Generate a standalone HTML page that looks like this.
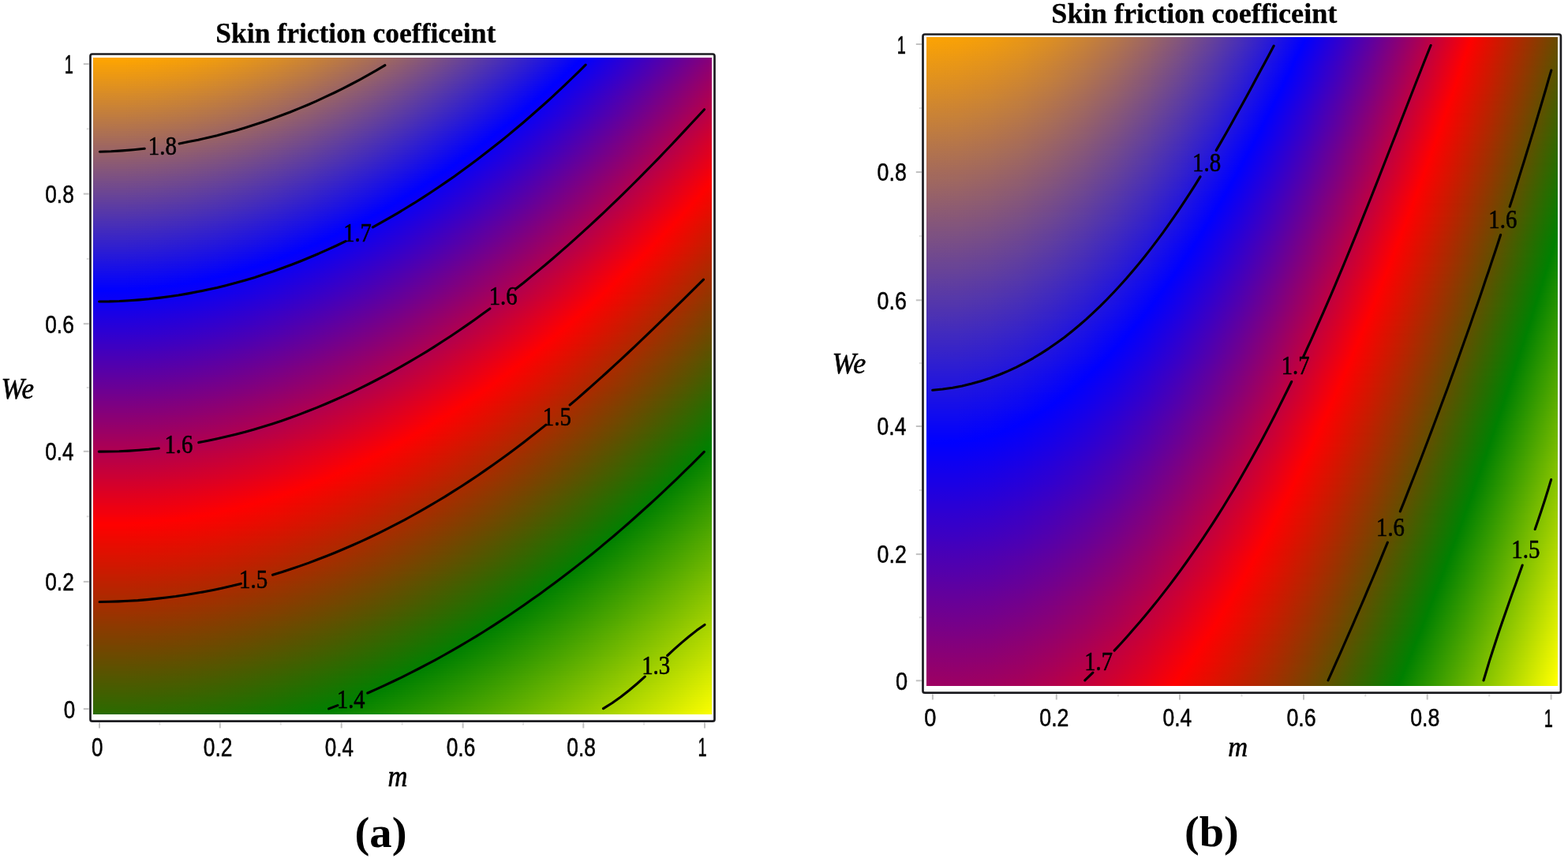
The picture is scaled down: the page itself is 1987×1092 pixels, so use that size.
<!DOCTYPE html><html><head><meta charset="utf-8"><title>Skin friction coefficeint</title><style>
html,body{margin:0;padding:0;background:#fff}
body{width:1987px;height:1092px;position:relative;overflow:hidden}
.g{position:absolute;overflow:hidden}
.g i{position:absolute;left:0;width:100%;display:block}
svg{position:absolute;left:0;top:0;filter:blur(0.6px)}
text{fill:#000;stroke:#000;stroke-width:.5px;stroke-linejoin:round}
.t{font:bold 36px "Liberation Serif",serif;stroke-width:.3px}
.n{font:30px "Liberation Sans",sans-serif}
.c{font:32px "Liberation Serif",serif;stroke-width:.6px}
.l{font:italic 30px "Liberation Serif",serif}
.p{font:bold 56px "Liberation Serif",serif;stroke-width:0}
</style></head><body>
<div class="g" style="left:118px;top:73px;width:784px;height:832px"><i style="top:0px;height:3px;background:linear-gradient(90deg,#fea401 0%,#fea401 5%,#fba204 10%,#f69f09 15%,#ee9a11 20%,#e5941a 25%,#d98c26 30%,#cb8334 35%,#bb7944 40%,#a96d56 45%,#95606a 50%,#7f5280 55%,#684397 60%,#4f33b0 65%,#3422cb 70%,#180fe7 75%,#00f 78.98%,#2500da 85%,#4500ba 90%,#609 95%,#890076 100%)"></i><i style="top:3px;height:3px;background:linear-gradient(90deg,#fca303 0%,#fba304 5%,#f8a107 10%,#f39d0c 15%,#ec9913 20%,#e2921d 25%,#d68b29 30%,#c88137 35%,#b87747 40%,#a66c59 45%,#925f6d 50%,#7d5182 55%,#65419a 60%,#4c31b3 65%,#3120ce 70%,#150eea 75%,#00f 78.58%,#2700d8 85%,#4700b8 90%,#690096 95%,#8b0074 100%)"></i><i style="top:6px;height:3px;background:linear-gradient(90deg,#f9a106 0%,#f9a106 5%,#f69f09 10%,#f19c0e 15%,#e99716 20%,#df9120 25%,#d4892b 30%,#c68039 35%,#b67549 40%,#a46a5b 45%,#905d6f 50%,#7a4f85 55%,#63409c 60%,#4a30b5 65%,#2f1ed0 70%,#130cec 75%,#00f 78.17%,#2a00d5 85%,#4a00b5 90%,#6b0094 95%,#8d0072 100%)"></i><i style="top:9px;height:3px;background:linear-gradient(90deg,#f69f09 0%,#f69f09 5%,#f39d0c 10%,#ee9a11 15%,#e79518 20%,#dd8f22 25%,#d1872e 30%,#c37e3c 35%,#b3744c 40%,#a1685e 45%,#8d5b72 50%,#784d87 55%,#603e9f 60%,#472eb8 65%,#2c1dd3 70%,#100bef 75%,#00f 77.77%,#2c00d3 85%,#4c00b3 90%,#6d0092 95%,#90006f 100%)"></i><i style="top:12px;height:3px;background:linear-gradient(90deg,#f49e0b 0%,#f39e0c 5%,#f19c0e 10%,#eb9814 15%,#e4931b 20%,#da8d25 25%,#ce8631 30%,#c07d3f 35%,#b0724f 40%,#9f6760 45%,#8b5a74 50%,#754c8a 55%,#5e3da1 60%,#452cba 65%,#2a1bd5 70%,#00f 77.36%,#1000ef 80%,#2e00d1 85%,#4e00b1 90%,#70008f 95%,#92006d 100%)"></i><i style="top:15px;height:3px;background:linear-gradient(90deg,#f19c0e 0%,#f19c0e 5%,#ee9a11 10%,#e99716 15%,#e1921e 20%,#d88c27 25%,#cc8433 30%,#be7b41 35%,#ae7151 40%,#9c6563 45%,#885877 50%,#734a8c 55%,#5b3ba4 60%,#422bbd 65%,#281ad7 70%,#00f 76.95%,#1200ed 80%,#3100ce 85%,#5100ae 90%,#72008d 95%,#94006b 100%)"></i><i style="top:18px;height:3px;background:linear-gradient(90deg,#ef9a10 0%,#ee9a11 5%,#eb9814 10%,#e69519 15%,#df9020 20%,#d58a2a 25%,#c98236 30%,#bb7944 35%,#ab6f54 40%,#996366 45%,#865679 50%,#70498f 55%,#5939a6 60%,#4029bf 65%,#2518da 70%,#00f 76.53%,#1400eb 80%,#30c 85%,#5300ac 90%,#74008b 95%,#970068 100%)"></i><i style="top:21px;height:3px;background:linear-gradient(90deg,#ec9913 0%,#ec9813 5%,#e99716 10%,#e4931b 15%,#dc8e23 20%,#d3882c 25%,#c78138 30%,#b97846 35%,#a96d56 40%,#976268 45%,#83557c 50%,#6e4791 55%,#5638a9 60%,#3d28c2 65%,#2316dc 70%,#00f 76.12%,#1700e8 80%,#3500ca 85%,#50a 90%,#760089 95%,#906 100%)"></i><i style="top:24px;height:3px;background:linear-gradient(90deg,#e99716 0%,#e99716 5%,#e69519 10%,#e1921e 15%,#da8d25 20%,#d0872f 25%,#c47f3b 30%,#b67649 35%,#a66c59 40%,#94606b 45%,#81537e 50%,#6b4594 55%,#5436ab 60%,#3b26c4 65%,#2015df 70%,#00f 75.7%,#1900e6 80%,#3800c7 85%,#5800a7 90%,#790086 95%,#9b0064 100%)"></i><i style="top:27px;height:3px;background:linear-gradient(90deg,#e79518 0%,#e69519 5%,#e4931b 10%,#df9020 15%,#d78b28 20%,#cd8532 25%,#c27d3d 30%,#b4744b 35%,#a46a5b 40%,#925e6d 45%,#7e5281 50%,#694496 55%,#5135ae 60%,#3824c7 65%,#1e13e1 70%,#00f 75.28%,#1c00e3 80%,#3a00c5 85%,#5a00a5 90%,#7b0084 95%,#9d0062 100%)"></i><i style="top:30px;height:3px;background:linear-gradient(90deg,#e4941b 0%,#e4931b 5%,#e1921e 10%,#dc8e23 15%,#d4892b 20%,#cb8334 25%,#bf7c40 30%,#b1734e 35%,#a1685e 40%,#8f5d70 45%,#7c5083 50%,#664299 55%,#4f33b0 60%,#3623c9 65%,#1b12e4 70%,#00f 74.86%,#1e00e1 80%,#3c00c3 85%,#5c00a3 90%,#7d0082 95%,#a0005f 100%)"></i><i style="top:33px;height:3px;background:linear-gradient(90deg,#e2921d 0%,#e1921e 5%,#df9020 10%,#d98d26 15%,#d2882d 20%,#c88237 25%,#bc7a43 30%,#af7150 35%,#9f6760 40%,#8d5b72 45%,#794e86 50%,#64409b 55%,#4c31b3 60%,#3321cc 65%,#1910e6 70%,#00f 74.44%,#2000df 80%,#3f00c0 85%,#5f00a0 90%,#80007f 95%,#a2005d 100%)"></i><i style="top:36px;height:3px;background:linear-gradient(90deg,#df9020 0%,#df9020 5%,#dc8e23 10%,#d78b28 15%,#cf8630 20%,#c68039 25%,#ba7845 30%,#ac6f53 35%,#9c6563 40%,#8a5975 45%,#774d88 50%,#613f9e 55%,#4a30b5 60%,#3120ce 65%,#160ee9 70%,#00f 74.01%,#2300dc 80%,#4100be 85%,#61009e 90%,#82007d 95%,#a4005b 100%)"></i><i style="top:39px;height:3px;background:linear-gradient(90deg,#dd8f22 0%,#dc8e23 5%,#d98d26 10%,#d4892b 15%,#cd8432 20%,#c37e3c 25%,#b77748 30%,#a96e56 35%,#9a6365 40%,#885877 45%,#744b8b 50%,#5f3da0 55%,#472eb8 60%,#2e1ed1 65%,#140deb 70%,#00f 73.58%,#2500da 80%,#40b 85%,#63009c 90%,#84007b 95%,#a60059 100%)"></i><i style="top:42px;height:3px;background:linear-gradient(90deg,#da8d25 0%,#da8d25 5%,#d78b28 10%,#d2882d 15%,#ca8335 20%,#c07d3f 25%,#b5754a 30%,#a76c58 35%,#976268 40%,#85567a 45%,#71498e 50%,#5c3ca3 55%,#452dba 60%,#2c1cd3 65%,#110bee 70%,#00f 73.15%,#2700d8 80%,#4600b9 85%,#609 90%,#870078 95%,#a90056 100%)"></i><i style="top:45px;height:3px;background:linear-gradient(90deg,#d78b28 0%,#d78b28 5%,#d4892b 10%,#cf8630 15%,#c88137 20%,#be7b41 25%,#b2734d 30%,#a46a5b 35%,#94606b 40%,#83557c 45%,#6f4890 50%,#593aa6 55%,#422bbd 60%,#291bd6 65%,#0f0af0 70%,#00f 72.71%,#2a00d5 80%,#4800b7 85%,#680097 90%,#890076 95%,#ab0054 100%)"></i><i style="top:48px;height:3px;background:linear-gradient(90deg,#d58a2a 0%,#d4892b 5%,#d2882d 10%,#cc8433 15%,#c57f3a 20%,#bb7944 25%,#b0724f 30%,#a2695d 35%,#925e6d 40%,#80537f 45%,#6c4693 50%,#5738a8 55%,#4029bf 60%,#2719d8 65%,#00f 72.28%,#0f00f0 75%,#2c00d3 80%,#4b00b4 85%,#6a0095 90%,#8b0074 95%,#ad0052 100%)"></i><i style="top:51px;height:3px;background:linear-gradient(90deg,#d2882d 0%,#d2882d 5%,#cf8630 10%,#ca8335 15%,#c27e3d 20%,#b97846 25%,#ad7052 30%,#9f6760 35%,#8f5d70 40%,#7e5181 45%,#6a4595 50%,#5437ab 55%,#3d28c2 60%,#2418db 65%,#00f 71.84%,#1200ed 75%,#2f00d0 80%,#4d00b2 85%,#6d0092 90%,#8e0071 95%,#b0004f 100%)"></i><i style="top:54px;height:3px;background:linear-gradient(90deg,#d0862f 0%,#cf8630 5%,#cc8433 10%,#c78138 15%,#c07c3f 20%,#b67649 25%,#aa6e55 30%,#9d6562 35%,#8d5b72 40%,#7b5084 45%,#674398 50%,#5235ad 55%,#3b26c4 60%,#2216dd 65%,#00f 71.39%,#1400eb 75%,#3100ce 80%,#4f00b0 85%,#6f0090 90%,#90006f 95%,#b2004d 100%)"></i><i style="top:57px;height:3px;background:linear-gradient(90deg,#cd8532 0%,#cd8432 5%,#ca8335 10%,#c57f3a 15%,#bd7a42 20%,#b4744b 25%,#a86d57 30%,#9a6465 35%,#8a5975 40%,#784e87 45%,#65419a 50%,#4f33b0 55%,#3824c7 60%,#2014df 65%,#00f 70.95%,#1600e9 75%,#30c 80%,#5200ad 85%,#71008e 90%,#92006d 95%,#b4004b 100%)"></i><i style="top:60px;height:3px;background:linear-gradient(90deg,#ca8335 0%,#ca8335 5%,#c78138 10%,#c27e3d 15%,#bb7944 20%,#b1734e 25%,#a56b5a 30%,#976268 35%,#885877 40%,#764c89 45%,#62409d 50%,#4d32b2 55%,#3623c9 60%,#1d13e2 65%,#00f 70.5%,#1900e6 75%,#3600c9 80%,#5400ab 85%,#74008b 90%,#94006b 95%,#b60049 100%)"></i><i style="top:63px;height:3px;background:linear-gradient(90deg,#c88137 0%,#c78138 5%,#c57f3a 10%,#bf7c40 15%,#b87747 20%,#ae7151 25%,#a3695c 30%,#95606a 35%,#85567a 40%,#734b8c 45%,#603e9f 50%,#4a30b5 55%,#3321cc 60%,#1b11e4 65%,#00f 70.05%,#1b00e4 75%,#3800c7 80%,#5600a9 85%,#760089 90%,#970068 95%,#b90046 100%)"></i><i style="top:66px;height:3px;background:linear-gradient(90deg,#c5803a 0%,#c57f3a 5%,#c27e3d 10%,#bd7a42 15%,#b5754a 20%,#ac6f53 25%,#a0685f 30%,#925f6d 35%,#83547c 40%,#71498e 45%,#5d3ca2 50%,#482fb7 55%,#3120ce 60%,#1810e7 65%,#00f 69.59%,#1e00e1 75%,#3b00c4 80%,#5900a6 85%,#780087 90%,#906 95%,#b04 100%)"></i><i style="top:69px;height:3px;background:linear-gradient(90deg,#c37e3c 0%,#c27e3d 5%,#bf7c40 10%,#ba7945 15%,#b3744c 20%,#a96e56 25%,#9e6661 30%,#905d6f 35%,#80537f 40%,#6e4791 45%,#5b3ba4 50%,#452dba 55%,#2e1ed1 60%,#160ee9 65%,#00f 69.14%,#2000df 75%,#3d00c2 80%,#5b00a4 85%,#7b0084 90%,#9b0064 95%,#bd0042 100%)"></i><i style="top:72px;height:3px;background:linear-gradient(90deg,#c07c3f 0%,#c07c3f 5%,#bd7a42 10%,#b87747 15%,#b0724f 20%,#a76c58 25%,#9b6464 30%,#8d5b72 35%,#7d5182 40%,#6c4693 45%,#5839a7 50%,#432bbc 55%,#2c1cd3 60%,#130cec 65%,#00f 68.68%,#20d 75%,#3f00c0 80%,#5d00a2 85%,#7d0082 90%,#9e0061 95%,#c0003f 100%)"></i><i style="top:75px;height:3px;background:linear-gradient(90deg,#bd7b42 0%,#bd7a42 5%,#ba7945 10%,#b5754a 15%,#ae7051 20%,#a46a5b 25%,#986367 30%,#8b5a74 35%,#7b5084 40%,#694496 45%,#5637a9 50%,#402abf 55%,#291bd6 60%,#110bee 65%,#00f 68.21%,#2500da 75%,#4200bd 80%,#60009f 85%,#7f0080 90%,#a0005f 95%,#c2003d 100%)"></i><i style="top:78px;height:3px;background:linear-gradient(90deg,#bb7944 0%,#ba7945 5%,#b87747 10%,#b3744c 15%,#ab6f54 20%,#a2695d 25%,#966169 30%,#885877 35%,#784e87 40%,#674298 45%,#5336ac 50%,#3e28c1 55%,#2719d8 60%,#0e09f1 65%,#00f 67.75%,#2700d8 75%,#40b 80%,#62009d 85%,#82007d 90%,#a2005d 95%,#c4003b 100%)"></i><i style="top:81px;height:3px;background:linear-gradient(90deg,#b87747 0%,#b87747 5%,#b5754a 10%,#b0724f 15%,#a96d56 20%,#9f6760 25%,#935f6c 30%,#865679 35%,#764c89 40%,#64419b 45%,#5134ae 50%,#3b26c4 55%,#2418db 60%,#00f 67.28%,#0e00f1 70%,#2a00d5 75%,#4600b9 80%,#65009a 85%,#84007b 90%,#a5005a 95%,#c60039 100%)"></i><i style="top:84px;height:3px;background:linear-gradient(90deg,#b67649 0%,#b5754a 5%,#b2734d 10%,#ad7052 15%,#a66b59 20%,#9c6563 25%,#915e6e 30%,#83557c 35%,#734b8c 40%,#623f9d 45%,#4e33b1 50%,#3925c6 55%,#2216dd 60%,#00f 66.81%,#10e 70%,#2c00d3 75%,#4900b6 80%,#670098 85%,#860079 90%,#a70058 95%,#c90036 100%)"></i><i style="top:87px;height:3px;background:linear-gradient(90deg,#b3744c 0%,#b3744c 5%,#b0724f 10%,#ab6f54 15%,#a36a5c 20%,#9a6465 25%,#8e5c71 30%,#80537f 35%,#71498e 40%,#5f3ea0 45%,#4c31b3 50%,#3623c9 55%,#1f14e0 60%,#00f 66.33%,#1300ec 70%,#2e00d1 75%,#4b00b4 80%,#690096 85%,#890076 90%,#a90056 95%,#cb0034 100%)"></i><i style="top:90px;height:3px;background:linear-gradient(90deg,#b0724f 0%,#b0724f 5%,#ad7052 10%,#a86d57 15%,#a1685e 20%,#976268 25%,#8c5a73 30%,#7e5181 35%,#6e4791 40%,#5d3ca2 45%,#492fb6 50%,#3422cb 55%,#1d13e2 60%,#00f 65.85%,#1600e9 70%,#3100ce 75%,#4e00b1 80%,#6c0093 85%,#8b0074 90%,#ab0054 95%,#cd0032 100%)"></i><i style="top:93px;height:3px;background:linear-gradient(90deg,#ae7151 0%,#ad7052 5%,#ab6e54 10%,#a66b59 15%,#9e6661 20%,#95606a 25%,#895976 30%,#7b5084 35%,#6c4693 40%,#5a3aa5 45%,#472eb8 50%,#3120ce 55%,#1a11e5 60%,#00f 65.37%,#1800e7 70%,#30c 75%,#5000af 80%,#6e0091 85%,#8d0072 90%,#ae0051 95%,#cf0030 100%)"></i><i style="top:96px;height:3px;background:linear-gradient(90deg,#ab6f54 0%,#ab6f54 5%,#a86d57 10%,#a3695c 15%,#9c6563 20%,#925f6d 25%,#865779 30%,#794e86 35%,#694496 40%,#5739a8 45%,#442cbb 50%,#2f1ed0 55%,#180fe7 60%,#00f 64.88%,#1a00e5 70%,#3600c9 75%,#5200ad 80%,#70008f 85%,#90006f 90%,#b0004f 95%,#d2002d 100%)"></i><i style="top:99px;height:3px;background:linear-gradient(90deg,#a96d56 0%,#a86d57 5%,#a66b59 10%,#a0685f 15%,#996366 20%,#905d6f 25%,#84557b 30%,#764c89 35%,#674298 40%,#5537aa 45%,#422abd 50%,#2c1dd3 55%,#150eea 60%,#00f 64.39%,#1d00e2 70%,#3800c7 75%,#50a 80%,#73008c 85%,#92006d 90%,#b2004d 95%,#d4002b 100%)"></i><i style="top:102px;height:3px;background:linear-gradient(90deg,#a66b59 0%,#a66b59 5%,#a3695c 10%,#9e6661 15%,#976168 20%,#8d5b72 25%,#81547e 30%,#744b8b 35%,#64419b 40%,#5235ad 45%,#3f29c0 50%,#2a1bd5 55%,#130cec 60%,#00f 63.9%,#1f00e0 70%,#3a00c5 75%,#5700a8 80%,#75008a 85%,#94006b 90%,#b5004a 95%,#d60029 100%)"></i><i style="top:105px;height:3px;background:linear-gradient(90deg,#a36a5c 0%,#a36a5c 5%,#a0685f 10%,#9b6464 15%,#94606b 20%,#8a5a75 25%,#7f5280 30%,#71498e 35%,#613f9e 40%,#5034af 45%,#3c27c3 50%,#2719d8 55%,#100bef 60%,#00f 63.4%,#20d 70%,#3d00c2 75%,#5900a6 80%,#708 85%,#970068 90%,#b70048 95%,#d90026 100%)"></i><i style="top:108px;height:3px;background:linear-gradient(90deg,#a1685e 0%,#a1685e 5%,#9e6661 10%,#996366 15%,#915e6e 20%,#885877 25%,#7c5083 30%,#6f4890 35%,#5f3da0 40%,#4d32b2 45%,#3a26c5 50%,#2518da 55%,#0e09f1 60%,#00f 62.9%,#2400db 70%,#3f00c0 75%,#5c00a3 80%,#7a0085 85%,#906 90%,#b90046 95%,#db0024 100%)"></i><i style="top:111px;height:3px;background:linear-gradient(90deg,#9e6661 0%,#9e6661 5%,#9b6464 10%,#966169 15%,#8f5c70 20%,#85567a 25%,#7a4f85 30%,#6c4693 35%,#5c3ca3 40%,#4b30b4 45%,#3724c8 50%,#2216dd 55%,#00f 62.39%,#0d00f2 65%,#2600d9 70%,#4200bd 75%,#5e00a1 80%,#7c0083 85%,#9b0064 90%,#bc0043 95%,#d02 100%)"></i><i style="top:114px;height:3px;background:linear-gradient(90deg,#9c6563 0%,#9b6564 5%,#996366 10%,#935f6c 15%,#8c5b73 20%,#83557c 25%,#774d88 30%,#694496 35%,#5a3aa5 40%,#482fb7 45%,#3522ca 50%,#2015df 55%,#00f 61.88%,#0f00f0 65%,#2900d6 70%,#40b 75%,#61009e 80%,#7e0081 85%,#9e0061 90%,#be0041 95%,#df0020 100%)"></i><i style="top:117px;height:3px;background:linear-gradient(90deg,#996366 0%,#996366 5%,#966169 10%,#915e6e 15%,#8a5975 20%,#80537f 25%,#744b8b 30%,#674398 35%,#5738a8 40%,#462db9 45%,#3221cd 50%,#1d13e2 55%,#00f 61.37%,#1200ed 65%,#2b00d4 70%,#4600b9 75%,#63009c 80%,#81007e 85%,#a0005f 90%,#c0003f 95%,#e2001d 100%)"></i><i style="top:120px;height:3px;background:linear-gradient(90deg,#976168 0%,#966169 5%,#935f6c 10%,#8e5c71 15%,#875778 20%,#7e5181 25%,#724a8d 30%,#64419b 35%,#5537aa 40%,#432bbc 45%,#301fcf 50%,#1b11e4 55%,#00f 60.85%,#1400eb 65%,#2e00d1 70%,#4900b6 75%,#65009a 80%,#83007c 85%,#a2005d 90%,#c2003d 95%,#e4001b 100%)"></i><i style="top:123px;height:3px;background:linear-gradient(90deg,#94606b 0%,#945f6b 5%,#915e6e 10%,#8c5a73 15%,#84567b 20%,#7b5084 25%,#6f4890 30%,#623f9d 35%,#5235ad 40%,#412abe 45%,#2d1dd2 50%,#1810e7 55%,#00f 60.32%,#1700e8 65%,#3000cf 70%,#4b00b4 75%,#680097 80%,#85007a 85%,#a5005a 90%,#c5003a 95%,#e60019 100%)"></i><i style="top:126px;height:3px;background:linear-gradient(90deg,#915e6e 0%,#915e6e 5%,#8e5c71 10%,#895976 15%,#82547d 20%,#784e87 25%,#6d4692 30%,#5f3ea0 35%,#5034af 40%,#3e28c1 45%,#2b1cd4 50%,#160ee9 55%,#00f 59.8%,#1900e6 65%,#30c 70%,#4e00b1 75%,#6a0095 80%,#807 85%,#a70058 90%,#c70038 95%,#e80017 100%)"></i><i style="top:129px;height:3px;background:linear-gradient(90deg,#8f5c70 0%,#8e5c71 5%,#8c5a73 10%,#875778 15%,#7f5280 20%,#764c89 25%,#6a4595 30%,#5d3ca2 35%,#4d32b2 40%,#3c27c3 45%,#281ad7 50%,#130cec 55%,#00f 59.27%,#1b00e4 65%,#3500ca 70%,#5000af 75%,#6c0093 80%,#8a0075 85%,#a90056 90%,#c90036 95%,#eb0014 100%)"></i><i style="top:132px;height:3px;background:linear-gradient(90deg,#8c5b73 0%,#8c5a73 5%,#895976 10%,#84557b 15%,#7d5182 20%,#734b8c 25%,#684397 30%,#5a3aa5 35%,#4b30b4 40%,#3925c6 45%,#2618d9 50%,#110bee 55%,#00f 58.73%,#1e00e1 65%,#3700c8 70%,#5200ad 75%,#6f0090 80%,#8d0072 85%,#ab0054 90%,#c03 95%,#ed0012 100%)"></i><i style="top:135px;height:3px;background:linear-gradient(90deg,#8a5975 0%,#895976 5%,#865779 10%,#81547e 15%,#7a4f85 20%,#71498e 25%,#65419a 30%,#5839a7 35%,#482fb7 40%,#3723c8 45%,#2317dc 50%,#0e09f1 55%,#00f 58.19%,#2000df 65%,#3a00c5 70%,#50a 75%,#71008e 80%,#8f0070 85%,#ae0051 90%,#ce0031 95%,#ef0010 100%)"></i><i style="top:138px;height:3px;background:linear-gradient(90deg,#875778 0%,#875778 5%,#84557b 10%,#7f5280 15%,#784d87 20%,#6e4791 25%,#63409c 30%,#5537aa 35%,#452dba 40%,#3422cb 45%,#2115de 50%,#0c08f3 55%,#00f 57.64%,#2300dc 65%,#3c00c3 70%,#5700a8 75%,#74008b 80%,#91006e 85%,#b0004f 90%,#d0002f 95%,#f1000e 100%)"></i><i style="top:141px;height:3px;background:linear-gradient(90deg,#84567b 0%,#84557b 5%,#81547e 10%,#7c5083 15%,#754c8a 20%,#6b4694 25%,#603e9f 30%,#5235ad 35%,#432bbc 40%,#3120ce 45%,#1e14e1 50%,#00f 57.09%,#0d00f2 60%,#2500da 65%,#3f00c0 70%,#5a00a5 75%,#760089 80%,#94006b 85%,#b2004d 90%,#d3002c 95%,#f4000b 100%)"></i><i style="top:144px;height:3px;background:linear-gradient(90deg,#82547d 0%,#81547e 5%,#7f5280 10%,#7a4f85 15%,#724a8d 20%,#694496 25%,#5d3ca2 30%,#5034af 35%,#402abf 40%,#2f1ed0 45%,#1c12e3 50%,#00f 56.53%,#1000ef 60%,#2800d7 65%,#4100be 70%,#5c00a3 75%,#780087 80%,#960069 85%,#b5004a 90%,#d5002a 95%,#f60009 100%)"></i><i style="top:147px;height:3px;background:linear-gradient(90deg,#7f5280 0%,#7f5280 5%,#7c5083 10%,#774d88 15%,#70488f 20%,#664299 25%,#5b3ba4 30%,#4d32b2 35%,#3e28c1 40%,#2c1dd3 45%,#1910e6 50%,#00f 55.97%,#1200ed 60%,#2a00d5 65%,#4300bc 70%,#5e00a1 75%,#7b0084 80%,#980067 85%,#b70048 90%,#d70028 95%,#f80007 100%)"></i><i style="top:150px;height:3px;background:linear-gradient(90deg,#7d5182 0%,#7c5083 5%,#794f86 10%,#744b8b 15%,#6d4792 20%,#64419b 25%,#5839a7 30%,#4b30b4 35%,#3b26c4 40%,#2a1bd5 45%,#170fe8 50%,#00f 55.4%,#1500ea 60%,#2c00d3 65%,#4600b9 70%,#61009e 75%,#7d0082 80%,#9b0064 85%,#b90046 90%,#d90026 95%,#fb0004 100%)"></i><i style="top:153px;height:3px;background:linear-gradient(90deg,#7a4f85 0%,#7a4f85 5%,#774d88 10%,#724a8d 15%,#6b4594 20%,#613f9e 25%,#5637a9 30%,#482fb7 35%,#3925c6 40%,#2719d8 45%,#140deb 50%,#00f 54.82%,#1700e8 60%,#2f00d0 65%,#4800b7 70%,#63009c 75%,#7f0080 80%,#9d0062 85%,#bc0043 90%,#dc0023 95%,#fd0002 100%)"></i><i style="top:156px;height:3px;background:linear-gradient(90deg,#774d88 0%,#774d88 5%,#744b8b 10%,#6f4890 15%,#684397 20%,#5f3da0 25%,#5336ac 30%,#462db9 35%,#3623c9 40%,#2518da 45%,#120bed 50%,#00f 54.24%,#1a00e5 60%,#3100ce 65%,#4b00b4 70%,#609 75%,#82007d 80%,#9f0060 85%,#be0041 90%,#de0021 95%,#f00 99.99%,#f00 100%)"></i><i style="top:159px;height:3px;background:linear-gradient(90deg,#754c8a 0%,#744b8b 5%,#724a8d 10%,#6d4692 15%,#65429a 20%,#5c3ca3 25%,#5134ae 30%,#432bbc 35%,#3421cb 40%,#2216dd 45%,#0f0af0 50%,#00f 53.66%,#1c00e3 60%,#3400cb 65%,#4d00b2 70%,#680097 75%,#84007b 80%,#a2005d 85%,#c0003f 90%,#e0001f 95%,#f00 99.65%,#fd0100 100%)"></i><i style="top:162px;height:3px;background:linear-gradient(90deg,#724a8d 0%,#724a8d 5%,#6f4890 10%,#6a4595 15%,#63409c 20%,#593aa6 25%,#4e32b1 30%,#402abf 35%,#3120ce 40%,#2015df 45%,#0d08f2 50%,#00f 53.06%,#1e00e1 60%,#3600c9 65%,#5000af 70%,#6a0095 75%,#870078 80%,#a4005b 85%,#c3003c 90%,#e3001c 95%,#f00 99.31%,#fa0200 100%)"></i><i style="top:165px;height:3px;background:linear-gradient(90deg,#70488f 0%,#6f4890 5%,#6c4693 10%,#674398 15%,#603e9f 20%,#5738a8 25%,#4b31b4 30%,#3e28c1 35%,#2e1ed1 40%,#1d13e2 45%,#00f 52.46%,#0b00f4 55%,#2100de 60%,#3900c6 65%,#5200ad 70%,#6d0092 75%,#890076 80%,#a60059 85%,#c5003a 90%,#e5001a 95%,#f00 98.97%,#f80400 100%)"></i><i style="top:168px;height:3px;background:linear-gradient(90deg,#6d4792 0%,#6d4692 5%,#6a4595 10%,#65419a 15%,#5e3da1 20%,#5437ab 25%,#492fb6 30%,#3b26c4 35%,#2c1cd3 40%,#1b11e4 45%,#00f 51.86%,#0d00f2 55%,#2300dc 60%,#3b00c4 65%,#5400ab 70%,#6f0090 75%,#8b0074 80%,#a90056 85%,#c70038 90%,#e70018 95%,#f00 98.63%,#f60500 100%)"></i><i style="top:171px;height:3px;background:linear-gradient(90deg,#6a4595 0%,#6a4595 5%,#674398 10%,#62409d 15%,#5b3ba4 20%,#5235ad 25%,#462db9 30%,#3925c6 35%,#291bd6 40%,#1810e7 45%,#00f 51.24%,#1000ef 55%,#2600d9 60%,#3e00c1 65%,#5700a8 70%,#72008d 75%,#8e0071 80%,#ab0054 85%,#ca0035 90%,#e90016 95%,#f00 98.29%,#f30600 100%)"></i><i style="top:174px;height:3px;background:linear-gradient(90deg,#684397 0%,#674398 5%,#65419a 10%,#603e9f 15%,#5839a7 20%,#4f33b0 25%,#442cbb 30%,#3623c9 35%,#2719d8 40%,#160ee9 45%,#00f 50.62%,#1200ed 55%,#2800d7 60%,#4000bf 65%,#5900a6 70%,#74008b 75%,#90006f 80%,#ad0052 85%,#c03 90%,#ec0013 95%,#f00 97.94%,#f10700 100%)"></i><i style="top:177px;height:3px;background:linear-gradient(90deg,#65419a 0%,#65419a 5%,#623f9d 10%,#5d3ca2 15%,#5638a9 20%,#4d32b2 25%,#412abe 30%,#3421cb 35%,#2417db 40%,#130cec 45%,#00f 50%,#1500ea 55%,#2b00d4 60%,#4200bd 65%,#5c00a3 70%,#760089 75%,#92006d 80%,#b0004f 85%,#ce0031 90%,#e01 95%,#f00 97.6%,#ef0800 100%)"></i><i style="top:180px;height:3px;background:linear-gradient(90deg,#63409c 0%,#62409d 5%,#603e9f 10%,#5b3ba4 15%,#5336ac 20%,#4a30b5 25%,#3f28c0 30%,#3120ce 35%,#2216dd 40%,#100bef 45%,#00f 49.36%,#1700e8 55%,#2d00d2 60%,#4500ba 65%,#5e00a1 70%,#790086 75%,#95006a 80%,#b2004d 85%,#d1002e 90%,#f00 97.25%,#ec0900 100%)"></i><i style="top:183px;height:3px;background:linear-gradient(90deg,#603e9f 0%,#603e9f 5%,#5d3ca2 10%,#5839a7 15%,#5134ae 20%,#472eb8 25%,#3c27c3 30%,#2f1ed0 35%,#1f14e0 40%,#0e09f1 45%,#00f 48.71%,#1900e6 55%,#3000cf 60%,#4700b8 65%,#60009f 70%,#7b0084 75%,#970068 80%,#b4004b 85%,#d3002c 90%,#f00 96.9%,#ea0a00 100%)"></i><i style="top:186px;height:3px;background:linear-gradient(90deg,#5d3ca2 0%,#5d3ca2 5%,#5a3aa5 10%,#5537aa 15%,#4e33b1 20%,#452dba 25%,#3925c6 30%,#2c1cd3 35%,#1d13e2 40%,#0b07f4 45%,#00f 48.06%,#1c00e3 55%,#3200cd 60%,#4a00b5 65%,#63009c 70%,#7e0081 75%,#9a0065 80%,#b70048 85%,#d5002a 90%,#f00 96.55%,#e80c00 100%)"></i><i style="top:189px;height:3px;background:linear-gradient(90deg,#5b3ba4 0%,#5a3ba5 5%,#5839a7 10%,#5336ac 15%,#4c31b3 20%,#422bbd 25%,#3723c8 30%,#291bd6 35%,#1a11e5 40%,#00f 47.4%,#0a00f5 50%,#1e00e1 55%,#3500ca 60%,#4c00b3 65%,#65009a 70%,#80007f 75%,#9c0063 80%,#b90046 85%,#d80027 90%,#f00 96.2%,#e60d00 100%)"></i><i style="top:192px;height:3px;background:linear-gradient(90deg,#5839a7 0%,#5839a7 5%,#5537aa 10%,#5034af 15%,#492fb6 20%,#4029bf 25%,#3422cb 30%,#2719d8 35%,#180fe7 40%,#00f 46.73%,#0c00f3 50%,#2100de 55%,#3700c8 60%,#4f00b0 65%,#680097 70%,#82007d 75%,#9e0061 80%,#b04 85%,#da0025 90%,#f00 95.85%,#e30e00 100%)"></i><i style="top:195px;height:3px;background:linear-gradient(90deg,#5637a9 0%,#5537aa 5%,#5335ac 10%,#4e32b1 15%,#462eb9 20%,#3d28c2 25%,#3220cd 30%,#2417db 35%,#150eea 40%,#00f 46.05%,#0f00f0 50%,#2300dc 55%,#3900c6 60%,#5100ae 65%,#6a0095 70%,#85007a 75%,#a1005e 80%,#be0041 85%,#dc0023 90%,#f00 95.49%,#e10f00 100%)"></i><i style="top:198px;height:3px;background:linear-gradient(90deg,#5336ac 0%,#5335ac 5%,#5034af 10%,#4b31b4 15%,#442cbb 20%,#3a26c5 25%,#2f1ed0 30%,#2216dd 35%,#120ced 40%,#00f 45.35%,#10e 50%,#2600d9 55%,#3c00c3 60%,#5300ac 65%,#6d0092 70%,#870078 75%,#a3005c 80%,#c0003f 85%,#df0020 90%,#f00 95.14%,#df1000 100%)"></i><i style="top:201px;height:3px;background:linear-gradient(90deg,#5034af 0%,#5034af 5%,#4d32b2 10%,#482fb7 15%,#412abe 20%,#3824c7 25%,#2d1dd2 30%,#1f14e0 35%,#100aef 40%,#00f 44.65%,#1400eb 50%,#2800d7 55%,#3e00c1 60%,#5600a9 65%,#6f0090 70%,#890076 75%,#a5005a 80%,#c2003d 85%,#e1001e 90%,#f00 94.78%,#dc1100 100%)"></i><i style="top:204px;height:3px;background:linear-gradient(90deg,#4e32b1 0%,#4d32b2 5%,#4b30b4 10%,#462db9 15%,#3f29c0 20%,#3523ca 25%,#2a1bd5 30%,#1d13e2 35%,#0d09f2 40%,#00f 43.94%,#1600e9 50%,#2b00d4 55%,#4100be 60%,#5800a7 65%,#71008e 70%,#8c0073 75%,#a80057 80%,#c5003a 85%,#e3001c 90%,#f00 94.42%,#da1300 100%)"></i><i style="top:207px;height:3px;background:linear-gradient(90deg,#4b31b4 0%,#4b30b4 5%,#482fb7 10%,#432bbc 15%,#3c27c3 20%,#3321cc 25%,#2719d8 30%,#1a11e5 35%,#0b07f4 40%,#00f 43.22%,#1900e6 50%,#2d00d2 55%,#4300bc 60%,#5b00a4 65%,#74008b 70%,#8e0071 75%,#a05 80%,#c70038 85%,#e60019 90%,#f00 94.06%,#d81400 100%)"></i><i style="top:210px;height:3px;background:linear-gradient(90deg,#492fb6 0%,#482fb7 5%,#462db9 10%,#412abe 15%,#3925c6 20%,#301fcf 25%,#2518da 30%,#180fe7 35%,#00f 42.48%,#0900f6 45%,#1b00e4 50%,#3000cf 55%,#4600b9 60%,#5d00a2 65%,#760089 70%,#91006e 75%,#ac0053 80%,#ca0035 85%,#e80017 90%,#f00 93.7%,#d51500 100%)"></i><i style="top:213px;height:3px;background:linear-gradient(90deg,#462db9 0%,#462db9 5%,#432bbc 10%,#3e28c1 15%,#3723c8 20%,#2e1dd1 25%,#2216dd 30%,#150eea 35%,#00f 41.73%,#0b00f4 45%,#1e00e1 50%,#3200cd 55%,#4800b7 60%,#60009f 65%,#790086 70%,#93006c 75%,#af0050 80%,#c03 85%,#ea0015 90%,#f00 93.34%,#d31600 100%)"></i><i style="top:216px;height:3px;background:linear-gradient(90deg,#432cbc 0%,#432bbc 5%,#402abf 10%,#3b26c4 15%,#3422cb 20%,#2b1cd4 25%,#2015df 30%,#120ced 35%,#00f 40.96%,#0e00f1 45%,#2000df 50%,#3500ca 55%,#4b00b4 60%,#62009d 65%,#7b0084 70%,#95006a 75%,#b1004e 80%,#ce0031 85%,#ec0013 90%,#f00 92.98%,#d11700 100%)"></i><i style="top:219px;height:3px;background:linear-gradient(90deg,#412abe 0%,#402abf 5%,#3e28c1 10%,#3925c6 15%,#3220cd 20%,#281ad7 25%,#1d13e2 30%,#100aef 35%,#00f 40.19%,#1000ef 45%,#2300dc 50%,#3700c8 55%,#4d00b2 60%,#65009a 65%,#7d0082 70%,#980067 75%,#b4004b 80%,#d1002e 85%,#ef0010 90%,#f00 92.61%,#cf1800 100%)"></i><i style="top:222px;height:3px;background:linear-gradient(90deg,#3e28c1 0%,#3e28c1 5%,#3b26c4 10%,#3623c9 15%,#2f1ed0 20%,#2618d9 25%,#1b11e4 30%,#0d09f2 35%,#00f 39.39%,#1300ec 45%,#2500da 50%,#3a00c5 55%,#5000af 60%,#670098 65%,#80007f 70%,#9a0065 75%,#b60049 80%,#d3002c 85%,#f00 92.24%,#ed0900 95%,#cc1a00 100%)"></i><i style="top:225px;height:3px;background:linear-gradient(90deg,#3c27c3 0%,#3b26c4 5%,#3925c6 10%,#3421cb 15%,#2d1dd2 20%,#2317dc 25%,#1810e7 30%,#0b07f4 35%,#00f 38.58%,#1500ea 45%,#2800d7 50%,#3c00c3 55%,#5200ad 60%,#690096 65%,#82007d 70%,#9d0062 75%,#b80047 80%,#d5002a 85%,#f00 91.87%,#eb0a00 95%,#ca1b00 100%)"></i><i style="top:228px;height:3px;background:linear-gradient(90deg,#3925c6 0%,#3925c6 5%,#3623c9 10%,#3120ce 15%,#2a1bd5 20%,#2115de 25%,#150eea 30%,#0805f7 35%,#00f 37.76%,#1800e7 45%,#2a00d5 50%,#3f00c0 55%,#5400ab 60%,#6c0093 65%,#85007a 70%,#9f0060 75%,#b04 80%,#d80027 85%,#f00 91.5%,#e90b00 95%,#c81c00 100%)"></i><i style="top:231px;height:3px;background:linear-gradient(90deg,#3623c9 0%,#3623c9 5%,#3321cc 10%,#2e1ed1 15%,#2719d8 20%,#1e13e1 25%,#130cec 30%,#00f 36.91%,#0900f6 40%,#1a00e5 45%,#2d00d2 50%,#4100be 55%,#5700a8 60%,#6e0091 65%,#870078 70%,#a1005e 75%,#bd0042 80%,#da0025 85%,#f00 91.13%,#e60c00 95%,#c51d00 100%)"></i><i style="top:234px;height:3px;background:linear-gradient(90deg,#3421cb 0%,#3321cc 5%,#3120ce 10%,#2c1cd3 15%,#2518da 20%,#1c12e3 25%,#100bef 30%,#00f 36.05%,#0c00f3 40%,#1d00e2 45%,#2f00d0 50%,#4300bc 55%,#5900a6 60%,#71008e 65%,#8a0075 70%,#a4005b 75%,#bf0040 80%,#dc0023 85%,#f00 90.76%,#e40e00 95%,#c31e00 100%)"></i><i style="top:237px;height:3px;background:linear-gradient(90deg,#3120ce 0%,#3120ce 5%,#2e1ed1 10%,#291bd6 15%,#2216dd 20%,#1910e6 25%,#0e09f1 30%,#00f 35.16%,#0e00f1 40%,#1f00e0 45%,#3200cd 50%,#4600b9 55%,#5c00a3 60%,#73008c 65%,#8c0073 70%,#a60059 75%,#c2003d 80%,#df0020 85%,#f00 90.38%,#e20f00 95%,#c11f00 100%)"></i><i style="top:240px;height:3px;background:linear-gradient(90deg,#2f1ed0 0%,#2e1ed1 5%,#2c1cd3 10%,#2719d8 15%,#2014df 20%,#160ee9 25%,#0b07f4 30%,#00f 34.25%,#10e 40%,#20d 45%,#3400cb 50%,#4800b7 55%,#5e00a1 60%,#760089 65%,#8e0071 70%,#a90056 75%,#c4003b 80%,#e1001e 85%,#f00 90%,#df1000 95%,#be2000 100%)"></i><i style="top:243px;height:3px;background:linear-gradient(90deg,#2c1cd3 0%,#2c1cd3 5%,#291bd6 10%,#2417db 15%,#1d13e2 20%,#140deb 25%,#0906f6 30%,#00f 33.32%,#1400eb 40%,#2400db 45%,#3700c8 50%,#4b00b4 55%,#61009e 60%,#780087 65%,#91006e 70%,#ab0054 75%,#c60039 80%,#e3001c 85%,#f00 89.62%,#d10 95%,#bc2200 100%)"></i><i style="top:246px;height:3px;background:linear-gradient(90deg,#291bd6 0%,#291bd6 5%,#2619d9 10%,#2116de 15%,#1a11e5 20%,#110bee 25%,#00f 32.36%,#0700f8 35%,#1600e9 40%,#2700d8 45%,#3900c6 50%,#4d00b2 55%,#63009c 60%,#7a0085 65%,#93006c 70%,#ad0052 75%,#c90036 80%,#e60019 85%,#f00 89.24%,#db1200 95%,#ba2300 100%)"></i><i style="top:249px;height:3px;background:linear-gradient(90deg,#2719d8 0%,#2619d9 5%,#2417db 10%,#1f14e0 15%,#180fe7 20%,#0f09f0 25%,#00f 31.36%,#0a00f5 35%,#1900e6 40%,#2900d6 45%,#3c00c3 50%,#5000af 55%,#609 60%,#7d0082 65%,#960069 70%,#b0004f 75%,#cb0034 80%,#e80017 85%,#f00 88.86%,#d81300 95%,#b72400 100%)"></i><i style="top:252px;height:3px;background:linear-gradient(90deg,#2417db 0%,#2417db 5%,#2115de 10%,#1c12e3 15%,#150eea 20%,#0c08f3 25%,#00f 30.34%,#0c00f3 35%,#1b00e4 40%,#2c00d3 45%,#3e00c1 50%,#5200ad 55%,#680097 60%,#7f0080 65%,#980067 70%,#b2004d 75%,#ce0031 80%,#ea0015 85%,#f00 88.48%,#d61500 95%,#b52500 100%)"></i><i style="top:255px;height:3px;background:linear-gradient(90deg,#2216dd 0%,#2115de 5%,#1f14e0 10%,#1a11e5 15%,#130cec 20%,#0906f6 25%,#00f 29.28%,#0f00f0 35%,#1e00e1 40%,#2e00d1 45%,#4100be 50%,#50a 55%,#6a0095 60%,#82007d 65%,#9a0065 70%,#b5004a 75%,#d0002f 80%,#ed0012 85%,#f00 88.09%,#d41600 95%,#b32600 100%)"></i><i style="top:258px;height:3px;background:linear-gradient(90deg,#1f14e0 0%,#1f14e0 5%,#1c12e3 10%,#170fe8 15%,#100aef 20%,#0704f8 25%,#00f 28.18%,#10e 35%,#2000df 40%,#3100ce 45%,#4300bc 50%,#5700a8 55%,#6d0092 60%,#84007b 65%,#9d0062 70%,#b70048 75%,#d2002d 80%,#ef0010 85%,#f00 87.7%,#d11700 95%,#b12700 100%)"></i><i style="top:261px;height:3px;background:linear-gradient(90deg,#1c12e3 0%,#1c12e3 5%,#1910e6 10%,#150dea 15%,#0d09f2 20%,#00f 27.03%,#0700f8 30%,#1400eb 35%,#2300dc 40%,#30c 45%,#4600b9 50%,#5a00a5 55%,#6f0090 60%,#870078 65%,#9f0060 70%,#b90046 75%,#d5002a 80%,#f00 87.31%,#ef0800 90%,#cf1800 95%,#ae2900 100%)"></i><i style="top:264px;height:3px;background:linear-gradient(90deg,#1a11e5 0%,#1910e6 5%,#170fe8 10%,#120ced 15%,#0b07f4 20%,#00f 25.83%,#0900f6 30%,#1600e9 35%,#2500da 40%,#3600c9 45%,#4800b7 50%,#5c00a3 55%,#72008d 60%,#890076 65%,#a2005d 70%,#bc0043 75%,#d70028 80%,#f00 86.92%,#ec0900 90%,#cd1900 95%,#ac2a00 100%)"></i><i style="top:267px;height:3px;background:linear-gradient(90deg,#170fe8 0%,#170fe8 5%,#140deb 10%,#0f0af0 15%,#0805f7 20%,#00f 24.57%,#0c00f3 30%,#1900e6 35%,#2800d7 40%,#3800c7 45%,#4b00b4 50%,#5f00a0 55%,#74008b 60%,#8b0074 65%,#a4005b 70%,#be0041 75%,#d90026 80%,#f00 86.53%,#ea0b00 90%,#ca1a00 95%,#aa2b00 100%)"></i><i style="top:270px;height:3px;background:linear-gradient(90deg,#150dea 0%,#140deb 5%,#120bed 10%,#0d08f2 15%,#0604f9 20%,#00f 23.25%,#0e00f1 30%,#1b00e4 35%,#2a00d5 40%,#3b00c4 45%,#4d00b2 50%,#61009e 55%,#708 60%,#8e0071 65%,#a60059 70%,#c0003f 75%,#dc0023 80%,#f00 86.13%,#e70c00 90%,#c81c00 95%,#a72c00 100%)"></i><i style="top:273px;height:3px;background:linear-gradient(90deg,#120ced 0%,#120bed 5%,#0f0af0 10%,#0a07f5 15%,#00f 21.83%,#0600f9 25%,#10e 30%,#1e00e1 35%,#2d00d2 40%,#3d00c2 45%,#5000af 50%,#64009b 55%,#790086 60%,#90006f 65%,#a90056 70%,#c3003c 75%,#de0021 80%,#f00 85.74%,#e50d00 90%,#c61d00 95%,#a52d00 100%)"></i><i style="top:276px;height:3px;background:linear-gradient(90deg,#0f0af0 0%,#0f0af0 5%,#0c08f3 10%,#0805f7 15%,#00f 20.31%,#0800f7 25%,#1300ec 30%,#2000df 35%,#2f00d0 40%,#4000bf 45%,#5200ad 50%,#609 55%,#7c0083 60%,#93006c 65%,#ab0054 70%,#c5003a 75%,#e1001e 80%,#f00 85.34%,#e30e00 90%,#c31e00 95%,#a32e00 100%)"></i><i style="top:279px;height:3px;background:linear-gradient(90deg,#0d08f2 0%,#0c08f3 5%,#0a06f5 10%,#0503fa 15%,#00f 18.66%,#0b00f4 25%,#1600e9 30%,#2300dc 35%,#3200cd 40%,#4200bd 45%,#50a 50%,#690096 55%,#7e0081 60%,#95006a 65%,#ae0051 70%,#c80037 75%,#e3001c 80%,#f00 84.94%,#e00f00 90%,#c11f00 95%,#a12f00 100%)"></i><i style="top:282px;height:3px;background:linear-gradient(90deg,#0a07f5 0%,#0a06f5 5%,#0705f8 10%,#00f 16.84%,#0500fa 20%,#0e00f1 25%,#1900e6 30%,#2500da 35%,#3400cb 40%,#4500ba 45%,#5700a8 50%,#6b0094 55%,#81007e 60%,#980067 65%,#b0004f 70%,#ca0035 75%,#e5001a 80%,#f00 84.53%,#de1100 90%,#bf2000 95%,#9e3100 100%)"></i><i style="top:285px;height:3px;background:linear-gradient(90deg,#0705f8 0%,#0705f8 5%,#0503fa 10%,#00f 14.77%,#0700f8 20%,#1000ef 25%,#1b00e4 30%,#2800d7 35%,#3700c8 40%,#4700b8 45%,#5a00a5 50%,#6d0092 55%,#83007c 60%,#9a0065 65%,#b3004c 70%,#c03 75%,#e80017 80%,#f00 84.13%,#dc1200 90%,#bc2100 95%,#9c3200 100%)"></i><i style="top:288px;height:3px;background:linear-gradient(90deg,#0503fa 0%,#0503fa 5%,#00f 12.32%,#0300fc 15%,#0a00f5 20%,#1300ec 25%,#1e00e1 30%,#2b00d4 35%,#3900c6 40%,#4a00b5 45%,#5c00a3 50%,#70008f 55%,#85007a 60%,#9c0063 65%,#b5004a 70%,#cf0030 75%,#ea0015 80%,#f00 83.72%,#d91300 90%,#ba2300 95%,#9a3300 100%)"></i><i style="top:291px;height:3px;background:linear-gradient(90deg,#0201fd 0%,#0201fd 5%,#00f 9.101%,#0500fa 15%,#0c00f3 20%,#1500ea 25%,#2000df 30%,#2d00d2 35%,#3c00c3 40%,#4c00b3 45%,#5f00a0 50%,#72008d 55%,#807 60%,#9f0060 65%,#b70048 70%,#d1002e 75%,#ec0013 80%,#f00 83.31%,#d71400 90%,#b82400 95%,#973400 100%)"></i><i style="top:294px;height:3px;background:linear-gradient(90deg,#00f 0%,#0100fe 5%,#0300fc 10%,#0800f7 15%,#0f00f0 20%,#1800e7 25%,#2300dc 30%,#3000cf 35%,#3e00c1 40%,#4f00b0 45%,#61009e 50%,#75008a 55%,#8a0075 60%,#a1005e 65%,#ba0045 70%,#d4002b 75%,#ef0010 80%,#f00 82.9%,#d51500 90%,#b52500 95%,#953500 100%)"></i><i style="top:297px;height:3px;background:linear-gradient(90deg,#0300fc 0%,#0300fc 5%,#0600f9 10%,#0b00f4 15%,#10e 20%,#1a00e5 25%,#2500da 30%,#3200cd 35%,#4100be 40%,#5100ae 45%,#64009b 50%,#708 55%,#8d0072 60%,#a4005b 65%,#bc0043 70%,#d60029 75%,#f00 82.49%,#f00700 85%,#d21600 90%,#b32600 95%,#933600 100%)"></i><i style="top:300px;height:3px;background:linear-gradient(90deg,#0500fa 0%,#0600f9 5%,#0800f7 10%,#0d00f2 15%,#1400eb 20%,#1d00e2 25%,#2800d7 30%,#3500ca 35%,#4300bc 40%,#5400ab 45%,#609 50%,#7a0085 55%,#8f0070 60%,#a60059 65%,#bf0040 70%,#d80027 75%,#f00 82.07%,#ee0900 85%,#d01800 90%,#b12700 95%,#903700 100%)"></i><i style="top:303px;height:3px;background:linear-gradient(90deg,#0800f7 0%,#0800f7 5%,#0b00f4 10%,#1000ef 15%,#1700e8 20%,#1f00e0 25%,#2a00d5 30%,#3700c8 35%,#4600b9 40%,#5600a9 45%,#680097 50%,#7c0083 55%,#92006d 60%,#a90056 65%,#c1003e 70%,#db0024 75%,#f00 81.65%,#ec0a00 85%,#ce1900 90%,#ae2800 95%,#8e3900 100%)"></i><i style="top:306px;height:3px;background:linear-gradient(90deg,#0b00f4 0%,#0b00f4 5%,#0d00f2 10%,#1200ed 15%,#1900e6 20%,#20d 25%,#2d00d2 30%,#3a00c5 35%,#4800b7 40%,#5900a6 45%,#6b0094 50%,#7f0080 55%,#94006b 60%,#ab0054 65%,#c3003c 70%,#d02 75%,#f00 81.23%,#e90b00 85%,#cb1a00 90%,#ac2a00 95%,#8c3a00 100%)"></i><i style="top:309px;height:3px;background:linear-gradient(90deg,#0d00f2 0%,#0d00f2 5%,#1000ef 10%,#1500ea 15%,#1c00e3 20%,#2500da 25%,#2f00d0 30%,#3c00c3 35%,#4b00b4 40%,#5b00a4 45%,#6d0092 50%,#81007e 55%,#970068 60%,#ad0052 65%,#c60039 70%,#e0001f 75%,#f00 80.81%,#e70c00 85%,#c91b00 90%,#aa2b00 95%,#8a3b00 100%)"></i><i style="top:312px;height:3px;background:linear-gradient(90deg,#1000ef 0%,#1000ef 5%,#1300ec 10%,#1700e8 15%,#1e00e1 20%,#2700d8 25%,#3200cd 30%,#3f00c0 35%,#4d00b2 40%,#5e00a1 45%,#70008f 50%,#84007b 55%,#906 60%,#b0004f 65%,#c80037 70%,#e2001d 75%,#f00 80.39%,#e40d00 85%,#c61c00 90%,#a72c00 95%,#873c00 100%)"></i><i style="top:315px;height:3px;background:linear-gradient(90deg,#1200ed 0%,#1300ec 5%,#1500ea 10%,#1a00e5 15%,#2100de 20%,#2a00d5 25%,#3400cb 30%,#4100be 35%,#5000af 40%,#60009f 45%,#72008d 50%,#860079 55%,#9c0063 60%,#b2004d 65%,#cb0034 70%,#e4001b 75%,#f00 79.96%,#e20f00 85%,#c41e00 90%,#a52d00 95%,#853d00 100%)"></i><i style="top:318px;height:3px;background:linear-gradient(90deg,#1500ea 0%,#1500ea 5%,#1800e7 10%,#1c00e3 15%,#2300dc 20%,#2c00d3 25%,#3700c8 30%,#40b 35%,#5200ad 40%,#63009c 45%,#75008a 50%,#890076 55%,#9e0061 60%,#b5004a 65%,#cd0032 70%,#e70018 75%,#f00 79.53%,#e01000 85%,#c21f00 90%,#a32e00 95%,#833e00 100%)"></i><i style="top:321px;height:3px;background:linear-gradient(90deg,#1800e7 0%,#1800e7 5%,#1a00e5 10%,#1f00e0 15%,#2600d9 20%,#2f00d0 25%,#3a00c5 30%,#4600b9 35%,#50a 40%,#65009a 45%,#708 50%,#8b0074 55%,#a0005f 60%,#b70048 65%,#cf0030 70%,#e90016 75%,#f00 79.1%,#d10 85%,#bf2000 90%,#a02f00 95%,#804000 100%)"></i><i style="top:324px;height:3px;background:linear-gradient(90deg,#1a00e5 0%,#1a00e5 5%,#1d00e2 10%,#20d 15%,#2800d7 20%,#3100ce 25%,#3c00c3 30%,#4900b6 35%,#5700a8 40%,#680097 45%,#7a0085 50%,#8e0071 55%,#a3005c 60%,#ba0045 65%,#d2002d 70%,#eb0014 75%,#f00 78.66%,#db1200 85%,#bd2100 90%,#9e3100 95%,#7e4100 100%)"></i><i style="top:327px;height:3px;background:linear-gradient(90deg,#1d00e2 0%,#1d00e2 5%,#1f00e0 10%,#2400db 15%,#2b00d4 20%,#3400cb 25%,#3f00c0 30%,#4b00b4 35%,#5a00a5 40%,#6a0095 45%,#7c0083 50%,#90006f 55%,#a5005a 60%,#bc0043 65%,#d4002b 70%,#e01 75%,#f00 78.23%,#d91300 85%,#b20 90%,#9c3200 95%,#7c4200 100%)"></i><i style="top:330px;height:3px;background:linear-gradient(90deg,#1f00e0 0%,#2000df 5%,#20d 10%,#2700d8 15%,#2e00d1 20%,#3600c9 25%,#4100be 30%,#4e00b1 35%,#5c00a3 40%,#6d0092 45%,#7f0080 50%,#93006c 55%,#a80057 60%,#bf0040 65%,#d70028 70%,#f0000f 75%,#f00 77.79%,#d61500 85%,#b82300 90%,#930 95%,#7a4300 100%)"></i><i style="top:333px;height:3px;background:linear-gradient(90deg,#20d 0%,#20d 5%,#2500da 10%,#2900d6 15%,#3000cf 20%,#3900c6 25%,#40b 30%,#5000af 35%,#5f00a0 40%,#6f0090 45%,#81007e 50%,#95006a 55%,#a05 60%,#c1003e 65%,#d90026 70%,#f00 77.34%,#f00700 80%,#d41600 85%,#b62500 90%,#973400 95%,#740 100%)"></i><i style="top:336px;height:3px;background:linear-gradient(90deg,#2400db 0%,#2500da 5%,#2700d8 10%,#2c00d3 15%,#30c 20%,#3b00c4 25%,#4600b9 30%,#5300ac 35%,#62009d 40%,#72008d 45%,#84007b 50%,#970068 55%,#ad0052 60%,#c3003c 65%,#db0024 70%,#f00 76.9%,#ee0900 80%,#d11700 85%,#b42600 90%,#953500 95%,#754500 100%)"></i><i style="top:339px;height:3px;background:linear-gradient(90deg,#2700d8 0%,#2700d8 5%,#2a00d5 10%,#2e00d1 15%,#3500ca 20%,#3e00c1 25%,#4900b6 30%,#5600a9 35%,#64009b 40%,#74008b 45%,#860079 50%,#9a0065 55%,#af0050 60%,#c60039 65%,#de0021 70%,#f00 76.45%,#ec0a00 80%,#cf1800 85%,#b12700 90%,#923600 95%,#734600 100%)"></i><i style="top:342px;height:3px;background:linear-gradient(90deg,#2a00d5 0%,#2a00d5 5%,#2c00d3 10%,#3100ce 15%,#3800c7 20%,#4100be 25%,#4b00b4 30%,#5800a7 35%,#670098 40%,#708 45%,#890076 50%,#9c0063 55%,#b2004d 60%,#c80037 65%,#e0001f 70%,#f00 76%,#e90b00 80%,#cd1900 85%,#af2800 90%,#903800 95%,#704800 100%)"></i><i style="top:345px;height:3px;background:linear-gradient(90deg,#2c00d3 0%,#2c00d3 5%,#2f00d0 10%,#3400cb 15%,#3a00c5 20%,#4300bc 25%,#4e00b1 30%,#5b00a4 35%,#690096 40%,#790086 45%,#8b0074 50%,#9f0060 55%,#b4004b 60%,#cb0034 65%,#e3001c 70%,#f00 75.55%,#e70c00 80%,#ca1a00 85%,#ad2900 90%,#8e3900 95%,#6e4900 100%)"></i><i style="top:348px;height:3px;background:linear-gradient(90deg,#2f00d0 0%,#2f00d0 5%,#3100ce 10%,#3600c9 15%,#3d00c2 20%,#4600b9 25%,#5000af 30%,#5d00a2 35%,#6c0093 40%,#7c0083 45%,#8e0071 50%,#a1005e 55%,#b60049 60%,#cd0032 65%,#e5001a 70%,#f00 75.09%,#e40d00 80%,#c81c00 85%,#aa2b00 90%,#8c3a00 95%,#6c4a00 100%)"></i><i style="top:351px;height:3px;background:linear-gradient(90deg,#3100ce 0%,#3200cd 5%,#3400cb 10%,#3900c6 15%,#3f00c0 20%,#4800b7 25%,#5300ac 30%,#60009f 35%,#6e0091 40%,#7e0081 45%,#90006f 50%,#a4005b 55%,#b90046 60%,#d0002f 65%,#e80017 70%,#f00 74.63%,#e20f00 80%,#c51d00 85%,#a82c00 90%,#893b00 95%,#694b00 100%)"></i><i style="top:354px;height:3px;background:linear-gradient(90deg,#3400cb 0%,#3400cb 5%,#3700c8 10%,#3b00c4 15%,#4200bd 20%,#4b00b4 25%,#5600a9 30%,#62009d 35%,#71008e 40%,#81007e 45%,#93006c 50%,#a60059 55%,#b04 60%,#d2002d 65%,#ea0015 70%,#f00 74.17%,#df1000 80%,#c31e00 85%,#a62d00 90%,#873c00 95%,#674c00 100%)"></i><i style="top:357px;height:3px;background:linear-gradient(90deg,#3600c9 0%,#3700c8 5%,#3900c6 10%,#3e00c1 15%,#4500ba 20%,#4d00b2 25%,#5800a7 30%,#65009a 35%,#73008c 40%,#83007c 45%,#95006a 50%,#a90056 55%,#be0041 60%,#d4002b 65%,#ec0013 70%,#f00 73.71%,#d10 80%,#c11f00 85%,#a32e00 90%,#853d00 95%,#654d00 100%)"></i><i style="top:360px;height:3px;background:linear-gradient(90deg,#3900c6 0%,#3900c6 5%,#3c00c3 10%,#4000bf 15%,#4700b8 20%,#5000af 25%,#5b00a4 30%,#670098 35%,#760089 40%,#860079 45%,#980067 50%,#ab0054 55%,#c0003f 60%,#d70028 65%,#ef0010 70%,#f00 73.24%,#db1200 80%,#be2000 85%,#a12f00 90%,#823f00 95%,#634e00 100%)"></i><i style="top:363px;height:3px;background:linear-gradient(90deg,#3c00c3 0%,#3c00c3 5%,#3e00c1 10%,#4300bc 15%,#4a00b5 20%,#5200ad 25%,#5d00a2 30%,#6a0095 35%,#780087 40%,#807 45%,#9a0065 50%,#ae0051 55%,#c3003c 60%,#d90026 65%,#f1000e 70%,#f00 72.77%,#d81300 80%,#bc2200 85%,#9e3000 90%,#804000 95%,#605000 100%)"></i><i style="top:366px;height:3px;background:linear-gradient(90deg,#3e00c1 0%,#3e00c1 5%,#4100be 10%,#4600b9 15%,#4c00b3 20%,#50a 25%,#60009f 30%,#6c0093 35%,#7b0084 40%,#8b0074 45%,#9d0062 50%,#b0004f 55%,#c5003a 60%,#dc0023 65%,#f00 72.3%,#f10700 75%,#d61500 80%,#ba2300 85%,#9c3200 90%,#7e4100 95%,#5e5100 100%)"></i><i style="top:369px;height:3px;background:linear-gradient(90deg,#4100be 0%,#4100be 5%,#4300bc 10%,#4800b7 15%,#4f00b0 20%,#5800a7 25%,#62009d 30%,#6f0090 35%,#7d0082 40%,#8d0072 45%,#9f0060 50%,#b3004c 55%,#c80037 60%,#de0021 65%,#f00 71.82%,#ee0800 75%,#d31600 80%,#b72400 85%,#9a3300 90%,#7b4200 95%,#5c5200 100%)"></i><i style="top:372px;height:3px;background:linear-gradient(90deg,#4300bc 0%,#40b 5%,#4600b9 10%,#4b00b4 15%,#5100ae 20%,#5a00a5 25%,#65009a 30%,#71008e 35%,#80007f 40%,#90006f 45%,#a2005d 50%,#b5004a 55%,#ca0035 60%,#e1001e 65%,#f00 71.34%,#ec0a00 75%,#d11700 80%,#b52500 85%,#973400 90%,#794300 95%,#595300 100%)"></i><i style="top:375px;height:3px;background:linear-gradient(90deg,#4600b9 0%,#4600b9 5%,#4900b6 10%,#4d00b2 15%,#5400ab 20%,#5d00a2 25%,#670098 30%,#74008b 35%,#82007d 40%,#92006d 45%,#a4005b 50%,#b80047 55%,#cd0032 60%,#e3001c 65%,#f00 70.86%,#ea0b00 75%,#cf1800 80%,#b22600 85%,#953500 90%,#740 95%,#575400 100%)"></i><i style="top:378px;height:3px;background:linear-gradient(90deg,#4900b6 0%,#4900b6 5%,#4b00b4 10%,#5000af 15%,#5600a9 20%,#5f00a0 25%,#6a0095 30%,#760089 35%,#85007a 40%,#95006a 45%,#a70058 50%,#ba0045 55%,#cf0030 60%,#e5001a 65%,#f00 70.37%,#e70c00 75%,#cc1900 80%,#b02800 85%,#933600 90%,#744600 95%,#550 100%)"></i><i style="top:381px;height:3px;background:linear-gradient(90deg,#4b00b4 0%,#4b00b4 5%,#4e00b1 10%,#5200ad 15%,#5900a6 20%,#62009d 25%,#6c0093 30%,#790086 35%,#870078 40%,#970068 45%,#a90056 50%,#bc0043 55%,#d1002e 60%,#e80017 65%,#f00 69.88%,#e50d00 75%,#ca1b00 80%,#ae2900 85%,#903800 90%,#724700 95%,#535700 100%)"></i><i style="top:384px;height:3px;background:linear-gradient(90deg,#4e00b1 0%,#4e00b1 5%,#5000af 10%,#50a 15%,#5c00a3 20%,#64009b 25%,#6f0090 30%,#7b0084 35%,#8a0075 40%,#9a0065 45%,#ac0053 50%,#bf0040 55%,#d4002b 60%,#ea0015 65%,#f00 69.38%,#e20e00 75%,#c71c00 80%,#ab2a00 85%,#8e3900 90%,#704800 95%,#505800 100%)"></i><i style="top:387px;height:3px;background:linear-gradient(90deg,#5000af 0%,#5000af 5%,#5300ac 10%,#5700a8 15%,#5e00a1 20%,#670098 25%,#71008e 30%,#7e0081 35%,#8c0073 40%,#9c0063 45%,#ae0051 50%,#c1003e 55%,#d60029 60%,#ed0012 65%,#f00 68.89%,#e01000 75%,#c51d00 80%,#a92b00 85%,#8c3a00 90%,#6d4900 95%,#4e5900 100%)"></i><i style="top:390px;height:3px;background:linear-gradient(90deg,#5300ac 0%,#5300ac 5%,#50a 10%,#5a00a5 15%,#61009e 20%,#690096 25%,#74008b 30%,#81007e 35%,#8f0070 40%,#9f0060 45%,#b1004e 50%,#c4003b 55%,#d90026 60%,#ef0010 65%,#f00 68.38%,#d10 75%,#c31e00 80%,#a72c00 85%,#893b00 90%,#6b4a00 95%,#4c5a00 100%)"></i><i style="top:393px;height:3px;background:linear-gradient(90deg,#50a 0%,#5600a9 5%,#5800a7 10%,#5d00a2 15%,#63009c 20%,#6c0093 25%,#708 30%,#83007c 35%,#91006e 40%,#a1005e 45%,#b3004c 50%,#c60039 55%,#db0024 60%,#f2000d 65%,#f00 67.88%,#db1200 75%,#c02000 80%,#a42e00 85%,#873c00 90%,#694b00 95%,#495b00 100%)"></i><i style="top:396px;height:3px;background:linear-gradient(90deg,#5800a7 0%,#5800a7 5%,#5b00a4 10%,#5f00a0 15%,#609 20%,#6f0090 25%,#790086 30%,#860079 35%,#94006b 40%,#a4005b 45%,#b60049 50%,#c90036 55%,#de0021 60%,#f00 67.37%,#f20600 70%,#d91300 75%,#be2100 80%,#a22f00 85%,#853d00 90%,#664d00 95%,#475c00 100%)"></i><i style="top:399px;height:3px;background:linear-gradient(90deg,#5b00a4 0%,#5b00a4 5%,#5d00a2 10%,#62009d 15%,#680097 20%,#71008e 25%,#7c0083 30%,#807 35%,#960069 40%,#a60059 45%,#b80047 50%,#cb0034 55%,#e0001f 60%,#f00 66.86%,#f00800 70%,#d61400 75%,#b20 80%,#9f3000 85%,#823f00 90%,#644e00 95%,#455d00 100%)"></i><i style="top:402px;height:3px;background:linear-gradient(90deg,#5d00a2 0%,#5d00a2 5%,#60009f 10%,#64009b 15%,#6b0094 20%,#74008b 25%,#7e0081 30%,#8b0074 35%,#906 40%,#a90056 45%,#b04 50%,#ce0031 55%,#e3001c 60%,#f00 66.34%,#ed0900 70%,#d41600 75%,#b92300 80%,#9d3100 85%,#804000 90%,#624f00 95%,#435f00 100%)"></i><i style="top:405px;height:3px;background:linear-gradient(90deg,#60009f 0%,#60009f 5%,#62009d 10%,#670098 15%,#6e0091 20%,#760089 25%,#81007e 30%,#8d0072 35%,#9b0064 40%,#ab0054 45%,#bd0042 50%,#d0002f 55%,#e5001a 60%,#f00 65.82%,#eb0a00 70%,#d11700 75%,#b72400 80%,#9b3200 85%,#7e4100 90%,#5f5000 95%,#406000 100%)"></i><i style="top:408px;height:3px;background:linear-gradient(90deg,#62009d 0%,#63009c 5%,#65009a 10%,#690096 15%,#70008f 20%,#790086 25%,#83007c 30%,#90006f 35%,#9e0061 40%,#ae0051 45%,#bf0040 50%,#d3002c 55%,#e70018 60%,#f00 65.29%,#e80b00 70%,#cf1800 75%,#b42600 80%,#983400 85%,#7b4200 90%,#5d5100 95%,#3e6100 100%)"></i><i style="top:411px;height:3px;background:linear-gradient(90deg,#65009a 0%,#65009a 5%,#680097 10%,#6c0093 15%,#73008c 20%,#7b0084 25%,#860079 30%,#92006d 35%,#a0005f 40%,#b0004f 45%,#c2003d 50%,#d5002a 55%,#ea0015 60%,#f00 64.76%,#e60d00 70%,#cc1900 75%,#b22700 80%,#963500 85%,#794300 90%,#5b5200 95%,#3c6200 100%)"></i><i style="top:414px;height:3px;background:linear-gradient(90deg,#670098 0%,#680097 5%,#6a0095 10%,#6f0090 15%,#75008a 20%,#7e0081 25%,#807 30%,#95006a 35%,#a3005c 40%,#b3004c 45%,#c4003b 50%,#d80027 55%,#ec0013 60%,#f00 64.23%,#e30e00 70%,#ca1b00 75%,#af2800 80%,#943600 85%,#740 90%,#595400 95%,#396300 100%)"></i><i style="top:417px;height:3px;background:linear-gradient(90deg,#6a0095 0%,#6a0095 5%,#6d0092 10%,#71008e 15%,#780087 20%,#80007f 25%,#8b0074 30%,#970068 35%,#a5005a 40%,#b5004a 45%,#c70038 50%,#da0025 55%,#ef0010 60%,#f00 63.69%,#e10f00 70%,#c81c00 75%,#ad2900 80%,#913700 85%,#744600 90%,#565500 95%,#376400 100%)"></i><i style="top:420px;height:3px;background:linear-gradient(90deg,#6d0092 0%,#6d0092 5%,#6f0090 10%,#74008b 15%,#7a0085 20%,#83007c 25%,#8d0072 30%,#9a0065 35%,#a80057 40%,#b80047 45%,#c90036 50%,#d02 55%,#f1000e 60%,#f00 63.15%,#df1000 70%,#c51d00 75%,#ab2a00 80%,#8f3800 85%,#724700 90%,#545600 95%,#356500 100%)"></i><i style="top:423px;height:3px;background:linear-gradient(90deg,#6f0090 0%,#6f0090 5%,#72008d 10%,#760089 15%,#7d0082 20%,#85007a 25%,#90006f 30%,#9c0063 35%,#ab0054 40%,#ba0045 45%,#c03 50%,#df0020 55%,#f4000b 60%,#f00 62.6%,#dc1200 70%,#c31e00 75%,#a82c00 80%,#8c3900 85%,#704800 90%,#525700 95%,#336700 100%)"></i><i style="top:426px;height:3px;background:linear-gradient(90deg,#72008d 0%,#72008d 5%,#74008b 10%,#790086 15%,#7f0080 20%,#807 25%,#93006c 30%,#9f0060 35%,#ad0052 40%,#bd0042 45%,#ce0031 50%,#e2001d 55%,#f00 62.05%,#f20700 65%,#da1300 70%,#c01f00 75%,#a62d00 80%,#8a3b00 85%,#6d4900 90%,#4f5800 95%,#306800 100%)"></i><i style="top:429px;height:3px;background:linear-gradient(90deg,#74008b 0%,#75008a 5%,#708 10%,#7b0084 15%,#82007d 20%,#8b0074 25%,#95006a 30%,#a1005e 35%,#b0004f 40%,#bf0040 45%,#d1002e 50%,#e4001b 55%,#f00 61.49%,#ef0800 65%,#d71400 70%,#be2100 75%,#a32e00 80%,#883c00 85%,#6b4a00 90%,#4d5900 95%,#2e6900 100%)"></i><i style="top:432px;height:3px;background:linear-gradient(90deg,#708 0%,#708 5%,#7a0085 10%,#7e0081 15%,#85007a 20%,#8d0072 25%,#980067 30%,#a4005b 35%,#b2004d 40%,#c2003d 45%,#d3002c 50%,#e60019 55%,#f00 60.92%,#ed0900 65%,#d51500 70%,#b20 75%,#a12f00 80%,#853d00 85%,#694c00 90%,#4b5b00 95%,#2c6a00 100%)"></i><i style="top:435px;height:3px;background:linear-gradient(90deg,#7a0085 0%,#7a0085 5%,#7c0083 10%,#81007e 15%,#870078 20%,#90006f 25%,#9a0065 30%,#a60059 35%,#b5004a 40%,#c4003b 45%,#d60029 50%,#e90016 55%,#f00 60.36%,#ea0a00 65%,#d21600 70%,#b92300 75%,#9f3000 80%,#833e00 85%,#664d00 90%,#485c00 95%,#2a6b00 100%)"></i><i style="top:438px;height:3px;background:linear-gradient(90deg,#7c0083 0%,#7c0083 5%,#7f0080 10%,#83007c 15%,#8a0075 20%,#92006d 25%,#9d0062 30%,#a90056 35%,#b70048 40%,#c70038 45%,#d80027 50%,#eb0014 55%,#f00 59.78%,#e80c00 65%,#d01800 70%,#b72400 75%,#9c3200 80%,#813f00 85%,#644e00 90%,#465d00 95%,#276c00 100%)"></i><i style="top:441px;height:3px;background:linear-gradient(90deg,#7f0080 0%,#7f0080 5%,#81007e 10%,#860079 15%,#8c0073 20%,#95006a 25%,#9f0060 30%,#ac0053 35%,#ba0045 40%,#c90036 45%,#db0024 50%,#e01 55%,#f00 59.2%,#e50d00 65%,#cd1900 70%,#b42600 75%,#9a3300 80%,#7e4100 85%,#624f00 90%,#445e00 95%,#256d00 100%)"></i><i style="top:444px;height:3px;background:linear-gradient(90deg,#81007e 0%,#82007d 5%,#84007b 10%,#807 15%,#8f0070 20%,#970068 25%,#a2005d 30%,#ae0051 35%,#bc0043 40%,#c03 45%,#d02 50%,#f0000f 55%,#f00 58.62%,#e30e00 65%,#cb1a00 70%,#b22700 75%,#973400 80%,#7c4200 85%,#5f5000 90%,#415f00 95%,#236f00 100%)"></i><i style="top:447px;height:3px;background:linear-gradient(90deg,#84007b 0%,#84007b 5%,#860079 10%,#8b0074 15%,#91006e 20%,#9a0065 25%,#a4005b 30%,#b1004e 35%,#bf0040 40%,#ce0031 45%,#e0001f 50%,#f3000c 55%,#f00 58.03%,#e00f00 65%,#c81b00 70%,#af2800 75%,#953500 80%,#794300 85%,#5d5100 90%,#3f6000 95%,#207000 100%)"></i><i style="top:450px;height:3px;background:linear-gradient(90deg,#870078 0%,#870078 5%,#890076 10%,#8d0072 15%,#94006b 20%,#9c0063 25%,#a70058 30%,#b3004c 35%,#c1003e 40%,#d1002e 45%,#e2001d 50%,#f00 57.43%,#f40500 60%,#de1100 65%,#c61d00 70%,#ad2900 75%,#933600 80%,#740 85%,#5a5300 90%,#3d6100 95%,#1e7100 100%)"></i><i style="top:453px;height:3px;background:linear-gradient(90deg,#890076 0%,#890076 5%,#8c0073 10%,#90006f 15%,#970068 20%,#9f0060 25%,#a90056 30%,#b60049 35%,#c4003b 40%,#d3002c 45%,#e5001a 50%,#f00 56.82%,#f20700 60%,#db1200 65%,#c41e00 70%,#ab2a00 75%,#903800 80%,#754500 85%,#585400 90%,#3a6300 95%,#1c7200 100%)"></i><i style="top:456px;height:3px;background:linear-gradient(90deg,#8c0073 0%,#8c0073 5%,#8e0071 10%,#93006c 15%,#906 20%,#a2005d 25%,#ac0053 30%,#b80047 35%,#c60039 40%,#d60029 45%,#e70018 50%,#f00 56.21%,#ef0800 60%,#d91300 65%,#c11f00 70%,#a82c00 75%,#8e3900 80%,#724700 85%,#565500 90%,#386400 95%,#1a7300 100%)"></i><i style="top:459px;height:3px;background:linear-gradient(90deg,#8e0071 0%,#8e0071 5%,#91006e 10%,#95006a 15%,#9c0063 20%,#a4005b 25%,#af0050 30%,#b04 35%,#c90036 40%,#d80027 45%,#ea0015 50%,#f00 55.6%,#ed0900 60%,#d61400 65%,#bf2000 70%,#a62d00 75%,#8b3a00 80%,#704800 85%,#535600 90%,#366500 95%,#177400 100%)"></i><i style="top:462px;height:3px;background:linear-gradient(90deg,#91006e 0%,#91006e 5%,#93006c 10%,#980067 15%,#9e0061 20%,#a70058 25%,#b1004e 30%,#bd0042 35%,#cb0034 40%,#db0024 45%,#ec0013 50%,#f00 54.97%,#ea0a00 60%,#d41600 65%,#bc2200 70%,#a32e00 75%,#893b00 80%,#6e4900 85%,#515700 90%,#346600 95%,#157500 100%)"></i><i style="top:465px;height:3px;background:linear-gradient(90deg,#93006c 0%,#94006b 5%,#960069 10%,#9a0065 15%,#a1005e 20%,#a90056 25%,#b4004b 30%,#c0003f 35%,#ce0031 40%,#d02 45%,#ef0010 50%,#f00 54.34%,#e80c00 60%,#d11700 65%,#ba2300 70%,#a12f00 75%,#873c00 80%,#6b4a00 85%,#4f5800 90%,#316700 95%,#137700 100%)"></i><i style="top:468px;height:3px;background:linear-gradient(90deg,#960069 0%,#960069 5%,#980067 10%,#9d0062 15%,#a3005c 20%,#ac0053 25%,#b60049 30%,#c2003d 35%,#d0002f 40%,#e0001f 45%,#f1000e 50%,#f00 53.7%,#e50d00 60%,#cf1800 65%,#b72400 70%,#9e3000 75%,#843e00 80%,#694b00 85%,#4c5a00 90%,#2f6800 95%,#107800 100%)"></i><i style="top:471px;height:3px;background:linear-gradient(90deg,#906 0%,#906 5%,#9b0064 10%,#9f0060 15%,#a60059 20%,#ae0051 25%,#b90046 30%,#c5003a 35%,#d3002c 40%,#e2001d 45%,#f4000b 50%,#f00 53.05%,#e30e00 60%,#cc1900 65%,#b52500 70%,#9c3200 75%,#823f00 80%,#674d00 85%,#4a5b00 90%,#2d6a00 95%,#0e7900 100%)"></i><i style="top:474px;height:3px;background:linear-gradient(90deg,#9b0064 0%,#9b0064 5%,#9e0061 10%,#a2005d 15%,#a80057 20%,#b1004e 25%,#b04 30%,#c70038 35%,#d5002a 40%,#e5001a 45%,#f00 52.4%,#f50500 55%,#e01000 60%,#ca1b00 65%,#b22600 70%,#9a3300 75%,#7f4000 80%,#644e00 85%,#485c00 90%,#2a6b00 95%,#0c7a00 100%)"></i><i style="top:477px;height:3px;background:linear-gradient(90deg,#9e0061 0%,#9e0061 5%,#a0005f 10%,#a5005a 15%,#ab0054 20%,#b3004c 25%,#be0041 30%,#ca0035 35%,#d80027 40%,#e70018 45%,#f00 51.74%,#f20600 55%,#de1100 60%,#c71c00 65%,#b02800 70%,#973400 75%,#7d4100 80%,#624f00 85%,#455d00 90%,#286c00 95%,#0a7b00 100%)"></i><i style="top:480px;height:3px;background:linear-gradient(90deg,#a0005f 0%,#a1005e 5%,#a3005c 10%,#a70058 15%,#ae0051 20%,#b60049 25%,#c0003f 30%,#c03 35%,#da0025 40%,#ea0015 45%,#f00 51.06%,#f00800 55%,#db1200 60%,#c51d00 65%,#ae2900 70%,#953500 75%,#7b4200 80%,#5f5000 85%,#435e00 90%,#266d00 95%,#077c00 100%)"></i><i style="top:483px;height:3px;background:linear-gradient(90deg,#a3005c 0%,#a3005c 5%,#a5005a 10%,#a05 15%,#b0004f 20%,#b90046 25%,#c3003c 30%,#cf0030 35%,#d02 40%,#ec0013 45%,#f00 50.38%,#ed0900 55%,#d91300 60%,#c31e00 65%,#ab2a00 70%,#923700 75%,#784400 80%,#5d5100 85%,#416000 90%,#236e00 95%,#057d00 100%)"></i><i style="top:486px;height:3px;background:linear-gradient(90deg,#a60059 0%,#a60059 5%,#a80057 10%,#ac0053 15%,#b3004c 20%,#b04 25%,#c5003a 30%,#d2002d 35%,#df0020 40%,#ef0010 45%,#f00 49.69%,#eb0a00 55%,#d61500 60%,#c02000 65%,#a92b00 70%,#903800 75%,#764500 80%,#5b5200 85%,#3e6100 90%,#216f00 95%,#037f00 100%)"></i><i style="top:489px;height:3px;background:linear-gradient(90deg,#a80057 0%,#a80057 5%,#ab0054 10%,#af0050 15%,#b5004a 20%,#be0041 25%,#c80037 30%,#d4002b 35%,#e2001d 40%,#f1000e 45%,#f00 48.99%,#e80b00 55%,#d41600 60%,#be2100 65%,#a62d00 70%,#8d3900 75%,#734600 80%,#585400 85%,#3c6200 90%,#1f7100 95%,#018000 100%)"></i><i style="top:492px;height:3px;background:linear-gradient(90deg,#ab0054 0%,#ab0054 5%,#ad0052 10%,#b1004e 15%,#b80047 20%,#c0003f 25%,#ca0035 30%,#d70028 35%,#e4001b 40%,#f4000b 45%,#f00 48.28%,#e60d00 55%,#d11700 60%,#b20 65%,#a42e00 70%,#8b3a00 75%,#714700 80%,#565500 85%,#3a6300 90%,#1c7200 95%,#008000 99.72%,#028100 100%)"></i><i style="top:495px;height:3px;background:linear-gradient(90deg,#ad0052 0%,#ad0052 5%,#b0004f 10%,#b4004b 15%,#ba0045 20%,#c3003c 25%,#cd0032 30%,#d90026 35%,#e70018 40%,#f60009 45%,#f00 47.56%,#e30e00 55%,#cf1800 60%,#b92300 65%,#a12f00 70%,#893b00 75%,#6f4800 80%,#545600 85%,#376400 90%,#1a7300 95%,#008000 99.34%,#048200 100%)"></i><i style="top:498px;height:3px;background:linear-gradient(90deg,#b0004f 0%,#b0004f 5%,#b2004d 10%,#b70048 15%,#bd0042 20%,#c5003a 25%,#d0002f 30%,#dc0023 35%,#e90016 40%,#f00 46.83%,#f40600 50%,#e10f00 55%,#cc1a00 60%,#b62500 65%,#9f3000 70%,#863d00 75%,#6c4a00 80%,#515700 85%,#356500 90%,#187400 95%,#008000 98.97%,#068300 100%)"></i><i style="top:501px;height:3px;background:linear-gradient(90deg,#b3004c 0%,#b3004c 5%,#b5004a 10%,#b90046 15%,#c0003f 20%,#c80037 25%,#d2002d 30%,#de0021 35%,#ec0013 40%,#f00 46.08%,#f10700 50%,#de1000 55%,#ca1b00 60%,#b42600 65%,#9c3200 70%,#843e00 75%,#6a4b00 80%,#4f5800 85%,#336700 90%,#167500 95%,#008000 98.59%,#088400 100%)"></i><i style="top:504px;height:3px;background:linear-gradient(90deg,#b5004a 0%,#b5004a 5%,#b70048 10%,#bc0043 15%,#c2003d 20%,#ca0035 25%,#d5002a 30%,#e1001e 35%,#e01 40%,#f00 45.33%,#ef0800 50%,#dc1200 55%,#c71c00 60%,#b12700 65%,#9a3300 70%,#813f00 75%,#674c00 80%,#4c5a00 85%,#306800 90%,#137600 95%,#008000 98.22%,#0b8500 100%)"></i><i style="top:507px;height:3px;background:linear-gradient(90deg,#b80047 0%,#b80047 5%,#ba0045 10%,#be0041 15%,#c5003a 20%,#cd0032 25%,#d70028 30%,#e3001c 35%,#f1000e 40%,#f00 44.56%,#ec0900 50%,#d91300 55%,#c51d00 60%,#af2800 65%,#973400 70%,#7f4000 75%,#654d00 80%,#4a5b00 85%,#2e6900 90%,#170 95%,#008000 97.84%,#0d8600 100%)"></i><i style="top:510px;height:3px;background:linear-gradient(90deg,#ba0045 0%,#ba0045 5%,#bd0042 10%,#c1003e 15%,#c70038 20%,#d0002f 25%,#da0025 30%,#e60019 35%,#f4000b 40%,#f00 43.77%,#ea0b00 50%,#d71400 55%,#c21f00 60%,#ac2a00 65%,#953500 70%,#7c4200 75%,#634e00 80%,#485c00 85%,#2c6a00 90%,#008000 97.46%,#0f8800 100%)"></i><i style="top:513px;height:3px;background:linear-gradient(90deg,#bd0042 0%,#bd0042 5%,#bf0040 10%,#c4003b 15%,#ca0035 20%,#d2002d 25%,#dc0023 30%,#e80017 35%,#f60009 40%,#f00 42.97%,#e70c00 50%,#d41600 55%,#c02000 60%,#aa2b00 65%,#933600 70%,#7a4300 75%,#605000 80%,#455d00 85%,#296b00 90%,#008000 97.07%,#118900 100%)"></i><i style="top:516px;height:3px;background:linear-gradient(90deg,#bf0040 0%,#c0003f 5%,#c2003d 10%,#c60039 15%,#c03 20%,#d5002a 25%,#df0020 30%,#eb0014 35%,#f00 42.16%,#f60500 45%,#e50d00 50%,#d21700 55%,#bd2100 60%,#a72c00 65%,#903800 70%,#784400 75%,#5e5100 80%,#435e00 85%,#276c00 90%,#008000 96.69%,#148a00 100%)"></i><i style="top:519px;height:3px;background:linear-gradient(90deg,#c2003d 0%,#c2003d 5%,#c4003b 10%,#c90036 15%,#cf0030 20%,#d70028 25%,#e1001e 30%,#ed0012 35%,#f00 41.33%,#f30600 45%,#e20f00 50%,#cf1800 55%,#b20 60%,#a52d00 65%,#8e3900 70%,#754500 75%,#5b5200 80%,#416000 85%,#256e00 90%,#008000 96.3%,#168b00 100%)"></i><i style="top:522px;height:3px;background:linear-gradient(90deg,#c5003a 0%,#c5003a 5%,#c70038 10%,#cb0034 15%,#d2002d 20%,#da0025 25%,#e4001b 30%,#f0000f 35%,#f00 40.48%,#f10700 45%,#df1000 50%,#cd1900 55%,#b82400 60%,#a22e00 65%,#8b3a00 70%,#734600 75%,#595300 80%,#3e6100 85%,#226f00 90%,#008000 95.92%,#188c00 100%)"></i><i style="top:525px;height:3px;background:linear-gradient(90deg,#c70038 0%,#c70038 5%,#ca0035 10%,#ce0031 15%,#d4002b 20%,#dc0023 25%,#e60019 30%,#f2000d 35%,#f00 39.62%,#ee0800 45%,#d10 50%,#ca1b00 55%,#b62500 60%,#a03000 65%,#893b00 70%,#704800 75%,#575400 80%,#3c6200 85%,#207000 90%,#008000 95.53%,#1a8d00 100%)"></i><i style="top:528px;height:3px;background:linear-gradient(90deg,#ca0035 0%,#ca0035 5%,#c03 10%,#d0002f 15%,#d70028 20%,#df0020 25%,#e90016 30%,#f5000a 35%,#f00 38.73%,#ec0a00 45%,#da1200 50%,#c81c00 55%,#b32600 60%,#9d3100 65%,#863d00 70%,#6e4900 75%,#545600 80%,#3a6300 85%,#1e7100 90%,#008000 95.14%,#1c8e00 100%)"></i><i style="top:531px;height:3px;background:linear-gradient(90deg,#c03 0%,#c03 5%,#cf0030 10%,#d3002c 15%,#d90026 20%,#e1001e 25%,#ec0013 30%,#f70008 35%,#f00 37.83%,#e90b00 45%,#d81400 50%,#c51d00 55%,#b12700 60%,#9b3200 65%,#843e00 70%,#6c4a00 75%,#525700 80%,#376400 85%,#1b7200 90%,#008000 94.74%,#1f8f00 100%)"></i><i style="top:534px;height:3px;background:linear-gradient(90deg,#cf0030 0%,#cf0030 5%,#d1002e 10%,#d60029 15%,#dc0023 20%,#e4001b 25%,#e01 30%,#f00 36.9%,#f60400 40%,#e70c00 45%,#d51500 50%,#c31e00 55%,#ae2900 60%,#930 65%,#813f00 70%,#694b00 75%,#505800 80%,#356500 85%,#197300 90%,#008000 94.35%,#219000 100%)"></i><i style="top:537px;height:3px;background:linear-gradient(90deg,#d2002d 0%,#d2002d 5%,#d4002b 10%,#d80027 15%,#de0021 20%,#e70018 25%,#f1000e 30%,#f00 35.95%,#f40600 40%,#e40e00 45%,#d31600 50%,#c02000 55%,#ac2a00 60%,#963500 65%,#7f4000 70%,#674c00 75%,#4d5900 80%,#326700 85%,#177500 90%,#008000 93.95%,#239200 100%)"></i><i style="top:540px;height:3px;background:linear-gradient(90deg,#d4002b 0%,#d4002b 5%,#d60029 10%,#db0024 15%,#e1001e 20%,#e90016 25%,#f3000c 30%,#f00 34.97%,#f10700 40%,#e10f00 45%,#d01700 50%,#be2100 55%,#a92b00 60%,#943600 65%,#7d4100 70%,#644e00 75%,#4b5a00 80%,#306800 85%,#147600 90%,#008000 93.55%,#259300 100%)"></i><i style="top:543px;height:3px;background:linear-gradient(90deg,#d70028 0%,#d70028 5%,#d90026 10%,#d02 15%,#e4001b 20%,#ec0013 25%,#f60009 30%,#f00 33.96%,#ee0800 40%,#df1000 45%,#ce1900 50%,#b20 55%,#a72c00 60%,#913700 65%,#7a4300 70%,#624f00 75%,#485c00 80%,#2e6900 85%,#127700 90%,#008000 93.15%,#289400 100%)"></i><i style="top:546px;height:3px;background:linear-gradient(90deg,#d90026 0%,#d90026 5%,#dc0023 10%,#e0001f 15%,#e60019 20%,#e01 25%,#f80007 30%,#f00 32.91%,#ec0a00 40%,#dc1100 45%,#cb1a00 50%,#b82300 55%,#a42e00 60%,#8f3800 65%,#784400 70%,#5f5000 75%,#465d00 80%,#2b6a00 85%,#107800 90%,#008000 92.75%,#2a9500 100%)"></i><i style="top:549px;height:3px;background:linear-gradient(90deg,#dc0023 0%,#dc0023 5%,#de0021 10%,#e2001d 15%,#e90016 20%,#f1000e 25%,#f00 31.84%,#f70400 35%,#e90b00 40%,#da1300 45%,#c91b00 50%,#b62500 55%,#a22f00 60%,#8c3a00 65%,#754500 70%,#5d5100 75%,#445e00 80%,#296b00 85%,#008000 92.35%,#0f8700 95%,#2c9600 100%)"></i><i style="top:552px;height:3px;background:linear-gradient(90deg,#df0020 0%,#df0020 5%,#e1001e 10%,#e5001a 15%,#eb0014 20%,#f3000c 25%,#f00 30.72%,#f50500 35%,#e70c00 40%,#d71400 45%,#c61d00 50%,#b32600 55%,#9f3000 60%,#8a3b00 65%,#734600 70%,#5b5300 75%,#415f00 80%,#276d00 85%,#008000 91.94%,#118900 95%,#2e9700 100%)"></i><i style="top:555px;height:3px;background:linear-gradient(90deg,#e1001e 0%,#e1001e 5%,#e3001c 10%,#e80017 15%,#e01 20%,#f60009 25%,#f00 29.56%,#f20700 35%,#e40d00 40%,#d51500 45%,#c41e00 50%,#b12700 55%,#9d3100 60%,#873c00 65%,#704800 70%,#585400 75%,#3f6000 80%,#246e00 85%,#008000 91.53%,#148a00 95%,#309800 100%)"></i><i style="top:558px;height:3px;background:linear-gradient(90deg,#e4001b 0%,#e4001b 5%,#e60019 10%,#ea0015 15%,#f0000f 20%,#f90006 25%,#f00 28.35%,#ef0800 35%,#e20f00 40%,#d21700 45%,#c11f00 50%,#ae2800 55%,#9a3300 60%,#853d00 65%,#6e4900 70%,#565500 75%,#3c6200 80%,#226f00 85%,#008000 91.12%,#168b00 95%,#390 100%)"></i><i style="top:561px;height:3px;background:linear-gradient(90deg,#e60019 0%,#e60019 5%,#e90016 10%,#ed0012 15%,#f3000c 20%,#f00 27.08%,#f90300 30%,#ed0900 35%,#df1000 40%,#d01800 45%,#bf2000 50%,#ac2a00 55%,#983400 60%,#823f00 65%,#6b4a00 70%,#535600 75%,#3a6300 80%,#207000 85%,#008000 90.71%,#188c00 95%,#359a00 100%)"></i><i style="top:564px;height:3px;background:linear-gradient(90deg,#e90016 0%,#e90016 5%,#eb0014 10%,#ef0010 15%,#f60009 20%,#f00 25.75%,#f60400 30%,#ea0a00 35%,#dc1100 40%,#cd1900 45%,#bc2200 50%,#a92b00 55%,#953500 60%,#804000 65%,#694b00 70%,#515700 75%,#386400 80%,#1d7100 85%,#008000 90.3%,#1a8d00 95%,#379b00 100%)"></i><i style="top:567px;height:3px;background:linear-gradient(90deg,#ec0013 0%,#ec0013 5%,#e01 10%,#f2000d 15%,#f80007 20%,#f00 24.34%,#f40600 30%,#e80c00 35%,#da1300 40%,#cb1a00 45%,#b92300 50%,#a72c00 55%,#933600 60%,#7d4100 65%,#674d00 70%,#4e5900 75%,#356500 80%,#1b7300 85%,#008000 89.88%,#1d8e00 95%,#399d00 100%)"></i><i style="top:570px;height:3px;background:linear-gradient(90deg,#e01 0%,#e01 5%,#f0000f 10%,#f4000b 15%,#fb0004 20%,#f00 22.83%,#f10700 30%,#e50d00 35%,#d71400 40%,#c81c00 45%,#b72400 50%,#a42d00 55%,#903800 60%,#7b4200 65%,#644e00 70%,#4c5a00 75%,#360 80%,#187400 85%,#008000 89.46%,#1f8f00 95%,#3c9e00 100%)"></i><i style="top:573px;height:3px;background:linear-gradient(90deg,#f1000e 0%,#f1000e 5%,#f3000c 10%,#f70008 15%,#f00 21.21%,#f90300 25%,#ee0800 30%,#e20e00 35%,#d51500 40%,#c51d00 45%,#b42500 50%,#a22f00 55%,#8e3900 60%,#784400 65%,#624f00 70%,#4a5b00 75%,#306800 80%,#167500 85%,#008000 89.04%,#219000 95%,#3e9f00 100%)"></i><i style="top:576px;height:3px;background:linear-gradient(90deg,#f3000c 0%,#f3000c 5%,#f5000a 10%,#fa0005 15%,#f00 19.44%,#f60500 25%,#ec0a00 30%,#e01000 35%,#d21600 40%,#c31e00 45%,#b22700 50%,#9f3000 55%,#8b3a00 60%,#764500 65%,#5f5000 70%,#475c00 75%,#2e6900 80%,#147600 85%,#008000 88.62%,#239200 95%,#40a000 100%)"></i><i style="top:579px;height:3px;background:linear-gradient(90deg,#f60009 0%,#f60009 5%,#f80007 10%,#f00 17.47%,#fc0200 20%,#f30600 25%,#e90b00 30%,#d10 35%,#d01800 40%,#c01f00 45%,#af2800 50%,#9d3100 55%,#893b00 60%,#734600 65%,#5d5100 70%,#455d00 75%,#2c6a00 80%,#170 85%,#008000 88.19%,#269300 95%,#42a100 100%)"></i><i style="top:582px;height:3px;background:linear-gradient(90deg,#f90006 0%,#f90006 5%,#fb0004 10%,#f00 15.2%,#f90300 20%,#f10700 25%,#e70c00 30%,#db1200 35%,#cd1900 40%,#be2100 45%,#ad2900 50%,#9a3300 55%,#863d00 60%,#714700 65%,#5a5300 70%,#425f00 75%,#296b00 80%,#0f7800 85%,#008000 87.77%,#289400 95%,#45a200 100%)"></i><i style="top:585px;height:3px;background:linear-gradient(90deg,#fb0004 0%,#fb0004 5%,#f00 12.44%,#fd0100 15%,#f60400 20%,#ee0800 25%,#e40e00 30%,#d81300 35%,#cb1a00 40%,#b20 45%,#aa2b00 50%,#983400 55%,#843e00 60%,#6f4900 65%,#585400 70%,#406000 75%,#276c00 80%,#008000 87.34%,#0e8700 90%,#2a9500 95%,#47a300 100%)"></i><i style="top:588px;height:3px;background:linear-gradient(90deg,#fe0001 0%,#fe0001 5%,#f00 8.549%,#fa0300 15%,#f40600 20%,#ec0a00 25%,#e10f00 30%,#d61500 35%,#c81c00 40%,#b92300 45%,#a82c00 50%,#953500 55%,#813f00 60%,#6c4a00 65%,#550 70%,#3e6100 75%,#246e00 80%,#008000 86.9%,#180 90%,#2c9600 95%,#49a400 100%)"></i><i style="top:591px;height:3px;background:linear-gradient(90deg,#fe0100 0%,#fe0100 5%,#fc0200 10%,#f70400 15%,#f10700 20%,#e90b00 25%,#df1000 30%,#d31600 35%,#c51d00 40%,#b62500 45%,#a52d00 50%,#933600 55%,#7f4000 60%,#6a4b00 65%,#535600 70%,#3b6200 75%,#226f00 80%,#008000 86.47%,#138900 90%,#2f9700 95%,#4ba500 100%)"></i><i style="top:594px;height:3px;background:linear-gradient(90deg,#fb0200 0%,#fb0200 5%,#f90300 10%,#f50500 15%,#ee0800 20%,#e60c00 25%,#dc1100 30%,#d01700 35%,#c31e00 40%,#b42600 45%,#a32e00 50%,#903800 55%,#7c4200 60%,#674c00 65%,#515800 70%,#396400 75%,#207000 80%,#008000 86.03%,#158b00 90%,#319800 95%,#4da700 100%)"></i><i style="top:597px;height:3px;background:linear-gradient(90deg,#f80300 0%,#f80300 5%,#f60400 10%,#f20600 15%,#ec0a00 20%,#e40e00 25%,#da1300 30%,#ce1900 35%,#c02000 40%,#b12700 45%,#a03000 50%,#8e3900 55%,#7a4300 60%,#654d00 65%,#4e5900 70%,#366500 75%,#1d7100 80%,#008000 85.59%,#188c00 90%,#390 95%,#50a800 100%)"></i><i style="top:600px;height:3px;background:linear-gradient(90deg,#f60500 0%,#f60500 5%,#f40600 10%,#ef0800 15%,#e90b00 20%,#e10f00 25%,#d71400 30%,#cb1a00 35%,#be2100 40%,#ae2800 45%,#9e3100 50%,#8b3a00 55%,#740 60%,#624f00 65%,#4c5a00 70%,#346600 75%,#1b7200 80%,#008000 85.15%,#1a8d00 90%,#359b00 95%,#52a900 100%)"></i><i style="top:603px;height:3px;background:linear-gradient(90deg,#f30600 0%,#f30600 5%,#f10700 10%,#ed0900 15%,#e70c00 20%,#de1000 25%,#d41500 30%,#c91b00 35%,#b20 40%,#ac2a00 45%,#9b3200 50%,#893b00 55%,#754500 60%,#605000 65%,#495b00 70%,#316700 75%,#197400 80%,#008000 84.71%,#1c8e00 90%,#389c00 95%,#54aa00 100%)"></i><i style="top:606px;height:3px;background:linear-gradient(90deg,#f00700 0%,#f00700 5%,#ee0800 10%,#ea0a00 15%,#e40e00 20%,#dc1200 25%,#d21700 30%,#c61d00 35%,#b92300 40%,#a92b00 45%,#930 50%,#863d00 55%,#724700 60%,#5d5100 65%,#475c00 70%,#2f6800 75%,#167500 80%,#008000 84.26%,#1e8f00 90%,#3a9d00 95%,#56ab00 100%)"></i><i style="top:609px;height:3px;background:linear-gradient(90deg,#ee0900 0%,#ee0900 5%,#ec0a00 10%,#e80c00 15%,#e10f00 20%,#d91300 25%,#cf1800 30%,#c31e00 35%,#b62500 40%,#a72c00 45%,#963500 50%,#843e00 55%,#704800 60%,#5b5200 65%,#445e00 70%,#2d6a00 75%,#147600 80%,#008000 83.81%,#219000 90%,#3c9e00 95%,#59ac00 100%)"></i><i style="top:612px;height:3px;background:linear-gradient(90deg,#eb0a00 0%,#eb0a00 5%,#e90b00 10%,#e50d00 15%,#df1000 20%,#d71400 25%,#cd1900 30%,#c11f00 35%,#b32600 40%,#a42e00 45%,#933600 50%,#813f00 55%,#6d4900 60%,#585400 65%,#425f00 70%,#2a6b00 75%,#170 80%,#008000 83.36%,#239100 90%,#3e9f00 95%,#5bad00 100%)"></i><i style="top:615px;height:3px;background:linear-gradient(90deg,#e80b00 0%,#e80b00 5%,#e60c00 10%,#e20e00 15%,#dc1200 20%,#d41600 25%,#ca1b00 30%,#be2000 35%,#b12700 40%,#a22f00 45%,#913700 50%,#7f4000 55%,#6b4a00 60%,#565500 65%,#3f6000 70%,#286c00 75%,#0f7800 80%,#008000 82.91%,#259300 90%,#41a000 95%,#5dae00 100%)"></i><i style="top:618px;height:3px;background:linear-gradient(90deg,#e60d00 0%,#e60d00 5%,#e40e00 10%,#e01000 15%,#d91300 20%,#d11700 25%,#c71c00 30%,#bc2200 35%,#ae2900 40%,#9f3000 45%,#8e3900 50%,#7c4200 55%,#684c00 60%,#535600 65%,#3d6100 70%,#256d00 75%,#008000 82.45%,#0d8700 85%,#289400 90%,#43a100 95%,#5faf00 100%)"></i><i style="top:621px;height:3px;background:linear-gradient(90deg,#e30e00 0%,#e30e00 5%,#e10f00 10%,#d10 15%,#d71400 20%,#cf1800 25%,#c51d00 30%,#b92300 35%,#ac2a00 40%,#9d3100 45%,#8c3a00 50%,#7a4300 55%,#664d00 60%,#515700 65%,#3b6300 70%,#236e00 75%,#008000 81.99%,#0f8800 85%,#2a9500 90%,#45a200 95%,#61b000 100%)"></i><i style="top:624px;height:3px;background:linear-gradient(90deg,#e00f00 0%,#e10f00 5%,#de1000 10%,#da1200 15%,#d41500 20%,#cc1a00 25%,#c21e00 30%,#b72400 35%,#a92b00 40%,#9a3300 45%,#893b00 50%,#740 55%,#634e00 60%,#4e5900 65%,#386400 70%,#217000 75%,#008000 81.53%,#128900 85%,#2c9600 90%,#47a400 95%,#64b200 100%)"></i><i style="top:627px;height:3px;background:linear-gradient(90deg,#de1100 0%,#de1100 5%,#dc1200 10%,#d81400 15%,#d21700 20%,#ca1b00 25%,#c02000 30%,#b42600 35%,#a72c00 40%,#973400 45%,#873c00 50%,#754500 55%,#614f00 60%,#4c5a00 65%,#366500 70%,#1e7100 75%,#008000 81.06%,#148a00 85%,#2e9700 90%,#4aa500 95%,#66b300 100%)"></i><i style="top:630px;height:3px;background:linear-gradient(90deg,#db1200 0%,#db1200 5%,#d91300 10%,#d51500 15%,#cf1800 20%,#c71c00 25%,#bd2100 30%,#b12700 35%,#a42e00 40%,#953500 45%,#843e00 50%,#724700 55%,#5f5100 60%,#4a5b00 65%,#360 70%,#1c7200 75%,#008000 80.59%,#168b00 85%,#319800 90%,#4ca600 95%,#68b400 100%)"></i><i style="top:633px;height:3px;background:linear-gradient(90deg,#d81300 0%,#d91300 5%,#d71400 10%,#d21600 15%,#cc1900 20%,#c41d00 25%,#ba2200 30%,#af2800 35%,#a12f00 40%,#923700 45%,#823f00 50%,#704800 55%,#5c5200 60%,#475c00 65%,#316800 70%,#197300 75%,#008000 80.12%,#198c00 85%,#390 90%,#4ea700 95%,#6ab500 100%)"></i><i style="top:636px;height:3px;background:linear-gradient(90deg,#d61500 0%,#d61500 5%,#d41600 10%,#d01800 15%,#ca1b00 20%,#c21f00 25%,#b82400 30%,#ac2a00 35%,#9f3000 40%,#903800 45%,#7f4000 50%,#6d4900 55%,#5a5300 60%,#455e00 65%,#2e6900 70%,#177500 75%,#008000 79.65%,#1b8d00 85%,#359b00 90%,#50a800 95%,#6cb600 100%)"></i><i style="top:639px;height:3px;background:linear-gradient(90deg,#d31600 0%,#d31600 5%,#d11700 10%,#cd1900 15%,#c71c00 20%,#bf2000 25%,#b52500 30%,#aa2b00 35%,#9c3200 40%,#8d3900 45%,#7d4100 50%,#6b4b00 55%,#575400 60%,#425f00 65%,#2c6a00 70%,#147600 75%,#008000 79.17%,#1d8f00 85%,#389c00 90%,#53a900 95%,#6fb700 100%)"></i><i style="top:642px;height:3px;background:linear-gradient(90deg,#d11700 0%,#d11700 5%,#cf1800 10%,#cb1a00 15%,#c51d00 20%,#bd2100 25%,#b32600 30%,#a72c00 35%,#9a3300 40%,#8b3a00 45%,#7a4300 50%,#684c00 55%,#555600 60%,#406000 65%,#296b00 70%,#127700 75%,#008000 78.69%,#209000 85%,#3a9d00 90%,#5a0 95%,#71b800 100%)"></i><i style="top:645px;height:3px;background:linear-gradient(90deg,#ce1900 0%,#ce1900 5%,#cc1a00 10%,#c81c00 15%,#c21f00 20%,#ba2300 25%,#b02800 30%,#a42d00 35%,#973400 40%,#883c00 45%,#784400 50%,#664d00 55%,#525700 60%,#3d6100 65%,#276c00 70%,#107800 75%,#008000 78.21%,#229100 85%,#3c9e00 90%,#57ab00 95%,#73b900 100%)"></i><i style="top:648px;height:3px;background:linear-gradient(90deg,#cb1a00 0%,#cb1a00 5%,#c91b00 10%,#c51d00 15%,#bf2000 20%,#b72400 25%,#ad2900 30%,#a22f00 35%,#953500 40%,#863d00 45%,#754500 50%,#634e00 55%,#505800 60%,#3b6300 65%,#256e00 70%,#0d7900 75%,#008000 77.72%,#249200 85%,#3e9f00 90%,#59ad00 95%,#75ba00 100%)"></i><i style="top:651px;height:3px;background:linear-gradient(90deg,#c91b00 0%,#c91b00 5%,#c71c00 10%,#c31e00 15%,#bd2100 20%,#b52500 25%,#ab2a00 30%,#9f3000 35%,#923700 40%,#833e00 45%,#734700 50%,#615000 55%,#4d5900 60%,#386400 65%,#226f00 70%,#008000 77.23%,#0d8700 80%,#279300 85%,#41a000 90%,#5cae00 95%,#78bc00 100%)"></i><i style="top:654px;height:3px;background:linear-gradient(90deg,#c61d00 0%,#c61d00 5%,#c41e00 10%,#c02000 15%,#ba2300 20%,#b22700 25%,#a82c00 30%,#9d3100 35%,#8f3800 40%,#813f00 45%,#704800 50%,#5e5100 55%,#4b5b00 60%,#366500 65%,#207000 70%,#008000 76.74%,#108800 80%,#299400 85%,#43a100 90%,#5eaf00 95%,#7abd00 100%)"></i><i style="top:657px;height:3px;background:linear-gradient(90deg,#c31e00 0%,#c31e00 5%,#c11f00 10%,#bd2100 15%,#b72400 20%,#af2800 25%,#a62d00 30%,#9a3300 35%,#8d3900 40%,#7e4100 45%,#6d4900 50%,#5b5200 55%,#485c00 60%,#360 65%,#1d7100 70%,#008000 76.24%,#128900 80%,#2b9500 85%,#45a200 90%,#60b000 95%,#7cbe00 100%)"></i><i style="top:660px;height:3px;background:linear-gradient(90deg,#c11f00 0%,#c11f00 5%,#bf2000 10%,#b20 15%,#b52500 20%,#ad2900 25%,#a32e00 30%,#983400 35%,#8a3b00 40%,#7b4200 45%,#6b4a00 50%,#595300 55%,#465d00 60%,#316700 65%,#1b7300 70%,#008000 75.74%,#148a00 80%,#2d9700 85%,#47a400 90%,#62b100 95%,#7ebf00 100%)"></i><i style="top:663px;height:3px;background:linear-gradient(90deg,#be2100 0%,#be2100 5%,#bc2200 10%,#b82400 15%,#b22700 20%,#aa2b00 25%,#a02f00 30%,#953500 35%,#883c00 40%,#794300 45%,#684c00 50%,#565500 55%,#435e00 60%,#2e6900 65%,#187400 70%,#008000 75.24%,#178b00 80%,#309800 85%,#4aa500 90%,#65b200 95%,#80c000 100%)"></i><i style="top:666px;height:3px;background:linear-gradient(90deg,#b20 0%,#b20 5%,#b92300 10%,#b52500 15%,#b02800 20%,#a82c00 25%,#9e3100 30%,#923700 35%,#853d00 40%,#764500 45%,#664d00 50%,#545600 55%,#416000 60%,#2c6a00 65%,#167500 70%,#008000 74.73%,#198d00 80%,#329900 85%,#4ca600 90%,#67b300 95%,#83c100 100%)"></i><i style="top:669px;height:3px;background:linear-gradient(90deg,#b92300 0%,#b92300 5%,#b72400 10%,#b32600 15%,#ad2900 20%,#a52d00 25%,#9b3200 30%,#903800 35%,#833e00 40%,#744600 45%,#634e00 50%,#515700 55%,#3e6100 60%,#296b00 65%,#137600 70%,#008000 74.22%,#1b8e00 80%,#349a00 85%,#4ea700 90%,#69b400 95%,#85c200 100%)"></i><i style="top:672px;height:3px;background:linear-gradient(90deg,#b62500 0%,#b62500 5%,#b42600 10%,#b02800 15%,#aa2b00 20%,#a22e00 25%,#930 30%,#8d3900 35%,#804000 40%,#714700 45%,#614f00 50%,#4f5800 55%,#3c6200 60%,#276c00 65%,#170 70%,#008000 73.7%,#1e8f00 80%,#379b00 85%,#51a800 90%,#6bb500 95%,#87c300 100%)"></i><i style="top:675px;height:3px;background:linear-gradient(90deg,#b32600 0%,#b32600 5%,#b22700 10%,#ae2900 15%,#a82c00 20%,#a03000 25%,#963500 30%,#8b3a00 35%,#7d4100 40%,#6f4800 45%,#5e5100 50%,#4c5a00 55%,#396300 60%,#256e00 65%,#0f7900 70%,#008000 73.19%,#209000 80%,#399c00 85%,#53a900 90%,#6eb700 95%,#89c400 100%)"></i><i style="top:678px;height:3px;background:linear-gradient(90deg,#b12700 0%,#b12700 5%,#af2800 10%,#ab2a00 15%,#a52d00 20%,#9d3100 25%,#933600 30%,#883c00 35%,#7b4200 40%,#6c4a00 45%,#5c5200 50%,#4a5b00 55%,#376500 60%,#226f00 65%,#0c7a00 70%,#008000 72.66%,#239100 80%,#3b9e00 85%,#5a0 90%,#70b800 95%,#8bc500 100%)"></i><i style="top:681px;height:3px;background:linear-gradient(90deg,#ae2900 0%,#ae2900 5%,#ac2a00 10%,#a82c00 15%,#a22e00 20%,#9b3200 25%,#913700 30%,#853d00 35%,#784400 40%,#6a4b00 45%,#595300 50%,#475c00 55%,#346600 60%,#207000 65%,#008000 72.14%,#0d8700 75%,#259200 80%,#3e9f00 85%,#57ac00 90%,#72b900 95%,#8ec700 100%)"></i><i style="top:684px;height:3px;background:linear-gradient(90deg,#ab2a00 0%,#ac2a00 5%,#aa2b00 10%,#a62d00 15%,#a03000 20%,#983400 25%,#8e3900 30%,#833e00 35%,#764500 40%,#674c00 45%,#575400 50%,#455d00 55%,#326700 60%,#1d7100 65%,#008000 71.61%,#0f8800 75%,#279400 80%,#40a000 85%,#5aad00 90%,#74ba00 95%,#90c800 100%)"></i><i style="top:687px;height:3px;background:linear-gradient(90deg,#a92b00 0%,#a92b00 5%,#a72c00 10%,#a32e00 15%,#9d3100 20%,#953500 25%,#8c3a00 30%,#804000 35%,#734600 40%,#644e00 45%,#545600 50%,#425f00 55%,#2f6800 60%,#1b7300 65%,#008000 71.07%,#128900 75%,#2a9500 80%,#42a100 85%,#5cae00 90%,#7b0 95%,#92c900 100%)"></i><i style="top:690px;height:3px;background:linear-gradient(90deg,#a62d00 0%,#a62d00 5%,#a42e00 10%,#a02f00 15%,#9b3200 20%,#933600 25%,#893b00 30%,#7e4100 35%,#714700 40%,#624f00 45%,#525700 50%,#406000 55%,#2d6a00 60%,#187400 65%,#008000 70.53%,#148a00 75%,#2c9600 80%,#45a200 85%,#5eaf00 90%,#79bc00 95%,#94ca00 100%)"></i><i style="top:693px;height:3px;background:linear-gradient(90deg,#a32e00 0%,#a42e00 5%,#a22f00 10%,#9e3100 15%,#983400 20%,#903800 25%,#863d00 30%,#7b4200 35%,#6e4900 40%,#5f5000 45%,#4f5800 50%,#3d6100 55%,#2a6b00 60%,#167500 65%,#008000 69.99%,#178b00 75%,#2e9700 80%,#47a300 85%,#61b000 90%,#7bbd00 95%,#97cb00 100%)"></i><i style="top:696px;height:3px;background:linear-gradient(90deg,#a12f00 0%,#a12f00 5%,#9f3000 10%,#9b3200 15%,#953500 20%,#8d3900 25%,#843e00 30%,#784400 35%,#6b4a00 40%,#5d5100 45%,#4d5a00 50%,#3b6200 55%,#286c00 60%,#137600 65%,#008000 69.44%,#198c00 75%,#319800 80%,#49a400 85%,#63b100 90%,#7dbe00 95%,#9c0 100%)"></i><i style="top:699px;height:3px;background:linear-gradient(90deg,#9e3100 0%,#9e3100 5%,#9c3100 10%,#983300 15%,#933600 20%,#8b3a00 25%,#813f00 30%,#764500 35%,#694b00 40%,#5a5300 45%,#4a5b00 50%,#386400 55%,#256d00 60%,#117800 65%,#008000 68.89%,#1b8e00 75%,#390 80%,#4ca600 85%,#65b200 90%,#80c000 95%,#9bcd00 100%)"></i><i style="top:702px;height:3px;background:linear-gradient(90deg,#9b3200 0%,#9c3200 5%,#9a3300 10%,#963500 15%,#903800 20%,#883c00 25%,#7f4000 30%,#734600 35%,#664d00 40%,#585400 45%,#475c00 50%,#366500 55%,#236f00 60%,#0e7900 65%,#008000 68.33%,#1e8f00 75%,#359b00 80%,#4ea700 85%,#67b300 90%,#82c100 95%,#9dce00 100%)"></i><i style="top:705px;height:3px;background:linear-gradient(90deg,#930 0%,#930 5%,#973400 10%,#933600 15%,#8d3900 20%,#863d00 25%,#7c4200 30%,#714700 35%,#644e00 40%,#550 45%,#455d00 50%,#360 55%,#207000 60%,#0c7a00 65%,#008000 67.77%,#209000 75%,#389c00 80%,#50a800 85%,#6ab500 90%,#84c200 95%,#9fcf00 100%)"></i><i style="top:708px;height:3px;background:linear-gradient(90deg,#963500 0%,#963500 5%,#943500 10%,#913700 15%,#8b3a00 20%,#833e00 25%,#794300 30%,#6e4900 35%,#614f00 40%,#535700 45%,#425f00 50%,#316800 55%,#1e7100 60%,#008000 67.2%,#0c8600 70%,#229100 75%,#3a9d00 80%,#52a900 85%,#6cb600 90%,#86c300 95%,#a2d000 100%)"></i><i style="top:711px;height:3px;background:linear-gradient(90deg,#933600 0%,#943600 5%,#923700 10%,#8e3900 15%,#883c00 20%,#804000 25%,#740 30%,#6c4a00 35%,#5f5100 40%,#505800 45%,#406000 50%,#2e6900 55%,#1b7200 60%,#008000 66.63%,#0e8700 70%,#259200 75%,#3c9e00 80%,#5a0 85%,#6eb700 90%,#89c400 95%,#a4d200 100%)"></i><i style="top:714px;height:3px;background:linear-gradient(90deg,#913700 0%,#913700 5%,#8f3800 10%,#8b3a00 15%,#853d00 20%,#7e4100 25%,#744600 30%,#694b00 35%,#5c5200 40%,#4d5900 45%,#3d6100 50%,#2c6a00 55%,#197400 60%,#008000 66.06%,#180 70%,#279300 75%,#3f9f00 80%,#57ab00 85%,#71b800 90%,#8bc500 95%,#a6d300 100%)"></i><i style="top:717px;height:3px;background:linear-gradient(90deg,#8e3900 0%,#8e3900 5%,#8d3900 10%,#893b00 15%,#833e00 20%,#7b4200 25%,#724700 30%,#664d00 35%,#595300 40%,#4b5a00 45%,#3b6200 50%,#296b00 55%,#167500 60%,#008000 65.47%,#138a00 70%,#2a9500 75%,#41a000 80%,#59ad00 85%,#73b900 90%,#8dc600 95%,#a8d400 100%)"></i><i style="top:720px;height:3px;background:linear-gradient(90deg,#8b3a00 0%,#8c3a00 5%,#8a3b00 10%,#863d00 15%,#804000 20%,#794300 25%,#6f4800 30%,#644e00 35%,#575400 40%,#485c00 45%,#386400 50%,#276d00 55%,#147600 60%,#008000 64.89%,#168b00 70%,#2c9600 75%,#43a100 80%,#5cae00 85%,#75ba00 90%,#8fc700 95%,#aad500 100%)"></i><i style="top:723px;height:3px;background:linear-gradient(90deg,#893b00 0%,#893b00 5%,#873c00 10%,#833e00 15%,#7e4100 20%,#764500 25%,#6c4a00 30%,#614f00 35%,#545600 40%,#465d00 45%,#366500 50%,#246e00 55%,#170 60%,#008000 64.29%,#188c00 70%,#2e9700 75%,#46a300 80%,#5eaf00 85%,#7b0 90%,#92c900 95%,#add600 100%)"></i><i style="top:726px;height:3px;background:linear-gradient(90deg,#863d00 0%,#863d00 5%,#853d00 10%,#813f00 15%,#7b4200 20%,#734600 25%,#6a4b00 30%,#5f5100 35%,#525700 40%,#435e00 45%,#360 50%,#226f00 55%,#0f7900 60%,#008000 63.69%,#1a8d00 70%,#319800 75%,#48a400 80%,#60b000 85%,#7abd00 90%,#94ca00 95%,#afd700 100%)"></i><i style="top:729px;height:3px;background:linear-gradient(90deg,#833e00 0%,#843e00 5%,#823f00 10%,#7e4100 15%,#784400 20%,#714700 25%,#674c00 30%,#5c5200 35%,#4f5800 40%,#416000 45%,#316800 50%,#1f7000 55%,#0c7a00 60%,#008000 63.09%,#1d8e00 70%,#390 75%,#4aa500 80%,#63b100 85%,#7cbe00 90%,#96cb00 95%,#b1d800 100%)"></i><i style="top:732px;height:3px;background:linear-gradient(90deg,#813f00 0%,#813f00 5%,#7f4000 10%,#7b4200 15%,#764500 20%,#6e4900 25%,#654d00 30%,#595300 35%,#4d5a00 40%,#3e6100 45%,#2e6900 50%,#1d7200 55%,#008000 62.48%,#0a8500 65%,#1f9000 70%,#359b00 75%,#4da600 80%,#65b200 85%,#7ebf00 90%,#98cc00 95%,#b3d900 100%)"></i><i style="top:735px;height:3px;background:linear-gradient(90deg,#7e4100 0%,#7e4100 5%,#7d4100 10%,#794300 15%,#734600 20%,#6b4a00 25%,#624f00 30%,#575400 35%,#4a5b00 40%,#3c6200 45%,#2c6a00 50%,#1a7300 55%,#008000 61.86%,#0d8600 65%,#229100 70%,#389c00 75%,#4fa700 80%,#67b300 85%,#80c000 90%,#9bcd00 95%,#b6da00 100%)"></i><i style="top:738px;height:3px;background:linear-gradient(90deg,#7b4200 0%,#7c4200 5%,#7a4300 10%,#764500 15%,#704800 20%,#694b00 25%,#5f5000 30%,#545600 35%,#475c00 40%,#396300 45%,#296b00 50%,#187400 55%,#008000 61.24%,#0f8700 65%,#249200 70%,#3a9d00 75%,#51a800 80%,#6ab500 85%,#83c100 90%,#9dce00 95%,#b8dc00 100%)"></i><i style="top:741px;height:3px;background:linear-gradient(90deg,#794300 0%,#794300 5%,#740 10%,#744600 15%,#6e4900 20%,#664d00 25%,#5d5100 30%,#525700 35%,#455d00 40%,#366500 45%,#276d00 50%,#157500 55%,#008000 60.61%,#118900 65%,#269300 70%,#3c9e00 75%,#54aa00 80%,#6cb600 85%,#85c200 90%,#9fcf00 95%,#badd00 100%)"></i><i style="top:744px;height:3px;background:linear-gradient(90deg,#764500 0%,#764500 5%,#754500 10%,#714700 15%,#6b4a00 20%,#644e00 25%,#5a5300 30%,#4f5800 35%,#425f00 40%,#346600 45%,#246e00 50%,#137700 55%,#008000 59.97%,#148a00 65%,#299400 70%,#3f9f00 75%,#56ab00 80%,#6eb700 85%,#87c300 90%,#a1d000 95%,#bcde00 100%)"></i><i style="top:747px;height:3px;background:linear-gradient(90deg,#734600 0%,#744600 5%,#724700 10%,#6e4900 15%,#694c00 20%,#614f00 25%,#585400 30%,#4d5a00 35%,#406000 40%,#316700 45%,#216f00 50%,#107800 55%,#008000 59.32%,#168b00 65%,#2b9500 70%,#41a000 75%,#58ac00 80%,#70b800 85%,#8ac500 90%,#a4d100 95%,#bedf00 100%)"></i><i style="top:750px;height:3px;background:linear-gradient(90deg,#714700 0%,#714700 5%,#6f4800 10%,#6c4a00 15%,#664d00 20%,#5e5100 25%,#550 30%,#4a5b00 35%,#3d6100 40%,#2f6900 45%,#1f7000 50%,#0e7900 55%,#008000 58.67%,#198c00 65%,#2e9700 70%,#44a200 75%,#5bad00 80%,#73b900 85%,#8cc600 90%,#a6d300 95%,#c1e000 100%)"></i><i style="top:753px;height:3px;background:linear-gradient(90deg,#6e4900 0%,#6e4900 5%,#6d4900 10%,#694b00 15%,#634e00 20%,#5c5200 25%,#525700 30%,#475c00 35%,#3b6300 40%,#2c6a00 45%,#1c7200 50%,#0b7a00 55%,#008000 58.01%,#1b8d00 65%,#309800 70%,#46a300 75%,#5dae00 80%,#75ba00 85%,#8ec700 90%,#a8d400 95%,#c3e100 100%)"></i><i style="top:756px;height:3px;background:linear-gradient(90deg,#6b4a00 0%,#6c4a00 5%,#6a4b00 10%,#664d00 15%,#614f00 20%,#595300 25%,#505800 30%,#455d00 35%,#386400 40%,#2a6b00 45%,#1a7300 50%,#008000 57.35%,#0a8500 60%,#1d8f00 65%,#329900 70%,#48a400 75%,#5faf00 80%,#7b0 85%,#90c800 90%,#aad500 95%,#c5e200 100%)"></i><i style="top:759px;height:3px;background:linear-gradient(90deg,#694b00 0%,#694b00 5%,#674c00 10%,#644e00 15%,#5e5100 20%,#575500 25%,#4d5900 30%,#425f00 35%,#356500 40%,#276c00 45%,#177400 50%,#008000 56.67%,#0c8600 60%,#209000 65%,#359a00 70%,#4ba500 75%,#62b100 80%,#7abd00 85%,#93c900 90%,#add600 95%,#c7e300 100%)"></i><i style="top:762px;height:3px;background:linear-gradient(90deg,#664d00 0%,#664d00 5%,#654d00 10%,#614f00 15%,#5b5200 20%,#545600 25%,#4b5b00 30%,#406000 35%,#360 40%,#256e00 45%,#157600 50%,#008000 55.99%,#0f8700 60%,#229100 65%,#379b00 70%,#4da600 75%,#64b200 80%,#7cbe00 85%,#95ca00 90%,#afd700 95%,#c9e400 100%)"></i><i style="top:765px;height:3px;background:linear-gradient(90deg,#634e00 0%,#644e00 5%,#624f00 10%,#5e5100 15%,#595300 20%,#515700 25%,#485c00 30%,#3d6100 35%,#306800 40%,#226f00 45%,#127700 50%,#008000 55.29%,#118900 60%,#259200 65%,#399d00 70%,#4fa800 75%,#66b300 80%,#7ebf00 85%,#97cb00 90%,#b1d800 95%,#cce500 100%)"></i><i style="top:768px;height:3px;background:linear-gradient(90deg,#614f00 0%,#614f00 5%,#5f5000 10%,#5c5200 15%,#565500 20%,#4f5900 25%,#455d00 30%,#3a6300 35%,#2e6900 40%,#1f7000 45%,#107800 50%,#008000 54.59%,#148a00 60%,#279300 65%,#3c9e00 70%,#52a900 75%,#69b400 80%,#81c000 85%,#9c0 90%,#b3d900 95%,#cee600 100%)"></i><i style="top:771px;height:3px;background:linear-gradient(90deg,#5e5100 0%,#5e5100 5%,#5d5100 10%,#595300 15%,#545600 20%,#4c5a00 25%,#435e00 30%,#386400 35%,#2b6a00 40%,#1d7100 45%,#0d7900 50%,#008000 53.88%,#168b00 60%,#2a9500 65%,#3e9f00 70%,#54aa00 75%,#6bb500 80%,#83c100 85%,#9cce00 90%,#b5da00 95%,#d0e800 100%)"></i><i style="top:774px;height:3px;background:linear-gradient(90deg,#5b5200 0%,#5c5200 5%,#5a5300 10%,#565500 15%,#515700 20%,#495b00 25%,#406000 30%,#356500 35%,#296c00 40%,#1a7300 45%,#0b7b00 50%,#008000 53.16%,#198c00 60%,#2c9600 65%,#41a000 70%,#56ab00 75%,#6db600 80%,#85c200 85%,#9ecf00 90%,#b8db00 95%,#d2e900 100%)"></i><i style="top:777px;height:3px;background:linear-gradient(90deg,#595300 0%,#595300 5%,#585400 10%,#545600 15%,#4e5900 20%,#475c00 25%,#3e6100 30%,#336700 35%,#266d00 40%,#187400 45%,#008000 52.43%,#098400 55%,#1b8d00 60%,#2e9700 65%,#43a100 70%,#59ac00 75%,#70b800 80%,#88c300 85%,#a0d000 90%,#badd00 95%,#d4ea00 100%)"></i><i style="top:780px;height:3px;background:linear-gradient(90deg,#565500 0%,#575500 5%,#550 10%,#515700 15%,#4c5a00 20%,#445e00 25%,#3b6200 30%,#306800 35%,#236e00 40%,#157500 45%,#008000 51.68%,#0b8600 55%,#1d8f00 60%,#319800 65%,#45a300 70%,#5bad00 75%,#72b900 80%,#8ac500 85%,#a3d100 90%,#bcde00 95%,#d7eb00 100%)"></i><i style="top:783px;height:3px;background:linear-gradient(90deg,#535600 0%,#545600 5%,#525700 10%,#4f5900 15%,#495b00 20%,#425f00 25%,#386400 30%,#2d6900 35%,#217000 40%,#137700 45%,#008000 50.93%,#0e8700 55%,#209000 60%,#339a00 65%,#48a400 70%,#5eaf00 75%,#74ba00 80%,#8cc600 85%,#a5d200 90%,#bedf00 95%,#d9ec00 100%)"></i><i style="top:786px;height:3px;background:linear-gradient(90deg,#515700 0%,#515700 5%,#505800 10%,#4c5a00 15%,#465d00 20%,#3f6000 25%,#366500 30%,#2b6a00 35%,#1e7100 40%,#107800 45%,#008000 50.16%,#108800 55%,#229100 60%,#369b00 65%,#4aa500 70%,#60b000 75%,#7b0 80%,#8ec700 85%,#a7d300 90%,#c1e000 95%,#dbed00 100%)"></i><i style="top:789px;height:3px;background:linear-gradient(90deg,#4e5900 0%,#4f5900 5%,#4d5900 10%,#495b00 15%,#445e00 20%,#3c6200 25%,#360 30%,#286c00 35%,#1c7200 40%,#0e7900 45%,#008000 49.39%,#138900 55%,#259200 60%,#389c00 65%,#4da600 70%,#62b100 75%,#79bc00 80%,#91c800 85%,#a9d400 90%,#c3e100 95%,#de0 100%)"></i><i style="top:792px;height:3px;background:linear-gradient(90deg,#4b5a00 0%,#4c5a00 5%,#4a5b00 10%,#475d00 15%,#415f00 20%,#3a6300 25%,#316800 30%,#266d00 35%,#197300 40%,#0b7a00 45%,#008000 48.59%,#158b00 55%,#279400 60%,#3a9d00 65%,#4fa700 70%,#65b200 75%,#7bbd00 80%,#93c900 85%,#acd500 90%,#c5e200 95%,#dfef00 100%)"></i><i style="top:795px;height:3px;background:linear-gradient(90deg,#495b00 0%,#495b00 5%,#485c00 10%,#445e00 15%,#3e6100 20%,#376400 25%,#2e6900 30%,#236e00 35%,#177500 40%,#097c00 45%,#008000 47.79%,#188c00 55%,#2a9500 60%,#3d9e00 65%,#51a900 70%,#67b300 75%,#7ebf00 80%,#95ca00 85%,#aed700 90%,#c7e300 95%,#e2f000 100%)"></i><i style="top:798px;height:3px;background:linear-gradient(90deg,#465d00 0%,#475d00 5%,#455d00 10%,#415f00 15%,#3c6200 20%,#346600 25%,#2b6a00 30%,#207000 35%,#147600 40%,#008000 46.97%,#098500 50%,#1a8d00 55%,#2c9600 60%,#3fa000 65%,#54aa00 70%,#69b400 75%,#80c000 80%,#98cc00 85%,#b0d800 90%,#cae400 95%,#e4f100 100%)"></i><i style="top:801px;height:3px;background:linear-gradient(90deg,#435e00 0%,#445e00 5%,#425f00 10%,#3f6100 15%,#396300 20%,#326700 25%,#296c00 30%,#1e7100 35%,#170 40%,#008000 46.14%,#0c8600 50%,#1d8e00 55%,#2e9700 60%,#42a100 65%,#56ab00 70%,#6cb600 75%,#82c100 80%,#9acd00 85%,#b2d900 90%,#cce600 95%,#e6f300 100%)"></i><i style="top:804px;height:3px;background:linear-gradient(90deg,#415f00 0%,#415f00 5%,#406000 10%,#3c6200 15%,#376500 20%,#2f6800 25%,#266d00 30%,#1b7200 35%,#0f7900 40%,#008000 45.28%,#0e8700 50%,#1f8f00 55%,#319800 60%,#44a200 65%,#59ac00 70%,#6eb700 75%,#85c200 80%,#9cce00 85%,#b5da00 90%,#cee700 95%,#e8f400 100%)"></i><i style="top:807px;height:3px;background:linear-gradient(90deg,#3e6100 0%,#3f6100 5%,#3d6100 10%,#396300 15%,#346600 20%,#2d6a00 25%,#246e00 30%,#197400 35%,#0c7a00 40%,#008000 44.42%,#180 50%,#219100 55%,#339a00 60%,#47a300 65%,#5bad00 70%,#70b800 75%,#87c300 80%,#9fcf00 85%,#b7db00 90%,#d0e800 95%,#eaf500 100%)"></i><i style="top:810px;height:3px;background:linear-gradient(90deg,#3b6200 0%,#3c6200 5%,#3a6300 10%,#376500 15%,#316700 20%,#2a6b00 25%,#216f00 30%,#167500 35%,#0a7b00 40%,#008000 43.53%,#138a00 50%,#249200 55%,#369b00 60%,#49a400 65%,#5dae00 70%,#73b900 75%,#89c400 80%,#a1d000 85%,#b9dc00 90%,#d3e900 95%,#edf600 100%)"></i><i style="top:813px;height:3px;background:linear-gradient(90deg,#396400 0%,#396300 5%,#386400 10%,#346600 15%,#2f6900 20%,#276c00 25%,#1e7100 30%,#147600 35%,#077c00 40%,#008000 42.62%,#168b00 50%,#269300 55%,#389c00 60%,#4ba600 65%,#60b000 70%,#75ba00 75%,#8cc600 80%,#a3d100 85%,#bcdd00 90%,#d5ea00 95%,#eff700 100%)"></i><i style="top:816px;height:3px;background:linear-gradient(90deg,#366500 0%,#376500 5%,#356500 10%,#316700 15%,#2c6a00 20%,#256e00 25%,#1c7200 30%,#170 35%,#008000 41.7%,#098500 45%,#188c00 50%,#299400 55%,#3b9d00 60%,#4ea700 65%,#62b100 70%,#78bc00 75%,#8ec700 80%,#a5d200 85%,#bedf00 90%,#d7eb00 95%,#f1f800 100%)"></i><i style="top:819px;height:3px;background:linear-gradient(90deg,#360 0%,#346600 5%,#326700 10%,#2f6900 15%,#296b00 20%,#226f00 25%,#197300 30%,#0e7900 35%,#008000 40.75%,#0c8600 45%,#1b8d00 50%,#2b9600 55%,#3d9e00 60%,#50a800 65%,#64b200 70%,#7abd00 75%,#90c800 80%,#a8d400 85%,#c0e000 90%,#d9ec00 95%,#f3f900 100%)"></i><i style="top:822px;height:3px;background:linear-gradient(90deg,#316800 0%,#316700 5%,#306800 10%,#2c6a00 15%,#276d00 20%,#1f7000 25%,#167500 30%,#0c7a00 35%,#008000 39.78%,#0e8700 45%,#1d8f00 50%,#2e9700 55%,#40a000 60%,#53a900 65%,#67b300 70%,#7cbe00 75%,#93c900 80%,#aad500 85%,#c2e100 90%,#dced00 95%,#f5fa00 100%)"></i><i style="top:825px;height:3px;background:linear-gradient(90deg,#2e6900 0%,#2f6900 5%,#2d6900 10%,#2a6b00 15%,#246e00 20%,#1d7200 25%,#147600 30%,#097b00 35%,#008000 38.78%,#180 45%,#209000 50%,#309800 55%,#42a100 60%,#5a0 65%,#69b400 70%,#7fbf00 75%,#95ca00 80%,#acd600 85%,#c5e200 90%,#deee00 95%,#f8fb00 100%)"></i><i style="top:828px;height:3px;background:linear-gradient(90deg,#2b6a00 0%,#2c6a00 5%,#2a6b00 10%,#276c00 15%,#216f00 20%,#1a7300 25%,#170 30%,#077d00 35%,#008000 37.75%,#138a00 45%,#229100 50%,#390 55%,#44a200 60%,#57ac00 65%,#6cb600 70%,#81c000 75%,#97cb00 80%,#afd700 85%,#c7e300 90%,#e0f000 95%,#fafc00 100%)"></i><i style="top:831px;height:1px;background:linear-gradient(90deg,#2a6b00 0%,#2a6b00 5%,#296c00 10%,#256d00 15%,#207000 20%,#187400 25%,#107800 30%,#008000 37.05%,#078400 40%,#158a00 45%,#249200 50%,#349a00 55%,#46a300 60%,#59ac00 65%,#6db600 70%,#83c100 75%,#9c0 80%,#b0d800 85%,#c8e400 90%,#e1f000 95%,#fbfd00 100%)"></i></div>
<div class="g" style="left:1174px;top:47px;width:800px;height:822px"><i style="top:0px;height:3px;background:linear-gradient(90deg,#fba304 0%,#f9a106 5%,#f29d0d 10%,#e89617 15%,#db8e24 20%,#ca8335 25%,#b67649 30%,#9f6760 35%,#85567a 40%,#674398 45%,#482eb7 50%,#2518da 55%,#00f 60.02%,#2b00d4 65%,#5900a6 70%,#8a0075 75%,#bc0043 80%,#f00 86.31%,#d81400 90%,#a12f00 95%,#684c00 100%)"></i><i style="top:3px;height:3px;background:linear-gradient(90deg,#faa205 0%,#f7a008 5%,#f19c0e 10%,#e79518 15%,#da8d25 20%,#c98236 25%,#b5754a 30%,#9d6662 35%,#83557c 40%,#664299 45%,#462db9 50%,#2417db 55%,#00f 59.84%,#2d00d2 65%,#5b00a4 70%,#8b0074 75%,#be0041 80%,#f00 86.18%,#d61400 90%,#a03000 95%,#674c00 100%)"></i><i style="top:6px;height:3px;background:linear-gradient(90deg,#f8a107 0%,#f69f09 5%,#ef9b10 10%,#e5941a 15%,#d88c27 20%,#c78138 25%,#b3744c 30%,#9c6563 35%,#82547d 40%,#65419a 45%,#452dba 50%,#2216dd 55%,#00f 59.67%,#2e00d1 65%,#5c00a3 70%,#8d0072 75%,#bf0040 80%,#f00 86.06%,#d51500 90%,#9e3100 95%,#664d00 100%)"></i><i style="top:9px;height:3px;background:linear-gradient(90deg,#f7a008 0%,#f49e0b 5%,#ee9a11 10%,#e4941b 15%,#d78b28 20%,#c68039 25%,#b2734d 30%,#9b6464 35%,#80537f 40%,#63409c 45%,#442cbb 50%,#2115de 55%,#00f 59.49%,#3000cf 65%,#5e00a1 70%,#8e0071 75%,#c0003f 80%,#f00 85.93%,#d41600 90%,#9d3100 95%,#654d00 100%)"></i><i style="top:12px;height:3px;background:linear-gradient(90deg,#f59f0a 0%,#f39d0c 5%,#ec9913 10%,#e2931d 15%,#d58a2a 20%,#c47f3b 25%,#b0724f 30%,#996366 35%,#7f5280 40%,#623f9d 45%,#422bbd 50%,#2015df 55%,#00f 59.32%,#3100ce 65%,#5f00a0 70%,#8f0070 75%,#c2003d 80%,#f00 85.8%,#d21600 90%,#9c3200 95%,#634e00 100%)"></i><i style="top:15px;height:3px;background:linear-gradient(90deg,#f39e0c 0%,#f19c0e 5%,#eb9814 10%,#e1921e 15%,#d4892b 20%,#c37e3c 25%,#af7150 30%,#986267 35%,#7e5181 40%,#613f9e 45%,#412abe 50%,#1e14e1 55%,#00f 59.14%,#30c 65%,#60009f 70%,#91006e 75%,#c3003c 80%,#f00 85.68%,#d11700 90%,#9a3200 95%,#624f00 100%)"></i><i style="top:18px;height:3px;background:linear-gradient(90deg,#f29d0d 0%,#f09b0f 5%,#e99716 10%,#e0911f 15%,#d2882d 20%,#c17d3e 25%,#ad7052 30%,#966169 35%,#7c5083 40%,#5f3ea0 45%,#3f29c0 50%,#1d13e2 55%,#00f 58.97%,#3400cb 65%,#62009d 70%,#92006d 75%,#c5003a 80%,#f00 85.55%,#d01800 90%,#930 95%,#614f00 100%)"></i><i style="top:21px;height:3px;background:linear-gradient(90deg,#f09c0f 0%,#ee9a11 5%,#e89617 10%,#de9021 15%,#d1872e 20%,#c07c3f 25%,#ac6f53 30%,#95606a 35%,#7b4f84 40%,#5e3da1 45%,#3e28c1 50%,#1c12e3 55%,#00f 58.79%,#3500ca 65%,#63009c 70%,#94006b 75%,#c60039 80%,#f00 85.42%,#cf1800 90%,#983400 95%,#605000 100%)"></i><i style="top:24px;height:3px;background:linear-gradient(90deg,#ef9b10 0%,#ec9913 5%,#e69519 10%,#dd8f22 15%,#cf8630 20%,#bf7b40 25%,#ab6e54 30%,#945f6b 35%,#794f86 40%,#5c3ca3 45%,#3d27c2 50%,#1a11e5 55%,#00f 58.61%,#3700c8 65%,#65009a 70%,#95006a 75%,#c70038 80%,#f00 85.3%,#cd1900 90%,#973400 95%,#5e5100 100%)"></i><i style="top:27px;height:3px;background:linear-gradient(90deg,#ed9a12 0%,#eb9814 5%,#e5941a 10%,#db8e24 15%,#ce8531 20%,#bd7a42 25%,#a96d56 30%,#925f6d 35%,#784e87 40%,#5b3ba4 45%,#3b26c4 50%,#1910e6 55%,#00f 58.43%,#3800c7 65%,#609 70%,#960069 75%,#c90036 80%,#f00 85.17%,#cc1a00 90%,#953500 95%,#5d5100 100%)"></i><i style="top:30px;height:3px;background:linear-gradient(90deg,#ec9913 0%,#e99716 5%,#e3931c 10%,#da8d25 15%,#cc8433 20%,#bc7943 25%,#a86d57 30%,#915e6e 35%,#774d88 40%,#5a3aa5 45%,#3a26c5 50%,#180fe7 55%,#00f 58.26%,#3a00c5 65%,#680097 70%,#980067 75%,#ca0035 80%,#f00 85.04%,#cb1a00 90%,#943600 95%,#5c5200 100%)"></i><i style="top:33px;height:3px;background:linear-gradient(90deg,#ea9815 0%,#e89617 5%,#e2921d 10%,#d88c27 15%,#cb8334 20%,#ba7845 25%,#a66c59 30%,#8f5d70 35%,#754c8a 40%,#5839a7 45%,#3925c6 50%,#160ee9 55%,#00f 58.08%,#3b00c4 65%,#690096 70%,#906 75%,#cb0034 80%,#f00 84.92%,#c91b00 90%,#933600 95%,#5b5300 100%)"></i><i style="top:36px;height:3px;background:linear-gradient(90deg,#e99716 0%,#e69519 5%,#e0911f 10%,#d78b28 15%,#c98236 20%,#b97846 25%,#a56b5a 30%,#8e5c71 35%,#744b8b 40%,#5738a8 45%,#3724c8 50%,#150eea 55%,#00f 57.9%,#3d00c2 65%,#6a0095 70%,#9b0064 75%,#cd0032 80%,#f00 84.79%,#c81c00 90%,#913700 95%,#595300 100%)"></i><i style="top:39px;height:3px;background:linear-gradient(90deg,#e79618 0%,#e5941a 5%,#df9020 10%,#d58a2a 15%,#c88137 20%,#b77748 25%,#a36a5c 30%,#8c5b73 35%,#724a8d 40%,#5637a9 45%,#3623c9 50%,#140deb 55%,#00f 57.72%,#3e00c1 65%,#6c0093 70%,#9c0063 75%,#ce0031 80%,#f00 84.66%,#c71c00 90%,#903800 95%,#585400 100%)"></i><i style="top:42px;height:3px;background:linear-gradient(90deg,#e69519 0%,#e3931c 5%,#dd8f22 10%,#d4892b 15%,#c68039 20%,#b67649 25%,#a2695d 30%,#8b5a74 35%,#71498e 40%,#5436ab 45%,#3522ca 50%,#120ced 55%,#00f 57.54%,#4000bf 65%,#6d0092 70%,#9d0062 75%,#d0002f 80%,#f00 84.53%,#c51d00 90%,#8f3800 95%,#575400 100%)"></i><i style="top:45px;height:3px;background:linear-gradient(90deg,#e4941b 0%,#e2921d 5%,#dc8e23 10%,#d2882d 15%,#c57f3a 20%,#b4754b 25%,#a1685e 30%,#8a5975 35%,#70488f 40%,#5336ac 45%,#3321cc 50%,#00f 57.36%,#1600e9 60%,#4100be 65%,#6f0090 70%,#9f0060 75%,#d1002e 80%,#f00 84.4%,#c41e00 90%,#8e3900 95%,#550 100%)"></i><i style="top:48px;height:3px;background:linear-gradient(90deg,#e3931c 0%,#e0911f 5%,#da8d25 10%,#d1872e 15%,#c47f3b 20%,#b3744c 25%,#9f6760 30%,#885877 35%,#6e4791 40%,#5135ae 45%,#3220cd 50%,#00f 57.18%,#1700e8 60%,#4200bd 65%,#70008f 70%,#a0005f 75%,#d2002d 80%,#f00 84.28%,#c31e00 90%,#8c3a00 95%,#545600 100%)"></i><i style="top:51px;height:3px;background:linear-gradient(90deg,#e1921e 0%,#df9020 5%,#d98c26 10%,#cf8630 15%,#c27e3d 20%,#b2734d 25%,#9e6661 30%,#875778 35%,#6d4692 40%,#5034af 45%,#311fce 50%,#00f 56.99%,#1900e6 60%,#40b 65%,#72008d 70%,#a2005d 75%,#d4002b 80%,#f00 84.15%,#c11f00 90%,#8b3a00 95%,#535600 100%)"></i><i style="top:54px;height:3px;background:linear-gradient(90deg,#df9120 0%,#dd8f22 5%,#d78b28 10%,#ce8531 15%,#c17d3e 20%,#b0724f 25%,#9c6563 30%,#85567a 35%,#6c4693 40%,#4f33b0 45%,#2f1fd0 50%,#00f 56.81%,#1a00e5 60%,#4500ba 65%,#73008c 70%,#a3005c 75%,#d5002a 80%,#f00 84.02%,#c02000 90%,#8a3b00 95%,#525700 100%)"></i><i style="top:57px;height:3px;background:linear-gradient(90deg,#de9021 0%,#dc8e23 5%,#d68a29 10%,#cc8433 15%,#bf7c40 20%,#af7150 25%,#9b6464 30%,#84557b 35%,#6a4595 40%,#4d32b2 45%,#2e1ed1 50%,#00f 56.63%,#1c00e3 60%,#4700b8 65%,#74008b 70%,#a4005b 75%,#d70028 80%,#f00 83.89%,#bf2000 90%,#883c00 95%,#505800 100%)"></i><i style="top:60px;height:3px;background:linear-gradient(90deg,#dc8f23 0%,#da8d25 5%,#d4892b 10%,#cb8334 15%,#be7b41 20%,#ad7052 25%,#996366 30%,#83557c 35%,#694496 40%,#4c31b3 45%,#2c1dd3 50%,#00f 56.45%,#1d00e2 60%,#4800b7 65%,#760089 70%,#a60059 75%,#d80027 80%,#f00 83.76%,#be2100 90%,#873c00 95%,#4f5800 100%)"></i><i style="top:63px;height:3px;background:linear-gradient(90deg,#db8e24 0%,#d98c26 5%,#d3882c 10%,#c98236 15%,#bc7a43 20%,#ac6f53 25%,#986267 30%,#81547e 35%,#674398 40%,#4b30b4 45%,#2b1cd4 50%,#00f 56.26%,#1f00e0 60%,#4a00b5 65%,#708 70%,#a70058 75%,#d90026 80%,#f00 83.63%,#bc2200 90%,#863d00 95%,#4e5900 100%)"></i><i style="top:66px;height:3px;background:linear-gradient(90deg,#d98d26 0%,#d78b28 5%,#d1872e 10%,#c88137 15%,#bb7944 20%,#aa6e55 25%,#976168 30%,#80537f 35%,#664299 40%,#492fb6 45%,#2a1bd5 50%,#00f 56.08%,#2000df 60%,#4b00b4 65%,#790086 70%,#a90056 75%,#db0024 80%,#f00 83.5%,#b20 90%,#853d00 95%,#4d5a00 100%)"></i><i style="top:69px;height:3px;background:linear-gradient(90deg,#d88c27 0%,#d68a29 5%,#d0862f 10%,#c68039 15%,#b97846 20%,#a96d56 25%,#95616a 30%,#7e5281 35%,#65419a 40%,#482fb7 45%,#281ad7 50%,#00f 55.89%,#2100de 60%,#4c00b3 65%,#7a0085 70%,#a05 75%,#dc0023 80%,#f00 83.37%,#ba2300 90%,#833e00 95%,#4b5a00 100%)"></i><i style="top:72px;height:3px;background:linear-gradient(90deg,#d68b29 0%,#d4892b 5%,#ce8631 10%,#c57f3a 15%,#b87747 20%,#a76c58 25%,#94606b 30%,#7d5182 35%,#63409c 40%,#472eb8 45%,#2719d8 50%,#00f 55.71%,#2300dc 60%,#4e00b1 65%,#7b0084 70%,#ab0054 75%,#d02 80%,#f00 83.24%,#b82300 90%,#823f00 95%,#4a5b00 100%)"></i><i style="top:75px;height:3px;background:linear-gradient(90deg,#d58a2a 0%,#d3882c 5%,#cd8532 10%,#c37e3c 15%,#b67649 20%,#a66b59 25%,#925f6d 30%,#7c5083 35%,#623f9d 40%,#452dba 45%,#2618d9 50%,#00f 55.52%,#2400db 60%,#4f00b0 65%,#7d0082 70%,#ad0052 75%,#df0020 80%,#f00 83.11%,#b72400 90%,#813f00 95%,#495b00 100%)"></i><i style="top:78px;height:3px;background:linear-gradient(90deg,#d3892c 0%,#d1872e 5%,#cb8434 10%,#c27d3d 15%,#b5754a 20%,#a56a5a 25%,#915e6e 30%,#7a4f85 35%,#603e9f 40%,#442cbb 45%,#2418db 50%,#00f 55.33%,#2600d9 60%,#5100ae 65%,#7e0081 70%,#ae0051 75%,#e0001f 80%,#f00 82.98%,#b62500 90%,#7f4000 95%,#485c00 100%)"></i><i style="top:81px;height:3px;background:linear-gradient(90deg,#d2882d 0%,#d0862f 5%,#ca8335 10%,#c07d3f 15%,#b3744c 20%,#a36a5c 25%,#905d6f 30%,#794e86 35%,#5f3ea0 40%,#422bbd 45%,#2317dc 50%,#00f 55.15%,#2700d8 60%,#5200ad 65%,#80007f 70%,#b0004f 75%,#e2001d 80%,#f00 82.85%,#b42500 90%,#7e4100 95%,#465d00 100%)"></i><i style="top:84px;height:3px;background:linear-gradient(90deg,#d0872f 0%,#ce8531 5%,#c88237 10%,#bf7c40 15%,#b2734d 20%,#a2695d 25%,#8e5c71 30%,#774d88 35%,#5e3da1 40%,#412abe 45%,#2216dd 50%,#00f 54.96%,#2900d6 60%,#5400ab 65%,#81007e 70%,#b1004e 75%,#e3001c 80%,#f00 82.72%,#b32600 90%,#7d4100 95%,#455d00 100%)"></i><i style="top:87px;height:3px;background:linear-gradient(90deg,#cf8630 0%,#cd8432 5%,#c78138 10%,#be7b41 15%,#b1724e 20%,#a0685f 25%,#8d5b72 30%,#764c89 35%,#5c3ca3 40%,#4029bf 45%,#2015df 50%,#00f 54.77%,#2a00d5 60%,#50a 65%,#83007c 70%,#b2004d 75%,#e4001b 80%,#f00 82.59%,#b22700 90%,#7c4200 95%,#445e00 100%)"></i><i style="top:90px;height:3px;background:linear-gradient(90deg,#cd8532 0%,#cb8334 5%,#c5803a 10%,#bc7a43 15%,#af7150 20%,#9f6760 25%,#8b5a74 30%,#754b8a 35%,#5b3ba4 40%,#3e28c1 45%,#1f14e0 50%,#00f 54.58%,#2c00d3 60%,#5600a9 65%,#84007b 70%,#b4004b 75%,#f00 82.46%,#e50d00 85%,#b12700 90%,#7a4300 95%,#425f00 100%)"></i><i style="top:93px;height:3px;background:linear-gradient(90deg,#cc8433 0%,#ca8235 5%,#c47f3b 10%,#bb7944 15%,#ae7051 20%,#9d6662 25%,#8a5975 30%,#734b8c 35%,#5a3aa5 40%,#3d27c2 45%,#1e13e1 50%,#00f 54.39%,#2d00d2 60%,#5800a7 65%,#85007a 70%,#b5004a 75%,#f00 82.33%,#e40e00 85%,#af2800 90%,#794300 95%,#415f00 100%)"></i><i style="top:96px;height:3px;background:linear-gradient(90deg,#ca8335 0%,#c88237 5%,#c27e3d 10%,#b97846 15%,#ac6f53 20%,#9c6563 25%,#885877 30%,#724a8d 35%,#5839a7 40%,#3c27c3 45%,#1c12e3 50%,#00f 54.2%,#2e00d1 60%,#5900a6 65%,#870078 70%,#b60049 75%,#f00 82.19%,#e20e00 85%,#ae2900 90%,#784400 95%,#406000 100%)"></i><i style="top:99px;height:3px;background:linear-gradient(90deg,#c98236 0%,#c78138 5%,#c17d3e 10%,#b87747 15%,#ab6f54 20%,#9b6464 25%,#875778 30%,#70498f 35%,#5738a8 40%,#3a26c5 45%,#1b11e4 50%,#00f 54.01%,#3000cf 60%,#5b00a4 65%,#807 70%,#b80047 75%,#f00 82.06%,#e10f00 85%,#ad2900 90%,#764500 95%,#3f6100 100%)"></i><i style="top:102px;height:3px;background:linear-gradient(90deg,#c78138 0%,#c5803a 5%,#bf7c40 10%,#b67649 15%,#a96e56 20%,#996366 25%,#865679 30%,#6f4890 35%,#5537aa 40%,#3925c6 45%,#1a11e5 50%,#00f 53.81%,#3100ce 60%,#5c00a3 65%,#8a0075 70%,#b90046 75%,#f00 81.93%,#e01000 85%,#ab2a00 90%,#754500 95%,#3d6100 100%)"></i><i style="top:105px;height:3px;background:linear-gradient(90deg,#c68039 0%,#c47f3b 5%,#be7b41 10%,#b5754a 15%,#a86d57 20%,#986267 25%,#84567b 30%,#6e4791 35%,#5436ab 40%,#3824c7 45%,#1810e7 50%,#00f 53.62%,#30c 60%,#5e00a1 65%,#8b0074 70%,#b04 75%,#f00 81.8%,#de1000 85%,#aa2b00 90%,#744600 95%,#3c6200 100%)"></i><i style="top:108px;height:3px;background:linear-gradient(90deg,#c47f3b 0%,#c27e3d 5%,#bd7a42 10%,#b3744c 15%,#a66c59 20%,#966169 25%,#83557c 30%,#6c4693 35%,#5335ac 40%,#3623c9 45%,#170fe8 50%,#00f 53.43%,#3400cb 60%,#5f00a0 65%,#8c0073 70%,#bc0043 75%,#f00 81.67%,#d10 85%,#a92b00 90%,#734600 95%,#3b6200 100%)"></i><i style="top:111px;height:3px;background:linear-gradient(90deg,#c37e3c 0%,#c17d3e 5%,#bb7944 10%,#b2734d 15%,#a56b5a 20%,#95606a 25%,#81547e 30%,#6b4594 35%,#5135ae 40%,#3522ca 45%,#160ee9 50%,#00f 53.23%,#3600c9 60%,#60009f 65%,#8e0071 70%,#bd0042 75%,#f00 81.53%,#dc1200 85%,#a72c00 90%,#714700 95%,#3a6300 100%)"></i><i style="top:114px;height:3px;background:linear-gradient(90deg,#c17d3e 0%,#bf7c40 5%,#ba7845 10%,#b0724f 15%,#a46a5b 20%,#935f6c 25%,#80537f 30%,#694496 35%,#5034af 40%,#3321cc 45%,#140deb 50%,#00f 53.04%,#3700c8 60%,#62009d 65%,#8f0070 70%,#bf0040 75%,#f00 81.4%,#da1200 85%,#a62d00 90%,#704800 95%,#386400 100%)"></i><i style="top:117px;height:3px;background:linear-gradient(90deg,#c07c3f 0%,#be7b41 5%,#b87747 10%,#af7150 15%,#a2695d 20%,#925e6d 25%,#7f5280 30%,#684397 35%,#4f33b0 40%,#3220cd 45%,#130cec 50%,#00f 52.84%,#3900c6 60%,#63009c 65%,#91006e 70%,#c0003f 75%,#f00 81.27%,#d91300 85%,#a52d00 90%,#6f4800 95%,#376400 100%)"></i><i style="top:120px;height:3px;background:linear-gradient(90deg,#be7b41 0%,#bc7a43 5%,#b77648 10%,#ad7052 15%,#a1685e 20%,#915e6e 25%,#7d5182 30%,#674298 35%,#4d32b2 40%,#3120ce 45%,#120bed 50%,#00f 52.65%,#3a00c5 60%,#65009a 65%,#92006d 70%,#c2003d 75%,#f00 81.14%,#d81400 85%,#a42e00 90%,#6d4900 95%,#366500 100%)"></i><i style="top:123px;height:3px;background:linear-gradient(90deg,#bc7a43 0%,#bb7944 5%,#b5754a 10%,#ac6f53 15%,#9f6760 20%,#8f5d70 25%,#7c5083 30%,#65429a 35%,#4c31b3 40%,#2f1fd0 45%,#00f 52.45%,#1300ec 55%,#3b00c4 60%,#609 65%,#93006c 70%,#c3003c 75%,#f00 81%,#d71400 85%,#a22f00 90%,#6c4a00 95%,#356600 100%)"></i><i style="top:126px;height:3px;background:linear-gradient(90deg,#bb7944 0%,#b97846 5%,#b4744b 10%,#ab6e54 15%,#9e6661 20%,#8e5c71 25%,#7a4f85 30%,#64419b 35%,#4a30b5 40%,#2e1ed1 45%,#00f 52.25%,#1500ea 55%,#3d00c2 60%,#680097 65%,#95006a 70%,#c4003b 75%,#f00 80.87%,#d51500 85%,#a12f00 90%,#6b4a00 95%,#360 100%)"></i><i style="top:129px;height:3px;background:linear-gradient(90deg,#b97846 0%,#b87747 5%,#b2734d 10%,#a96d56 15%,#9c6563 20%,#8c5b73 25%,#794e86 30%,#63409c 35%,#492fb6 40%,#2d1dd2 45%,#00f 52.06%,#1600e9 55%,#3e00c1 60%,#690096 65%,#960069 70%,#c60039 75%,#f00 80.73%,#d41600 85%,#a03000 90%,#6a4b00 95%,#326700 100%)"></i><i style="top:132px;height:3px;background:linear-gradient(90deg,#b87747 0%,#b67649 5%,#b1724e 10%,#a86c57 15%,#9b6464 20%,#8b5a74 25%,#784d87 30%,#613f9e 35%,#482eb7 40%,#2b1cd4 45%,#00f 51.86%,#1800e7 55%,#4000bf 60%,#6a0095 65%,#980067 70%,#c70038 75%,#f00 80.6%,#d31600 85%,#9e3100 90%,#684c00 95%,#316800 100%)"></i><i style="top:135px;height:3px;background:linear-gradient(90deg,#b67649 0%,#b5754a 5%,#af7150 10%,#a66c59 15%,#996366 20%,#895976 25%,#764c89 30%,#603e9f 35%,#462db9 40%,#2a1bd5 45%,#00f 51.66%,#1900e6 55%,#4100be 60%,#6c0093 65%,#906 70%,#c90036 75%,#f00 80.47%,#d11700 85%,#9d3100 90%,#674c00 95%,#2f6800 100%)"></i><i style="top:138px;height:3px;background:linear-gradient(90deg,#b5754a 0%,#b3744c 5%,#ae7051 10%,#a56b5a 15%,#986267 20%,#885877 25%,#754c8a 30%,#5e3da1 35%,#452dba 40%,#291ad6 45%,#00f 51.46%,#1b00e4 55%,#4300bc 60%,#6d0092 65%,#9a0065 70%,#ca0035 75%,#f00 80.33%,#d01800 85%,#9c3200 90%,#664d00 95%,#2e6900 100%)"></i><i style="top:141px;height:3px;background:linear-gradient(90deg,#b3744c 0%,#b2734d 5%,#ac7053 10%,#a36a5c 15%,#976168 20%,#875778 25%,#734b8c 30%,#5d3ca2 35%,#442cbb 40%,#2719d8 45%,#00f 51.26%,#1c00e3 55%,#40b 60%,#6f0090 65%,#9c0063 70%,#cb0034 75%,#f00 80.2%,#cf1800 85%,#9a3200 90%,#644e00 95%,#2d6900 100%)"></i><i style="top:144px;height:3px;background:linear-gradient(90deg,#b2734d 0%,#b0724f 5%,#ab6f54 10%,#a2695d 15%,#95616a 20%,#85567a 25%,#724a8d 30%,#5c3ba3 35%,#422bbd 40%,#2619d9 45%,#00f 51.05%,#1e00e1 55%,#4600b9 60%,#70008f 65%,#9d0062 70%,#cd0032 75%,#f00 80.06%,#cd1900 85%,#930 90%,#634e00 95%,#2c6a00 100%)"></i><i style="top:147px;height:3px;background:linear-gradient(90deg,#b0724f 0%,#af7150 5%,#a96e56 10%,#a0685f 15%,#94606b 20%,#84557b 25%,#71498e 30%,#5a3aa5 35%,#412abe 40%,#2518da 45%,#00f 50.85%,#1f00e0 55%,#4700b8 60%,#72008d 65%,#9f0060 70%,#ce0031 75%,#f00 79.93%,#cc1a00 85%,#983400 90%,#624f00 95%,#2a6b00 100%)"></i><i style="top:150px;height:3px;background:linear-gradient(90deg,#af7150 0%,#ad7052 5%,#a86d57 10%,#9f6760 15%,#925f6d 20%,#82547d 25%,#6f4890 30%,#5939a6 35%,#3f29c0 40%,#2317dc 45%,#00f 50.65%,#2100de 55%,#4800b7 60%,#73008c 65%,#a0005f 70%,#cf0030 75%,#f00 79.79%,#cb1a00 85%,#973400 90%,#614f00 95%,#296b00 100%)"></i><i style="top:153px;height:3px;background:linear-gradient(90deg,#ad7052 0%,#ac6f53 5%,#a66c59 10%,#9d6662 15%,#915e6e 20%,#81537e 25%,#6e4791 30%,#5739a8 35%,#3e28c1 40%,#2216dd 45%,#00f 50.44%,#20d 55%,#4a00b5 60%,#74008b 65%,#a1005e 70%,#d1002e 75%,#f00 79.66%,#c91b00 85%,#953500 90%,#5f5000 95%,#286c00 100%)"></i><i style="top:156px;height:3px;background:linear-gradient(90deg,#ac6f53 0%,#aa6e55 5%,#a56b5a 10%,#9c6563 15%,#8f5d70 20%,#80537f 25%,#6c4693 30%,#5638a9 35%,#3d27c2 40%,#2115de 45%,#00f 50.24%,#2300dc 55%,#4b00b4 60%,#760089 65%,#a3005c 70%,#d2002d 75%,#f00 79.52%,#c81c00 85%,#943600 90%,#5e5100 95%,#276d00 100%)"></i><i style="top:159px;height:3px;background:linear-gradient(90deg,#aa6e55 0%,#a96d56 5%,#a46a5b 10%,#9b6464 15%,#8e5c71 20%,#7e5281 25%,#6b4594 30%,#5537aa 35%,#3b26c4 40%,#1f14e0 45%,#00f 50.03%,#2500da 55%,#4d00b2 60%,#708 65%,#a4005b 70%,#d4002b 75%,#f00 79.38%,#c71c00 85%,#933600 90%,#5d5100 95%,#256d00 100%)"></i><i style="top:162px;height:3px;background:linear-gradient(90deg,#a96d56 0%,#a76c58 5%,#a2695d 10%,#996366 15%,#8d5b72 20%,#7d5182 25%,#6a4495 30%,#5336ac 35%,#3a26c5 40%,#1e13e1 45%,#00f 49.83%,#2600d9 55%,#4e00b1 60%,#790086 65%,#a60059 70%,#d5002a 75%,#f00 79.25%,#c51d00 85%,#913700 90%,#5b5200 95%,#246e00 100%)"></i><i style="top:165px;height:3px;background:linear-gradient(90deg,#a76c58 0%,#a66b59 5%,#a1685e 10%,#986267 15%,#8b5a74 20%,#7b5084 25%,#684397 30%,#5235ad 35%,#3925c6 40%,#1c12e3 45%,#00f 49.62%,#2800d7 55%,#5000af 60%,#7a0085 65%,#a70058 70%,#d60029 75%,#f00 79.11%,#c41e00 85%,#903800 90%,#5a5300 95%,#236f00 100%)"></i><i style="top:168px;height:3px;background:linear-gradient(90deg,#a66b59 0%,#a46a5b 5%,#9f6760 10%,#966169 15%,#8a5975 20%,#7a4f85 25%,#674398 30%,#5134ae 35%,#3724c8 40%,#1b12e4 45%,#00f 49.41%,#2900d6 55%,#5100ae 60%,#7c0083 65%,#a80057 70%,#d80027 75%,#f00 78.97%,#c31e00 85%,#8f3800 90%,#595300 95%,#226f00 100%)"></i><i style="top:171px;height:3px;background:linear-gradient(90deg,#a46a5b 0%,#a3695c 5%,#9e6661 10%,#95606a 15%,#885877 20%,#784e87 25%,#65429a 30%,#4f33b0 35%,#3623c9 40%,#1a11e5 45%,#00f 49.2%,#2b00d4 55%,#5300ac 60%,#7d0082 65%,#a05 70%,#d90026 75%,#f00 78.84%,#c11f00 85%,#8d3900 90%,#585400 95%,#207000 100%)"></i><i style="top:174px;height:3px;background:linear-gradient(90deg,#a3695c 0%,#a1685e 5%,#9c6563 10%,#935f6c 15%,#875778 20%,#774d88 25%,#64419b 30%,#4e32b1 35%,#3522ca 40%,#1810e7 45%,#00f 48.99%,#2c00d3 55%,#5400ab 60%,#7e0081 65%,#ab0054 70%,#db0024 75%,#f00 78.7%,#c02000 85%,#8c3a00 90%,#565500 95%,#1f7000 100%)"></i><i style="top:177px;height:3px;background:linear-gradient(90deg,#a2695d 0%,#a0685f 5%,#9b6464 10%,#925e6d 15%,#85567a 20%,#764c89 25%,#63409c 30%,#4c31b3 35%,#3321cc 40%,#170fe8 45%,#00f 48.78%,#2e00d1 55%,#50a 60%,#80007f 65%,#ad0052 70%,#dc0023 75%,#f00 78.56%,#bf2000 85%,#8b3a00 90%,#550 95%,#1e7100 100%)"></i><i style="top:180px;height:3px;background:linear-gradient(90deg,#a0685f 0%,#9f6760 5%,#996366 10%,#905d6f 15%,#84557b 20%,#744b8b 25%,#613f9e 30%,#4b31b4 35%,#3220cd 40%,#160ee9 45%,#00f 48.57%,#2f00d0 55%,#5700a8 60%,#81007e 65%,#ae0051 70%,#d02 75%,#f00 78.43%,#be2100 85%,#8a3b00 90%,#545600 95%,#1c7200 100%)"></i><i style="top:183px;height:3px;background:linear-gradient(90deg,#9f6760 0%,#9d6662 5%,#986267 10%,#8f5d70 15%,#83557c 20%,#734a8c 25%,#603e9f 30%,#4a30b5 35%,#301fcf 40%,#140deb 45%,#00f 48.35%,#3100ce 55%,#5800a7 60%,#83007c 65%,#b0004f 70%,#df0020 75%,#f00 78.29%,#bc2200 85%,#883c00 90%,#535700 95%,#1b7200 100%)"></i><i style="top:186px;height:3px;background:linear-gradient(90deg,#9d6662 0%,#9c6563 5%,#966169 10%,#8e5c71 15%,#81547e 20%,#71498e 25%,#5e3da1 30%,#482fb7 35%,#2f1ed0 40%,#130cec 45%,#00f 48.14%,#3200cd 55%,#5a00a5 60%,#84007b 65%,#b1004e 70%,#e0001f 75%,#f00 78.15%,#b20 85%,#873c00 90%,#515700 95%,#1a7300 100%)"></i><i style="top:189px;height:3px;background:linear-gradient(90deg,#9c6563 0%,#9a6465 5%,#95606a 10%,#8c5b73 15%,#80537f 20%,#70488f 25%,#5d3ca2 30%,#472eb8 35%,#2e1ed1 40%,#120bed 45%,#00f 47.93%,#30c 55%,#5b00a4 60%,#85007a 65%,#b2004d 70%,#e2001d 75%,#f00 78.01%,#ba2300 85%,#863d00 90%,#505800 95%,#197400 100%)"></i><i style="top:192px;height:3px;background:linear-gradient(90deg,#9a6465 0%,#996366 5%,#935f6c 10%,#8b5a74 15%,#7e5281 20%,#6f4890 25%,#5c3ba3 30%,#462db9 35%,#2c1dd3 40%,#100bef 45%,#00f 47.71%,#3500ca 55%,#5d00a2 60%,#870078 65%,#b4004b 70%,#e3001c 75%,#f00 77.87%,#b82400 85%,#843e00 90%,#4f5900 95%,#177400 100%)"></i><i style="top:195px;height:3px;background:linear-gradient(90deg,#996366 0%,#976268 5%,#925e6d 10%,#895976 15%,#7d5182 20%,#6d4792 25%,#5a3aa5 30%,#442cbb 35%,#2b1cd4 40%,#00f 47.49%,#10e 50%,#3600c9 55%,#5e00a1 60%,#807 65%,#b5004a 70%,#e4001b 75%,#f00 77.73%,#b72400 85%,#833e00 90%,#4d5900 95%,#167500 100%)"></i><i style="top:198px;height:3px;background:linear-gradient(90deg,#976268 0%,#966169 5%,#915e6e 10%,#885877 15%,#7c5083 20%,#6c4693 25%,#5939a6 30%,#432bbc 35%,#2a1bd5 40%,#00f 47.28%,#1300ec 50%,#3800c7 55%,#5f00a0 60%,#8a0075 65%,#b70048 70%,#e60019 75%,#f00 77.59%,#b62500 85%,#823f00 90%,#4c5a00 95%,#157600 100%)"></i><i style="top:201px;height:3px;background:linear-gradient(90deg,#966169 0%,#94606b 5%,#8f5d70 10%,#865779 15%,#7a4f85 20%,#6a4595 25%,#5739a8 30%,#412abe 35%,#281ad7 40%,#00f 47.06%,#1400eb 50%,#3900c6 55%,#61009e 60%,#8b0074 65%,#b80047 70%,#f00 77.46%,#e60c00 80%,#b42500 85%,#804000 90%,#4b5a00 95%,#147600 100%)"></i><i style="top:204px;height:3px;background:linear-gradient(90deg,#94606b 0%,#935f6c 5%,#8e5c71 10%,#85567a 15%,#794e86 20%,#694496 25%,#5638a9 30%,#4029bf 35%,#2719d8 40%,#00f 46.84%,#1600e9 50%,#3b00c4 55%,#62009d 60%,#8d0072 65%,#b90046 70%,#f00 77.32%,#e50d00 80%,#b32600 85%,#7f4000 90%,#4a5b00 95%,#127700 100%)"></i><i style="top:207px;height:3px;background:linear-gradient(90deg,#935f6c 0%,#915e6e 5%,#8c5b73 10%,#83557c 15%,#774d88 20%,#684397 25%,#5537aa 30%,#3f29c0 35%,#2618d9 40%,#00f 46.62%,#1700e8 50%,#3c00c3 55%,#64009b 60%,#8e0071 65%,#b04 70%,#f00 77.18%,#e40e00 80%,#b22700 85%,#7e4100 90%,#485c00 95%,#170 100%)"></i><i style="top:210px;height:3px;background:linear-gradient(90deg,#915e6e 0%,#905d6f 5%,#8b5a74 10%,#82547d 15%,#764c89 20%,#664299 25%,#5336ac 30%,#3d28c2 35%,#2417db 40%,#00f 46.4%,#1900e6 50%,#3e00c1 55%,#65009a 60%,#8f0070 65%,#bc0043 70%,#f00 77.04%,#e20e00 80%,#b02700 85%,#7d4100 90%,#475c00 95%,#107800 100%)"></i><i style="top:213px;height:3px;background:linear-gradient(90deg,#905d6f 0%,#8e5c71 5%,#895976 10%,#81537e 15%,#744b8b 20%,#65419a 25%,#5235ad 30%,#3c27c3 35%,#2317dc 40%,#00f 46.17%,#1a00e5 50%,#3f00c0 55%,#670098 60%,#91006e 65%,#be0041 70%,#f00 76.9%,#e10f00 80%,#af2800 85%,#7b4200 90%,#465d00 95%,#0f7900 100%)"></i><i style="top:216px;height:3px;background:linear-gradient(90deg,#8e5c71 0%,#8d5b72 5%,#885877 10%,#7f5280 15%,#734a8c 20%,#63409c 25%,#5134ae 30%,#3b26c4 35%,#2216dd 40%,#00f 45.95%,#1c00e3 50%,#4000bf 55%,#680097 60%,#92006d 65%,#bf0040 70%,#f00 76.75%,#e01000 80%,#ae2900 85%,#7a4300 90%,#445e00 95%,#0d7900 100%)"></i><i style="top:219px;height:3px;background:linear-gradient(90deg,#8d5b72 0%,#8b5a74 5%,#865779 10%,#7e5181 15%,#72498d 20%,#623f9d 25%,#4f33b0 30%,#3925c6 35%,#2015df 40%,#00f 45.73%,#1d00e2 50%,#4200bd 55%,#690096 60%,#94006b 65%,#c0003f 70%,#f00 76.61%,#de1000 80%,#ac2900 85%,#794300 90%,#435e00 95%,#0c7a00 100%)"></i><i style="top:222px;height:3px;background:linear-gradient(90deg,#8b5a74 0%,#8a5975 5%,#85567a 10%,#7c5083 15%,#70498f 20%,#613f9e 25%,#4e32b1 30%,#3824c7 35%,#1f14e0 40%,#00f 45.5%,#1f00e0 50%,#4300bc 55%,#6b0094 60%,#95006a 65%,#c2003d 70%,#f00 76.47%,#d10 80%,#ab2a00 85%,#740 90%,#425f00 95%,#0b7b00 100%)"></i><i style="top:225px;height:3px;background:linear-gradient(90deg,#8a5975 0%,#895876 5%,#84557b 10%,#7b5084 15%,#6f4890 20%,#5f3ea0 25%,#4c31b3 30%,#3623c9 35%,#1d13e2 40%,#00f 45.27%,#2000df 50%,#4500ba 55%,#6c0093 60%,#960069 65%,#c3003c 70%,#f00 76.33%,#dc1200 80%,#aa2b00 85%,#764500 90%,#416000 95%,#097b00 100%)"></i><i style="top:228px;height:3px;background:linear-gradient(90deg,#885877 0%,#875778 5%,#82547d 10%,#794f86 15%,#6d4792 20%,#5e3da1 25%,#4b31b4 30%,#3522ca 35%,#1c12e3 40%,#00f 45.04%,#20d 50%,#4600b9 55%,#6e0091 60%,#980067 65%,#c5003a 70%,#f00 76.19%,#da1200 80%,#a82b00 85%,#754500 90%,#3f6000 95%,#087c00 100%)"></i><i style="top:231px;height:3px;background:linear-gradient(90deg,#875778 0%,#865679 5%,#81537e 10%,#784e87 15%,#6c4693 20%,#5c3ca3 25%,#4a30b5 30%,#3421cb 35%,#1b11e4 40%,#00f 44.82%,#2300dc 50%,#4800b7 55%,#6f0090 60%,#906 65%,#c60039 70%,#f00 76.05%,#d91300 80%,#a72c00 85%,#734600 90%,#3e6100 95%,#077d00 100%)"></i><i style="top:234px;height:3px;background:linear-gradient(90deg,#85567a 0%,#84567b 5%,#7f5280 10%,#774d88 15%,#6b4594 20%,#5b3ba4 25%,#482fb7 30%,#3221cd 35%,#1910e6 40%,#00f 44.58%,#2400db 50%,#4900b6 55%,#71008e 60%,#9b0064 65%,#c70038 70%,#f00 75.91%,#d81400 80%,#a62d00 85%,#724700 90%,#3d6200 95%,#067d00 100%)"></i><i style="top:237px;height:3px;background:linear-gradient(90deg,#84557b 0%,#83557c 5%,#7e5181 10%,#754c8a 15%,#694496 20%,#5a3aa5 25%,#472eb8 30%,#3120ce 35%,#1810e7 40%,#00f 44.35%,#2600d9 50%,#4b00b4 55%,#72008d 60%,#9c0063 65%,#c90036 70%,#f00 75.76%,#d61400 80%,#a52d00 85%,#714700 90%,#3b6200 95%,#047e00 100%)"></i><i style="top:240px;height:3px;background:linear-gradient(90deg,#82547d 0%,#81547e 5%,#7c5083 10%,#744b8b 15%,#684397 20%,#5839a7 25%,#452dba 30%,#301fcf 35%,#170fe8 40%,#00f 44.12%,#2700d8 50%,#4c00b3 55%,#73008c 60%,#9e0061 65%,#ca0035 70%,#f00 75.62%,#d51500 80%,#a32e00 85%,#704800 90%,#3a6300 95%,#037e00 100%)"></i><i style="top:243px;height:3px;background:linear-gradient(90deg,#81537e 0%,#80537f 5%,#7b5084 10%,#724a8d 15%,#664299 20%,#5738a8 25%,#442cbb 30%,#2e1ed1 35%,#150eea 40%,#00f 43.89%,#2900d6 50%,#4d00b2 55%,#75008a 60%,#9f0060 65%,#cb0034 70%,#f00 75.48%,#d41600 80%,#a22f00 85%,#6e4900 90%,#396300 95%,#027f00 100%)"></i><i style="top:246px;height:3px;background:linear-gradient(90deg,#7f5280 0%,#7e5281 5%,#794f86 10%,#71498e 15%,#65419a 20%,#5537aa 25%,#432bbc 30%,#2d1dd2 35%,#140deb 40%,#00f 43.65%,#2a00d5 50%,#4f00b0 55%,#760089 60%,#a0005f 65%,#cd0032 70%,#f00 75.33%,#d21600 80%,#a12f00 85%,#6d4900 90%,#386400 95%,#018000 100%)"></i><i style="top:249px;height:3px;background:linear-gradient(90deg,#7e5281 0%,#7d5182 5%,#784e87 10%,#6f4890 15%,#63409c 20%,#5436ab 25%,#412abe 30%,#2b1cd4 35%,#130cec 40%,#00f 43.41%,#2c00d3 50%,#5000af 55%,#780087 60%,#a2005d 65%,#ce0031 70%,#f00 75.19%,#d11700 80%,#9f3000 85%,#6c4a00 90%,#366500 95%,#008000 99.94%,#018000 100%)"></i><i style="top:252px;height:3px;background:linear-gradient(90deg,#7d5182 0%,#7b5084 5%,#774d88 10%,#6e4791 15%,#623f9d 20%,#5335ac 25%,#4029bf 30%,#2a1bd5 35%,#110bee 40%,#00f 43.18%,#2d00d2 50%,#5200ad 55%,#790086 60%,#a3005c 65%,#d0002f 70%,#f00 75.05%,#d01800 80%,#9e3100 85%,#6a4b00 90%,#356500 95%,#008000 99.82%,#028100 100%)"></i><i style="top:255px;height:3px;background:linear-gradient(90deg,#7b5084 0%,#7a4f85 5%,#754c8a 10%,#6d4692 15%,#613f9e 20%,#5135ae 25%,#3f28c0 30%,#291ad6 35%,#100aef 40%,#00f 42.94%,#2f00d0 50%,#5300ac 55%,#7b0084 60%,#a5005a 65%,#d1002e 70%,#f00 74.9%,#ce1800 80%,#9d3100 85%,#694b00 90%,#346600 95%,#008000 99.71%,#038200 100%)"></i><i style="top:258px;height:3px;background:linear-gradient(90deg,#7a4f85 0%,#794e86 5%,#744b8b 10%,#6b4594 15%,#5f3ea0 20%,#5034af 25%,#3d28c2 30%,#2719d8 35%,#0f09f0 40%,#00f 42.7%,#3000cf 50%,#50a 55%,#7c0083 60%,#a60059 65%,#d2002d 70%,#f00 74.76%,#cd1900 80%,#9b3200 85%,#684c00 90%,#326700 95%,#008000 99.59%,#058200 100%)"></i><i style="top:261px;height:3px;background:linear-gradient(90deg,#784e87 0%,#774d88 5%,#724a8d 10%,#6a4495 15%,#5e3da1 20%,#4e33b1 25%,#3c27c3 30%,#2619d9 35%,#00f 42.46%,#1000ef 45%,#3200cd 50%,#5600a9 55%,#7d0082 60%,#a70058 65%,#d4002b 70%,#f00 74.61%,#cc1a00 80%,#9a3300 85%,#664d00 90%,#316700 95%,#008000 99.48%,#068300 100%)"></i><i style="top:264px;height:3px;background:linear-gradient(90deg,#774d88 0%,#764c89 5%,#71498e 10%,#684497 15%,#5c3ca3 20%,#4d32b2 25%,#3a26c5 30%,#2518da 35%,#00f 42.21%,#10e 45%,#30c 50%,#5800a7 55%,#7f0080 60%,#a90056 65%,#d5002a 70%,#f00 74.47%,#ca1a00 80%,#930 85%,#654d00 90%,#306800 95%,#008000 99.36%,#078400 100%)"></i><i style="top:267px;height:3px;background:linear-gradient(90deg,#754c8a 0%,#744b8b 5%,#6f4890 10%,#674398 15%,#5b3ba4 20%,#4c31b3 25%,#3925c6 30%,#2317dc 35%,#00f 41.97%,#1300ec 45%,#3500ca 50%,#5900a6 55%,#80007f 60%,#a05 65%,#d70028 70%,#f00 74.32%,#c91b00 80%,#973400 85%,#644e00 90%,#2f6900 95%,#008000 99.25%,#098400 100%)"></i><i style="top:270px;height:3px;background:linear-gradient(90deg,#744b8b 0%,#734a8c 5%,#6e4791 10%,#664299 15%,#5a3aa5 20%,#4a30b5 25%,#3824c7 30%,#2216dd 35%,#00f 41.72%,#1400eb 45%,#3600c9 50%,#5a00a5 55%,#82007d 60%,#ac0053 65%,#d80027 70%,#f00 74.18%,#c81c00 80%,#963500 85%,#634f00 90%,#2d6900 95%,#008000 99.13%,#0a8500 100%)"></i><i style="top:273px;height:3px;background:linear-gradient(90deg,#724a8d 0%,#71498e 5%,#6d4692 10%,#64419b 15%,#5839a7 20%,#492fb6 25%,#3623c9 30%,#2115de 35%,#00f 41.47%,#1600e9 45%,#3700c8 50%,#5c00a3 55%,#83007c 60%,#ad0052 65%,#d90026 70%,#f00 74.03%,#c61c00 80%,#953500 85%,#614f00 90%,#2c6a00 95%,#008000 99.02%,#0b8600 100%)"></i><i style="top:276px;height:3px;background:linear-gradient(90deg,#71498e 0%,#70488f 5%,#6b4594 10%,#63409c 15%,#5738a8 20%,#482eb7 25%,#3522ca 30%,#1f14e0 35%,#00f 41.23%,#1700e8 45%,#3900c6 50%,#5d00a2 55%,#85007a 60%,#ae0051 65%,#db0024 70%,#f00 73.89%,#c51d00 80%,#933600 85%,#605000 90%,#2b6b00 95%,#008000 98.9%,#0d8600 100%)"></i><i style="top:279px;height:3px;background:linear-gradient(90deg,#6f4890 0%,#6e4791 5%,#6a4495 10%,#613f9e 15%,#5537aa 20%,#462db9 25%,#3421cb 30%,#1e13e1 35%,#00f 40.98%,#1900e6 45%,#3a00c5 50%,#5f00a0 55%,#860079 60%,#b0004f 65%,#dc0023 70%,#f00 73.74%,#c41e00 80%,#923700 85%,#5f5000 90%,#296b00 95%,#008000 98.79%,#0e8700 100%)"></i><i style="top:282px;height:3px;background:linear-gradient(90deg,#6e4791 0%,#6d4692 5%,#684397 10%,#603e9f 15%,#5436ab 20%,#452cba 25%,#3220cd 30%,#1d12e2 35%,#00f 40.72%,#1a00e5 45%,#3c00c3 50%,#60009f 55%,#870078 60%,#b1004e 65%,#de0021 70%,#f00 73.59%,#c21e00 80%,#913700 85%,#5d5100 90%,#286c00 95%,#008000 98.67%,#0f8800 100%)"></i><i style="top:285px;height:3px;background:linear-gradient(90deg,#6c4693 0%,#6b4694 5%,#674398 10%,#5e3da1 15%,#5335ac 20%,#432cbc 25%,#3120ce 30%,#1b12e4 35%,#00f 40.47%,#1c00e3 45%,#3d00c2 50%,#62009d 55%,#890076 60%,#b3004c 65%,#df0020 70%,#f00 73.45%,#c11f00 80%,#903800 85%,#5c5200 90%,#276c00 95%,#008000 98.56%,#180 100%)"></i><i style="top:288px;height:3px;background:linear-gradient(90deg,#6b4594 0%,#6a4595 5%,#65429a 10%,#5d3ca2 15%,#5135ae 20%,#422bbd 25%,#2f1fd0 30%,#1a11e5 35%,#00f 40.21%,#1d00e2 45%,#3f00c0 50%,#63009c 55%,#8a0075 60%,#b4004b 65%,#e0001f 70%,#f00 73.3%,#c02000 80%,#8e3900 85%,#5b5200 90%,#266d00 95%,#008000 98.44%,#128900 100%)"></i><i style="top:291px;height:3px;background:linear-gradient(90deg,#6a4495 0%,#694496 5%,#64419b 10%,#5c3ba3 15%,#5034af 20%,#412abe 25%,#2e1ed1 30%,#1810e7 35%,#00f 39.96%,#1f00e0 45%,#4000bf 50%,#65009a 55%,#8c0073 60%,#b60049 65%,#e2001d 70%,#f00 73.15%,#be2000 80%,#8d3900 85%,#595300 90%,#246e00 95%,#008000 98.33%,#138a00 100%)"></i><i style="top:294px;height:3px;background:linear-gradient(90deg,#684397 0%,#674398 5%,#63409c 10%,#5a3aa5 15%,#4e33b1 20%,#3f29c0 25%,#2d1dd2 30%,#170fe8 35%,#00f 39.7%,#2000df 45%,#4200bd 50%,#609 55%,#8d0072 60%,#b70048 65%,#e3001c 70%,#f00 73.01%,#bd2100 80%,#8c3a00 85%,#585400 90%,#236e00 95%,#008000 98.21%,#148a00 100%)"></i><i style="top:297px;height:3px;background:linear-gradient(90deg,#674298 0%,#664299 5%,#613f9e 10%,#5939a6 15%,#4d32b2 20%,#3e28c1 25%,#2b1cd4 30%,#160ee9 35%,#00f 39.44%,#20d 45%,#4300bc 50%,#670098 55%,#8f0070 60%,#b80047 65%,#e5001a 70%,#f00 72.86%,#bc2200 80%,#8a3b00 85%,#575400 90%,#226f00 95%,#008000 98.09%,#168b00 100%)"></i><i style="top:300px;height:3px;background:linear-gradient(90deg,#65419a 0%,#64419b 5%,#603e9f 10%,#5739a8 15%,#4c31b3 20%,#3c27c3 25%,#2a1bd5 30%,#140deb 35%,#00f 39.18%,#2300dc 45%,#4500ba 50%,#690096 55%,#90006f 60%,#ba0045 65%,#e60019 70%,#f00 72.71%,#ba2200 80%,#893b00 85%,#565500 90%,#207000 95%,#008000 97.98%,#178b00 100%)"></i><i style="top:303px;height:3px;background:linear-gradient(90deg,#64419b 0%,#63409c 5%,#5e3da1 10%,#5638a9 15%,#4a30b5 20%,#3b26c4 25%,#291ad6 30%,#130cec 35%,#00f 38.91%,#2500da 45%,#4600b9 50%,#6a0095 55%,#91006e 60%,#b04 65%,#e70018 70%,#f00 72.56%,#b92300 80%,#883c00 85%,#545600 90%,#1f7000 95%,#008000 97.86%,#188c00 100%)"></i><i style="top:306px;height:3px;background:linear-gradient(90deg,#62409d 0%,#613f9e 5%,#5d3ca2 10%,#5537aa 15%,#492fb6 20%,#3a25c5 25%,#2719d8 30%,#120bed 35%,#00f 38.65%,#2600d9 45%,#4700b8 50%,#6c0093 55%,#93006c 60%,#bd0042 65%,#f00 72.41%,#e70c00 75%,#b82400 80%,#863d00 85%,#535600 90%,#1e7100 95%,#008000 97.74%,#1a8d00 100%)"></i><i style="top:309px;height:3px;background:linear-gradient(90deg,#613f9e 0%,#603e9f 5%,#5b3ba4 10%,#5336ac 15%,#472eb8 20%,#3824c7 25%,#2618d9 30%,#100bef 35%,#00f 38.38%,#2700d8 45%,#4900b6 50%,#6d0092 55%,#94006b 60%,#be0041 65%,#f00 72.26%,#e60d00 75%,#b62400 80%,#853d00 85%,#525700 90%,#1d7200 95%,#008000 97.63%,#1b8d00 100%)"></i><i style="top:312px;height:3px;background:linear-gradient(90deg,#5f3ea0 0%,#5f3da0 5%,#5a3aa5 10%,#5235ad 15%,#462db9 20%,#3724c8 25%,#2418db 30%,#0f0af0 35%,#00f 38.11%,#2900d6 45%,#4a00b5 50%,#6f0090 55%,#960069 60%,#bf0040 65%,#f00 72.11%,#e50d00 75%,#b52500 80%,#843e00 85%,#505800 90%,#1b7200 95%,#008000 97.51%,#1c8e00 100%)"></i><i style="top:315px;height:3px;background:linear-gradient(90deg,#5e3da1 0%,#5d3ca2 5%,#5939a6 10%,#5034af 15%,#452cba 20%,#3523ca 25%,#2317dc 30%,#0e09f1 35%,#00f 37.84%,#2a00d5 45%,#4c00b3 50%,#70008f 55%,#970068 60%,#c1003e 65%,#f00 71.96%,#e30e00 75%,#b42600 80%,#823f00 85%,#4f5800 90%,#008000 97.39%,#1e8f00 100%)"></i><i style="top:318px;height:3px;background:linear-gradient(90deg,#5c3ca3 0%,#5c3ba3 5%,#5738a8 10%,#4f33b0 15%,#432bbc 20%,#3422cb 25%,#2216dd 30%,#0c08f3 35%,#00f 37.57%,#2c00d3 45%,#4d00b2 50%,#72008d 55%,#906 60%,#c2003d 65%,#f00 71.81%,#e20f00 75%,#b22600 80%,#813f00 85%,#4e5900 90%,#008000 97.28%,#1f8f00 100%)"></i><i style="top:321px;height:3px;background:linear-gradient(90deg,#5b3ba4 0%,#5a3aa5 5%,#5637a9 10%,#4e32b1 15%,#422bbd 20%,#3321cc 25%,#2015df 30%,#00f 37.29%,#0f00f0 40%,#2d00d2 45%,#4f00b0 50%,#73008c 55%,#9a0065 60%,#c4003b 65%,#f00 71.66%,#e10f00 75%,#b12700 80%,#804000 85%,#4c5a00 90%,#008000 97.16%,#209000 100%)"></i><i style="top:324px;height:3px;background:linear-gradient(90deg,#5a3aa5 0%,#5939a6 5%,#5437ab 10%,#4c31b3 15%,#402abf 20%,#3120ce 25%,#1f14e0 30%,#00f 37.01%,#10e 40%,#2f00d0 45%,#5000af 50%,#74008b 55%,#9b0064 60%,#c5003a 65%,#f00 71.51%,#df1000 75%,#b02800 80%,#7e4100 85%,#4b5a00 90%,#008000 97.04%,#229100 100%)"></i><i style="top:327px;height:3px;background:linear-gradient(90deg,#5839a7 0%,#5739a8 5%,#5336ac 10%,#4b30b4 15%,#3f29c0 20%,#301fcf 25%,#1e13e1 30%,#00f 36.73%,#1200ed 40%,#3000cf 45%,#5200ad 50%,#760089 55%,#9d0062 60%,#c60039 65%,#f00 71.36%,#de1100 75%,#af2800 80%,#7d4100 85%,#4a5b00 90%,#008000 96.92%,#239100 100%)"></i><i style="top:330px;height:3px;background:linear-gradient(90deg,#5738a8 0%,#5638a9 5%,#5135ae 10%,#492fb6 15%,#3e28c1 20%,#2f1ed0 25%,#1c12e3 30%,#00f 36.45%,#1400eb 40%,#3200cd 45%,#5300ac 50%,#708 55%,#9e0061 60%,#c80037 65%,#f00 71.21%,#d10 75%,#ad2900 80%,#7c4200 85%,#495c00 90%,#008000 96.8%,#249200 100%)"></i><i style="top:333px;height:3px;background:linear-gradient(90deg,#5537aa 0%,#5437ab 5%,#5034af 10%,#482fb7 15%,#3c27c3 20%,#2d1dd2 25%,#1b11e4 30%,#00f 36.17%,#1500ea 40%,#30c 45%,#5400ab 50%,#790086 55%,#a0005f 60%,#c90036 65%,#f00 71.06%,#db1200 75%,#ac2a00 80%,#7a4300 85%,#475c00 90%,#008000 96.69%,#269300 100%)"></i><i style="top:336px;height:3px;background:linear-gradient(90deg,#5436ab 0%,#5336ac 5%,#4f33b0 10%,#462eb9 15%,#3b26c4 20%,#2c1cd3 25%,#1a11e5 30%,#00f 35.88%,#1600e9 40%,#3500ca 45%,#5600a9 50%,#7a0085 55%,#a1005e 60%,#cb0034 65%,#f00 70.9%,#da1300 75%,#ab2a00 80%,#794300 85%,#465d00 90%,#008000 96.57%,#279300 100%)"></i><i style="top:339px;height:3px;background:linear-gradient(90deg,#5235ad 0%,#5235ad 5%,#4d32b2 10%,#452dba 15%,#3925c6 20%,#2a1bd5 25%,#1810e7 30%,#00f 35.59%,#1800e7 40%,#3600c9 45%,#5700a8 50%,#7c0083 55%,#a3005c 60%,#c03 65%,#f00 70.75%,#d91300 75%,#a92b00 80%,#784400 85%,#455e00 90%,#008000 96.45%,#289400 100%)"></i><i style="top:342px;height:3px;background:linear-gradient(90deg,#5134ae 0%,#5034af 5%,#4c31b3 10%,#442cbb 15%,#3824c7 20%,#291bd6 25%,#170fe8 30%,#00f 35.3%,#1900e6 40%,#3800c7 45%,#5900a6 50%,#7d0082 55%,#a4005b 60%,#cd0032 65%,#f00 70.6%,#d71400 75%,#a82c00 80%,#740 85%,#435e00 90%,#008000 96.33%,#2a9500 100%)"></i><i style="top:345px;height:3px;background:linear-gradient(90deg,#4f33b0 0%,#4f33b0 5%,#4a30b5 10%,#422bbd 15%,#3723c8 20%,#281ad7 25%,#150eea 30%,#00f 35.01%,#1b00e4 40%,#3900c6 45%,#5a00a5 50%,#7e0081 55%,#a5005a 60%,#cf0030 65%,#f00 70.45%,#d61500 75%,#a72c00 80%,#754500 85%,#425f00 90%,#008000 96.21%,#2b9500 100%)"></i><i style="top:348px;height:3px;background:linear-gradient(90deg,#4e32b1 0%,#4d32b2 5%,#492fb6 10%,#412abe 15%,#3522ca 20%,#2619d9 25%,#140deb 30%,#00f 34.71%,#1c00e3 40%,#3b00c4 45%,#5c00a3 50%,#80007f 55%,#a70058 60%,#d0002f 65%,#f00 70.29%,#d41500 75%,#a52d00 80%,#744600 85%,#416000 90%,#008000 96.09%,#2c9600 100%)"></i><i style="top:351px;height:3px;background:linear-gradient(90deg,#4d32b2 0%,#4c31b3 5%,#472eb8 10%,#3f29c0 15%,#3422cb 20%,#2518da 25%,#130cec 30%,#00f 34.42%,#1e00e1 40%,#3c00c3 45%,#5d00a2 50%,#81007e 55%,#a80057 60%,#d2002d 65%,#f00 70.14%,#d31600 75%,#a42e00 80%,#734600 85%,#3f6000 90%,#008000 95.97%,#2d9700 100%)"></i><i style="top:354px;height:3px;background:linear-gradient(90deg,#4b31b4 0%,#4a30b5 5%,#462db9 10%,#3e28c1 15%,#3321cc 20%,#2417db 25%,#110bee 30%,#00f 34.12%,#1f00e0 40%,#3d00c2 45%,#5f00a0 50%,#83007c 55%,#a05 60%,#d3002c 65%,#f00 69.99%,#d21700 75%,#a32e00 80%,#714700 85%,#3e6100 90%,#008000 95.86%,#2f9700 100%)"></i><i style="top:357px;height:3px;background:linear-gradient(90deg,#4a30b5 0%,#492fb6 5%,#452cba 10%,#3d27c2 15%,#3120ce 20%,#2216dd 25%,#100aef 30%,#00f 33.81%,#2100de 40%,#3f00c0 45%,#60009f 50%,#84007b 55%,#ab0054 60%,#d5002a 65%,#f00 69.83%,#d01700 75%,#a12f00 80%,#704800 85%,#3d6100 90%,#008000 95.74%,#309800 100%)"></i><i style="top:360px;height:3px;background:linear-gradient(90deg,#482fb7 0%,#482eb7 5%,#432cbc 10%,#3b26c4 15%,#301fcf 20%,#2115de 25%,#0f09f0 30%,#00f 33.5%,#20d 40%,#4000bf 45%,#62009d 50%,#860079 55%,#ac0053 60%,#d60029 65%,#f00 69.68%,#cf1800 75%,#a03000 80%,#6f4800 85%,#3c6200 90%,#008000 95.62%,#319900 100%)"></i><i style="top:363px;height:3px;background:linear-gradient(90deg,#472eb8 0%,#462db9 5%,#422bbd 10%,#3a25c5 15%,#2e1ed1 20%,#1f14e0 25%,#0d09f2 30%,#00f 33.19%,#2400db 40%,#4200bd 45%,#63009c 50%,#870078 55%,#ae0051 60%,#d70028 65%,#f00 69.52%,#ce1900 75%,#9f3000 80%,#6d4900 85%,#3a6300 90%,#008000 95.5%,#390 100%)"></i><i style="top:366px;height:3px;background:linear-gradient(90deg,#452dba 0%,#452cba 5%,#402abf 10%,#3825c7 15%,#2d1dd2 20%,#1e13e1 25%,#0c08f3 30%,#00f 32.88%,#2500da 40%,#4300bc 45%,#64009b 50%,#807 55%,#af0050 60%,#d90026 65%,#f00 69.37%,#cc1900 75%,#9d3100 80%,#6c4a00 85%,#396300 90%,#008000 95.38%,#349a00 100%)"></i><i style="top:369px;height:3px;background:linear-gradient(90deg,#442cbb 0%,#432cbc 5%,#3f29c0 10%,#3724c8 15%,#2c1cd3 20%,#1d13e2 25%,#0b07f4 30%,#00f 32.57%,#2700d8 40%,#4500ba 45%,#609 50%,#8a0075 55%,#b1004e 60%,#da0025 65%,#f00 69.21%,#cb1a00 75%,#9c3200 80%,#6b4a00 85%,#386400 90%,#008000 95.26%,#359b00 100%)"></i><i style="top:372px;height:3px;background:linear-gradient(90deg,#422bbd 0%,#422bbd 5%,#3e28c1 10%,#3623c9 15%,#2a1bd5 20%,#1b12e4 25%,#00f 32.25%,#0d00f2 35%,#2800d7 40%,#4600b9 45%,#670098 50%,#8b0074 55%,#b2004d 60%,#dc0023 65%,#f00 69.05%,#ca1b00 75%,#9b3200 80%,#694b00 85%,#366500 90%,#008000 95.14%,#379b00 100%)"></i><i style="top:375px;height:3px;background:linear-gradient(90deg,#412abe 0%,#402abf 5%,#3c27c3 10%,#3422cb 15%,#291ad6 20%,#1a11e5 25%,#00f 31.93%,#0f00f0 35%,#2a00d5 40%,#4800b7 45%,#690096 50%,#8d0072 55%,#b4004b 60%,#d02 65%,#f00 68.9%,#c81b00 75%,#930 80%,#684c00 85%,#356500 90%,#008000 95.02%,#389c00 100%)"></i><i style="top:378px;height:3px;background:linear-gradient(90deg,#4029bf 0%,#3f29c0 5%,#3b26c4 10%,#3321cc 15%,#271ad8 20%,#1910e6 25%,#00f 31.6%,#1000ef 35%,#2b00d4 40%,#4900b6 45%,#6a0095 50%,#8e0071 55%,#b5004a 60%,#de0021 65%,#f00 68.74%,#c71c00 75%,#983400 80%,#674c00 85%,#346600 90%,#008000 94.89%,#399d00 100%)"></i><i style="top:381px;height:3px;background:linear-gradient(90deg,#3e28c1 0%,#3e28c1 5%,#3925c6 10%,#3120ce 15%,#2619d9 20%,#170fe8 25%,#00f 31.27%,#1200ed 35%,#2d00d2 40%,#4b00b4 45%,#6c0093 50%,#90006f 55%,#b60049 60%,#e0001f 65%,#f00 68.58%,#c61d00 75%,#973400 80%,#654d00 85%,#326700 90%,#008000 94.77%,#3b9d00 100%)"></i><i style="top:384px;height:3px;background:linear-gradient(90deg,#3d27c2 0%,#3c27c3 5%,#3824c7 10%,#301fcf 15%,#2518da 20%,#160ee9 25%,#00f 30.94%,#1300ec 35%,#2e00d1 40%,#4c00b3 45%,#6d0092 50%,#91006e 55%,#b80047 60%,#e1001e 65%,#f00 68.43%,#c41d00 75%,#953500 80%,#644e00 85%,#316700 90%,#008000 94.65%,#3c9e00 100%)"></i><i style="top:387px;height:3px;background:linear-gradient(90deg,#3b26c4 0%,#3b26c4 5%,#3723c8 10%,#2f1ed0 15%,#2317dc 20%,#140deb 25%,#00f 30.6%,#1500ea 35%,#3000cf 40%,#4e00b1 45%,#6f0090 50%,#93006c 55%,#b90046 60%,#e3001c 65%,#f00 68.27%,#c31e00 75%,#943600 80%,#634e00 85%,#306800 90%,#008000 94.53%,#3d9f00 100%)"></i><i style="top:390px;height:3px;background:linear-gradient(90deg,#3a25c5 0%,#3925c6 5%,#3522ca 10%,#2d1dd2 15%,#2216dd 20%,#130cec 25%,#00f 30.26%,#1600e9 35%,#3100ce 40%,#4f00b0 45%,#70008f 50%,#94006b 55%,#b04 60%,#e4001b 65%,#f00 68.11%,#c21f00 75%,#933600 80%,#614f00 85%,#2e6900 90%,#008000 94.41%,#3f9f00 100%)"></i><i style="top:393px;height:3px;background:linear-gradient(90deg,#3824c7 0%,#3824c7 5%,#3421cb 10%,#2c1cd3 15%,#2015df 20%,#120bed 25%,#00f 29.92%,#1800e7 35%,#30c 40%,#5000af 45%,#71008e 50%,#95006a 55%,#bc0043 60%,#e5001a 65%,#f00 67.95%,#c01f00 75%,#913700 80%,#605000 85%,#2d6900 90%,#008000 94.29%,#40a000 100%)"></i><i style="top:396px;height:3px;background:linear-gradient(90deg,#3724c8 0%,#3723c8 5%,#3221cd 10%,#2a1bd5 15%,#1f14e0 20%,#100bef 25%,#00f 29.57%,#1900e6 35%,#3400cb 40%,#5200ad 45%,#73008c 50%,#970068 55%,#be0041 60%,#e70018 65%,#f00 67.79%,#bf2000 75%,#903800 80%,#5f5000 85%,#2c6a00 90%,#008000 94.17%,#41a100 100%)"></i><i style="top:399px;height:3px;background:linear-gradient(90deg,#3623c9 0%,#3522ca 5%,#3120ce 10%,#291bd6 15%,#1e13e1 20%,#0f0af0 25%,#00f 29.21%,#1b00e4 35%,#3500ca 40%,#5300ac 45%,#74008b 50%,#980067 55%,#bf0040 60%,#e80017 65%,#f00 67.63%,#be2100 75%,#8f3800 80%,#5d5100 85%,#2b6b00 90%,#008000 94.05%,#43a100 100%)"></i><i style="top:402px;height:3px;background:linear-gradient(90deg,#3422cb 0%,#3421cb 5%,#301fcf 10%,#281ad7 15%,#1c12e3 20%,#0e09f1 25%,#00f 28.86%,#1c00e3 35%,#3700c8 40%,#50a 45%,#760089 50%,#9a0065 55%,#c0003f 60%,#f00 67.47%,#e90b00 70%,#bc2100 75%,#8d3900 80%,#5c5200 85%,#296b00 90%,#008000 93.92%,#44a200 100%)"></i><i style="top:405px;height:3px;background:linear-gradient(90deg,#3321cc 0%,#3221cd 5%,#2e1ed1 10%,#2619d9 15%,#1b11e4 20%,#0c08f3 25%,#00f 28.49%,#1e00e1 35%,#3800c7 40%,#5600a9 45%,#708 50%,#9b0064 55%,#c2003d 60%,#f00 67.31%,#e80c00 70%,#b20 75%,#8c3a00 80%,#5b5200 85%,#286c00 90%,#008000 93.8%,#45a300 100%)"></i><i style="top:408px;height:3px;background:linear-gradient(90deg,#3120ce 0%,#3120ce 5%,#2d1dd2 10%,#2518da 15%,#1a11e5 20%,#0b07f4 25%,#00f 28.13%,#1f00e0 35%,#3a00c5 40%,#5800a7 45%,#790086 50%,#9d0062 55%,#c3003c 60%,#f00 67.15%,#e60c00 70%,#ba2300 75%,#8b3a00 80%,#5a5300 85%,#276d00 90%,#008000 93.68%,#47a300 100%)"></i><i style="top:411px;height:3px;background:linear-gradient(90deg,#301fcf 0%,#2f1fd0 5%,#2b1cd4 10%,#2417db 15%,#1810e7 20%,#0a06f5 25%,#00f 27.75%,#2100de 35%,#3b00c4 40%,#5900a6 45%,#7a0085 50%,#9e0061 55%,#c5003a 60%,#f00 66.99%,#e50d00 70%,#b82400 75%,#893b00 80%,#585400 85%,#256d00 90%,#008000 93.56%,#48a400 100%)"></i><i style="top:414px;height:3px;background:linear-gradient(90deg,#2e1ed1 0%,#2e1ed1 5%,#2a1bd5 10%,#2216dd 15%,#170fe8 20%,#00f 27.38%,#0b00f4 30%,#20d 35%,#3d00c2 40%,#5b00a4 45%,#7c0083 50%,#9f0060 55%,#c60039 60%,#f00 66.83%,#e40e00 70%,#b72400 75%,#883c00 80%,#575400 85%,#246e00 90%,#008000 93.43%,#49a500 100%)"></i><i style="top:417px;height:3px;background:linear-gradient(90deg,#2d1dd2 0%,#2d1dd2 5%,#281ad7 10%,#2115de 15%,#150eea 20%,#00f 26.99%,#0c00f3 30%,#2400db 35%,#3e00c1 40%,#5c00a3 45%,#7d0082 50%,#a1005e 55%,#c70038 60%,#f00 66.67%,#e20e00 70%,#b62500 75%,#873c00 80%,#565500 85%,#236f00 90%,#008000 93.31%,#4ba500 100%)"></i><i style="top:420px;height:3px;background:linear-gradient(90deg,#2c1cd3 0%,#2b1cd4 5%,#2719d8 10%,#1f14e0 15%,#140deb 20%,#00f 26.6%,#0e00f1 30%,#2500da 35%,#4000bf 40%,#5e00a1 45%,#7e0081 50%,#a2005d 55%,#c90036 60%,#f00 66.5%,#e10f00 70%,#b42600 75%,#853d00 80%,#545600 85%,#216f00 90%,#008000 93.19%,#4ca600 100%)"></i><i style="top:423px;height:3px;background:linear-gradient(90deg,#2a1bd5 0%,#2a1bd5 5%,#2618d9 10%,#1e13e1 15%,#130cec 20%,#00f 26.21%,#0f00f0 30%,#2700d8 35%,#4100be 40%,#5f00a0 45%,#80007f 50%,#a4005b 55%,#ca0035 60%,#f00 66.34%,#e01000 70%,#b32600 75%,#843e00 80%,#535600 85%,#207000 90%,#008000 93.06%,#4da600 100%)"></i><i style="top:426px;height:3px;background:linear-gradient(90deg,#291ad6 0%,#281ad7 5%,#2417db 10%,#1d12e2 15%,#110bee 20%,#00f 25.8%,#10e 30%,#2800d7 35%,#4300bc 40%,#61009e 45%,#81007e 50%,#a5005a 55%,#c03 60%,#f00 66.18%,#de1000 70%,#b22700 75%,#833e00 80%,#525700 85%,#1f7100 90%,#008000 92.94%,#4fa700 100%)"></i><i style="top:429px;height:3px;background:linear-gradient(90deg,#2719d8 0%,#2719d8 5%,#2317dc 10%,#1b12e4 15%,#100aef 20%,#00f 25.4%,#1200ed 30%,#2a00d5 35%,#40b 40%,#62009d 45%,#83007c 50%,#a70058 55%,#cd0032 60%,#f00 66.02%,#d10 70%,#b02800 75%,#813f00 80%,#505800 85%,#1d7100 90%,#008000 92.82%,#50a800 100%)"></i><i style="top:432px;height:3px;background:linear-gradient(90deg,#2618d9 0%,#2618d9 5%,#2116de 10%,#1a11e5 15%,#0f09f0 20%,#00f 24.98%,#1400eb 30%,#2b00d4 35%,#4600b9 40%,#63009c 45%,#84007b 50%,#a80057 55%,#cf0030 60%,#f00 65.85%,#dc1200 70%,#af2800 75%,#804000 80%,#4f5800 85%,#1c7200 90%,#008000 92.69%,#51a800 100%)"></i><i style="top:435px;height:3px;background:linear-gradient(90deg,#2418db 0%,#2417db 5%,#2015df 10%,#1810e7 15%,#0d09f2 20%,#00f 24.56%,#1500ea 30%,#2d00d2 35%,#4700b8 40%,#65009a 45%,#860079 50%,#a90056 55%,#d0002f 60%,#f00 65.69%,#da1200 70%,#ad2900 75%,#7f4000 80%,#4e5900 85%,#1b7300 90%,#008000 92.57%,#53a900 100%)"></i><i style="top:438px;height:3px;background:linear-gradient(90deg,#2317dc 0%,#2316dc 5%,#1f14e0 10%,#170fe8 15%,#0c08f3 20%,#00f 24.12%,#1700e8 30%,#2e00d1 35%,#4900b6 40%,#609 45%,#870078 50%,#ab0054 55%,#d1002e 60%,#f00 65.52%,#d91300 70%,#ac2a00 75%,#7d4100 80%,#4c5a00 85%,#008000 92.45%,#1c8e00 95%,#54aa00 100%)"></i><i style="top:441px;height:3px;background:linear-gradient(90deg,#2216dd 0%,#2116de 5%,#1d13e2 10%,#160ee9 15%,#0a07f5 20%,#00f 23.68%,#1800e7 30%,#3000cf 35%,#4a00b5 40%,#680097 45%,#890076 50%,#ac0053 55%,#d3002c 60%,#f00 65.36%,#d81400 70%,#ab2a00 75%,#7c4200 80%,#4b5a00 85%,#008000 92.32%,#1d8f00 95%,#5a0 100%)"></i><i style="top:444px;height:3px;background:linear-gradient(90deg,#2015df 0%,#2015df 5%,#1c12e3 10%,#140deb 15%,#0906f6 20%,#00f 23.24%,#1a00e5 30%,#3100ce 35%,#4c00b3 40%,#690096 45%,#8a0075 50%,#ae0051 55%,#d4002b 60%,#f00 65.19%,#d61400 70%,#a92b00 75%,#7b4200 80%,#4a5b00 85%,#008000 92.2%,#1f8f00 95%,#57ab00 100%)"></i><i style="top:447px;height:3px;background:linear-gradient(90deg,#1f14e0 0%,#1e14e1 5%,#1a11e5 10%,#130cec 15%,#0805f7 20%,#00f 22.78%,#1b00e4 30%,#3200cd 35%,#4d00b2 40%,#6b0094 45%,#8b0074 50%,#af0050 55%,#d60029 60%,#f00 65.03%,#d51500 70%,#a82c00 75%,#794300 80%,#485c00 85%,#008000 92.07%,#209000 95%,#58ac00 100%)"></i><i style="top:450px;height:3px;background:linear-gradient(90deg,#1d13e2 0%,#1d13e2 5%,#1910e6 10%,#110bee 15%,#00f 22.31%,#0900f6 25%,#1d00e2 30%,#3400cb 35%,#4e00b1 40%,#6c0093 45%,#8d0072 50%,#b1004e 55%,#d70028 60%,#f00 64.86%,#d31600 70%,#a72c00 75%,#784400 80%,#475c00 85%,#008000 91.95%,#219100 95%,#59ac00 100%)"></i><i style="top:453px;height:3px;background:linear-gradient(90deg,#1c12e3 0%,#1c12e3 5%,#180fe7 10%,#100aef 15%,#00f 21.83%,#0b00f4 25%,#1e00e1 30%,#3500ca 35%,#5000af 40%,#6e0091 45%,#8e0071 50%,#b2004d 55%,#d90026 60%,#f00 64.69%,#d21700 70%,#a52d00 75%,#740 80%,#465d00 85%,#008000 91.82%,#239100 95%,#5bad00 100%)"></i><i style="top:456px;height:3px;background:linear-gradient(90deg,#1a11e5 0%,#1a11e5 5%,#160ee9 10%,#0f09f0 15%,#00f 21.33%,#0c00f3 25%,#2000df 30%,#3700c8 35%,#5100ae 40%,#6f0090 45%,#90006f 50%,#b3004c 55%,#da0025 60%,#f00 64.53%,#d11700 70%,#a42e00 75%,#754500 80%,#445e00 85%,#008000 91.7%,#249200 95%,#5cae00 100%)"></i><i style="top:459px;height:3px;background:linear-gradient(90deg,#1910e6 0%,#1910e6 5%,#150eea 10%,#0d09f2 15%,#00f 20.83%,#0e00f1 25%,#2100de 30%,#3800c7 35%,#5300ac 40%,#71008e 45%,#91006e 50%,#b5004a 55%,#db0024 60%,#f00 64.36%,#cf1800 70%,#a32e00 75%,#744600 80%,#435e00 85%,#008000 91.57%,#259300 95%,#5dae00 100%)"></i><i style="top:462px;height:3px;background:linear-gradient(90deg,#180fe7 0%,#170fe8 5%,#130dec 10%,#0c08f3 15%,#00f 20.31%,#0f00f0 25%,#2300dc 30%,#3a00c5 35%,#5400ab 40%,#72008d 45%,#93006c 50%,#b60049 55%,#d02 60%,#f00 64.19%,#ce1900 70%,#a12f00 75%,#734600 80%,#425f00 85%,#008000 91.44%,#279300 95%,#5faf00 100%)"></i><i style="top:465px;height:3px;background:linear-gradient(90deg,#160ee9 0%,#160ee9 5%,#120ced 10%,#0b07f4 15%,#00f 19.78%,#10e 25%,#2400db 30%,#3b00c4 35%,#5600a9 40%,#73008c 45%,#94006b 50%,#b80047 55%,#de0021 60%,#f00 64.02%,#cd1900 70%,#a03000 75%,#714700 80%,#406000 85%,#008000 91.32%,#289400 95%,#60b000 100%)"></i><i style="top:468px;height:3px;background:linear-gradient(90deg,#150dea 0%,#150dea 5%,#110bee 10%,#0906f6 15%,#00f 19.23%,#1200ed 25%,#2600d9 30%,#3d00c2 35%,#5700a8 40%,#75008a 45%,#960069 50%,#b90046 55%,#e0001f 60%,#f00 63.85%,#cb1a00 70%,#9f3000 75%,#704800 80%,#3f6000 85%,#008000 91.19%,#299500 95%,#61b000 100%)"></i><i style="top:471px;height:3px;background:linear-gradient(90deg,#130dec 0%,#130cec 5%,#0f0af0 10%,#0805f7 15%,#00f 18.66%,#1400eb 25%,#2700d8 30%,#3e00c1 35%,#5900a6 40%,#760089 45%,#970068 50%,#b04 55%,#e1001e 60%,#f00 63.68%,#ca1b00 70%,#9d3100 75%,#6f4900 80%,#3e6100 85%,#008000 91.07%,#2b9500 95%,#63b100 100%)"></i><i style="top:474px;height:3px;background:linear-gradient(90deg,#120ced 0%,#120ced 5%,#0e09f1 10%,#0604f9 15%,#00f 18.07%,#1500ea 25%,#2900d6 30%,#4000bf 35%,#5a00a5 40%,#780087 45%,#980067 50%,#bc0043 55%,#e2001d 60%,#f00 63.51%,#c91b00 70%,#9c3200 75%,#6d4900 80%,#3c6200 85%,#008000 90.94%,#2c9600 95%,#64b200 100%)"></i><i style="top:477px;height:3px;background:linear-gradient(90deg,#100bef 0%,#100bef 5%,#0d08f2 10%,#00f 17.45%,#0700f8 20%,#1700e8 25%,#2a00d5 30%,#4100be 35%,#5c00a3 40%,#790086 45%,#9a0065 50%,#be0041 55%,#e4001b 60%,#f00 63.34%,#c71c00 70%,#9b3200 75%,#6c4a00 80%,#3b6200 85%,#008000 90.81%,#2d9700 95%,#65b200 100%)"></i><i style="top:480px;height:3px;background:linear-gradient(90deg,#0f0af0 0%,#0f0af0 5%,#0b07f4 10%,#00f 16.82%,#0800f7 20%,#1800e7 25%,#2c00d3 30%,#4300bc 35%,#5d00a2 40%,#7b0084 45%,#9b0064 50%,#bf0040 55%,#e5001a 60%,#f00 63.17%,#c61d00 70%,#930 75%,#6b4b00 80%,#3a6300 85%,#008000 90.69%,#2f9700 95%,#67b300 100%)"></i><i style="top:483px;height:3px;background:linear-gradient(90deg,#0e09f1 0%,#0e09f1 5%,#0a06f5 10%,#00f 16.15%,#0a00f5 20%,#1a00e5 25%,#2d00d2 30%,#40b 35%,#5f00a0 40%,#7c0083 45%,#9d0062 50%,#c0003f 55%,#e70018 60%,#f00 63%,#c51d00 70%,#983400 75%,#694b00 80%,#386400 85%,#008000 90.56%,#309800 95%,#68b400 100%)"></i><i style="top:486px;height:3px;background:linear-gradient(90deg,#0c08f3 0%,#0c08f3 5%,#0805f7 10%,#00f 15.45%,#0b00f4 20%,#1b00e4 25%,#2f00d0 30%,#4600b9 35%,#60009f 40%,#7e0081 45%,#9e0061 50%,#c2003d 55%,#e80017 60%,#f00 62.83%,#c31e00 70%,#973400 75%,#684c00 80%,#376400 85%,#008000 90.43%,#329900 95%,#69b400 100%)"></i><i style="top:489px;height:3px;background:linear-gradient(90deg,#0b07f4 0%,#0b07f4 5%,#0704f8 10%,#00f 14.71%,#0d00f2 20%,#1d00e2 25%,#3000cf 30%,#4700b8 35%,#62009d 40%,#7f0080 45%,#a0005f 50%,#c3003c 55%,#ea0015 60%,#f00 62.66%,#c21f00 70%,#953500 75%,#674d00 80%,#366500 85%,#008000 90.3%,#390 95%,#6bb500 100%)"></i><i style="top:492px;height:3px;background:linear-gradient(90deg,#0906f6 0%,#0906f6 5%,#0604f9 10%,#00f 13.92%,#0e00f1 20%,#1e00e1 25%,#3200cd 30%,#4900b6 35%,#63009c 40%,#81007e 45%,#a1005e 50%,#c5003a 55%,#f00 62.48%,#eb0a00 65%,#c01f00 70%,#943600 75%,#654d00 80%,#346600 85%,#008000 90.18%,#349a00 95%,#6cb600 100%)"></i><i style="top:495px;height:3px;background:linear-gradient(90deg,#0805f7 0%,#0805f7 5%,#0403fb 10%,#00f 13.08%,#1000ef 20%,#2000df 25%,#30c 30%,#4a00b5 35%,#64009b 40%,#82007d 45%,#a3005c 50%,#c60039 55%,#f00 62.31%,#e90b00 65%,#bf2000 70%,#933600 75%,#644e00 80%,#360 85%,#008000 90.05%,#369b00 95%,#6db600 100%)"></i><i style="top:498px;height:3px;background:linear-gradient(90deg,#0704f8 0%,#0704f8 5%,#00f 12.16%,#0500fa 15%,#10e 20%,#2100de 25%,#3500ca 30%,#4c00b3 35%,#609 40%,#83007c 45%,#a4005b 50%,#c80037 55%,#f00 62.14%,#e80c00 65%,#be2100 70%,#913700 75%,#624f00 80%,#326700 85%,#008000 89.92%,#379b00 95%,#6fb700 100%)"></i><i style="top:501px;height:3px;background:linear-gradient(90deg,#0503fa 0%,#0503fa 5%,#00f 11.14%,#0700f8 15%,#1300ec 20%,#2300dc 25%,#3600c9 30%,#4d00b2 35%,#670098 40%,#85007a 45%,#a5005a 50%,#c90036 55%,#f00 61.96%,#e70c00 65%,#bc2100 70%,#903800 75%,#614f00 80%,#306800 85%,#008000 89.79%,#389c00 95%,#70b800 100%)"></i><i style="top:504px;height:3px;background:linear-gradient(90deg,#0402fb 0%,#0402fb 5%,#00f 9.994%,#0800f7 15%,#1400eb 20%,#2400db 25%,#3800c7 30%,#4f00b0 35%,#690096 40%,#860079 45%,#a70058 50%,#ca0035 55%,#f00 61.79%,#e50d00 65%,#b20 70%,#8e3800 75%,#605000 80%,#2f6800 85%,#008000 89.66%,#3a9d00 95%,#71b800 100%)"></i><i style="top:507px;height:3px;background:linear-gradient(90deg,#0202fd 0%,#0202fd 5%,#00f 8.635%,#0a00f5 15%,#1600e9 20%,#2600d9 25%,#3900c6 30%,#5000af 35%,#6a0095 40%,#807 45%,#a80057 50%,#c03 55%,#f00 61.61%,#e40e00 65%,#ba2300 70%,#8d3900 75%,#5e5100 80%,#2e6900 85%,#008000 89.54%,#3b9d00 95%,#73b900 100%)"></i><i style="top:510px;height:3px;background:linear-gradient(90deg,#0101fe 0%,#00f 6.871%,#0300fc 10%,#0b00f4 15%,#1700e8 20%,#2700d8 25%,#3b00c4 30%,#5200ad 35%,#6c0093 40%,#890076 45%,#a05 50%,#cd0032 55%,#f00 61.44%,#e20e00 65%,#b82400 70%,#8c3a00 75%,#5d5100 80%,#2c6a00 85%,#008000 89.41%,#3c9e00 95%,#74ba00 100%)"></i><i style="top:513px;height:3px;background:linear-gradient(90deg,#0100fe 0%,#00f 1.872%,#00f 3.199%,#0500fa 10%,#0d00f2 15%,#1900e6 20%,#2900d6 25%,#3c00c3 30%,#5300ac 35%,#6d0092 40%,#8b0074 45%,#ab0054 50%,#cf0030 55%,#f00 61.26%,#e10f00 65%,#b72400 70%,#8a3b00 75%,#5c5200 80%,#2b6a00 85%,#008000 89.28%,#3e9f00 95%,#75ba00 100%)"></i><i style="top:516px;height:3px;background:linear-gradient(90deg,#0200fd 0%,#0200fd 5%,#0600f9 10%,#0e00f1 15%,#1a00e5 20%,#2a00d5 25%,#3e00c1 30%,#50a 35%,#6f0090 40%,#8c0073 45%,#ad0052 50%,#d0002f 55%,#f00 61.09%,#e01000 65%,#b62500 70%,#893b00 75%,#5a5300 80%,#2a6b00 85%,#008000 89.15%,#3f9f00 95%,#7b0 100%)"></i><i style="top:519px;height:3px;background:linear-gradient(90deg,#0400fb 0%,#0400fb 5%,#0800f7 10%,#1000ef 15%,#1c00e3 20%,#2c00d3 25%,#3f00c0 30%,#5600a9 35%,#70008f 40%,#8e0071 45%,#ae0051 50%,#d2002d 55%,#f00 60.91%,#de1000 65%,#b42600 70%,#883c00 75%,#595300 80%,#286c00 85%,#008000 89.02%,#40a000 95%,#78bc00 100%)"></i><i style="top:522px;height:3px;background:linear-gradient(90deg,#0500fa 0%,#0500fa 5%,#0900f6 10%,#10e 15%,#1d00e2 20%,#2d00d2 25%,#4100be 30%,#5700a8 35%,#72008d 40%,#8f0070 45%,#b0004f 50%,#d3002c 55%,#f00 60.73%,#d10 65%,#b32600 70%,#863d00 75%,#585400 80%,#276c00 85%,#008000 88.89%,#42a100 95%,#79bc00 100%)"></i><i style="top:525px;height:3px;background:linear-gradient(90deg,#0700f8 0%,#0700f8 5%,#0b00f4 10%,#1300ec 15%,#1f00e0 20%,#2f00d0 25%,#4200bd 30%,#5900a6 35%,#73008c 40%,#91006e 45%,#b1004e 50%,#d4002b 55%,#f00 60.55%,#dc1200 65%,#b12700 70%,#853d00 75%,#565500 80%,#266d00 85%,#008000 88.76%,#43a100 95%,#7bbd00 100%)"></i><i style="top:528px;height:3px;background:linear-gradient(90deg,#0800f7 0%,#0800f7 5%,#0c00f3 10%,#1400eb 15%,#2000df 20%,#3000cf 25%,#40b 30%,#5a00a5 35%,#75008a 40%,#92006d 45%,#b2004d 50%,#d60029 55%,#f00 60.37%,#da1200 65%,#b02800 70%,#843e00 75%,#550 80%,#246e00 85%,#008000 88.63%,#44a200 95%,#7cbe00 100%)"></i><i style="top:531px;height:3px;background:linear-gradient(90deg,#0a00f5 0%,#0a00f5 5%,#0e00f1 10%,#1600e9 15%,#20d 20%,#3200cd 25%,#4500ba 30%,#5c00a3 35%,#760089 40%,#93006c 45%,#b4004b 50%,#d70028 55%,#f00 60.19%,#d91300 65%,#af2800 70%,#823f00 75%,#545600 80%,#236e00 85%,#008000 88.5%,#46a300 95%,#7dbf00 100%)"></i><i style="top:534px;height:3px;background:linear-gradient(90deg,#0b00f4 0%,#0b00f4 5%,#0f00f0 10%,#1700e8 15%,#2300dc 20%,#30c 25%,#4700b8 30%,#5d00a2 35%,#780087 40%,#95006a 45%,#b5004a 50%,#d90026 55%,#f00 60.01%,#d71400 65%,#ad2900 70%,#813f00 75%,#525700 80%,#226f00 85%,#008000 88.37%,#47a300 95%,#7fbf00 100%)"></i><i style="top:537px;height:3px;background:linear-gradient(90deg,#0d00f2 0%,#0d00f2 5%,#10e 10%,#1900e6 15%,#2500da 20%,#3500ca 25%,#4800b7 30%,#5f00a0 35%,#790086 40%,#960069 45%,#b70048 50%,#da0025 55%,#f00 59.83%,#d61500 65%,#ac2a00 70%,#804000 75%,#515700 80%,#207000 85%,#008000 88.24%,#49a400 95%,#80c000 100%)"></i><i style="top:540px;height:3px;background:linear-gradient(90deg,#0f00f0 0%,#0e00f1 5%,#1200ed 10%,#1a00e5 15%,#2600d9 20%,#3600c9 25%,#4a00b5 30%,#60009f 35%,#7a0085 40%,#980067 45%,#b80047 50%,#dc0023 55%,#f00 59.65%,#d51500 65%,#ab2a00 70%,#7e4100 75%,#505800 80%,#1f7000 85%,#008000 88.11%,#4aa500 95%,#82c100 100%)"></i><i style="top:543px;height:3px;background:linear-gradient(90deg,#1000ef 0%,#1000ef 5%,#1400eb 10%,#1c00e3 15%,#2800d7 20%,#3800c7 25%,#4b00b4 30%,#62009d 35%,#7c0083 40%,#906 45%,#ba0045 50%,#d02 55%,#f00 59.47%,#d31600 65%,#a92b00 70%,#7d4100 75%,#4e5900 80%,#1e7100 85%,#008000 87.97%,#4ba500 95%,#83c100 100%)"></i><i style="top:546px;height:3px;background:linear-gradient(90deg,#1200ed 0%,#10e 5%,#1500ea 10%,#1e00e1 15%,#2900d6 20%,#3900c6 25%,#4c00b3 30%,#63009c 35%,#7d0082 40%,#9b0064 45%,#b04 50%,#de0021 55%,#f00 59.29%,#d21700 65%,#a82c00 70%,#7c4200 75%,#4d5900 80%,#1c7200 85%,#008000 87.84%,#4da600 95%,#84c200 100%)"></i><i style="top:549px;height:3px;background:linear-gradient(90deg,#1300ec 0%,#1300ec 5%,#1700e8 10%,#1f00e0 15%,#2b00d4 20%,#3b00c4 25%,#4e00b1 30%,#65009a 35%,#7f0080 40%,#9c0063 45%,#bd0042 50%,#e0001f 55%,#f00 59.11%,#d11700 65%,#a72c00 70%,#7a4300 75%,#4c5a00 80%,#1b7200 85%,#008000 87.71%,#4ea700 95%,#86c300 100%)"></i><i style="top:552px;height:3px;background:linear-gradient(90deg,#1500ea 0%,#1500ea 5%,#1900e6 10%,#2100de 15%,#2c00d3 20%,#3c00c3 25%,#4f00b0 30%,#609 35%,#80007f 40%,#9e0061 45%,#be0041 50%,#e1001e 55%,#f00 58.92%,#cf1800 65%,#a52d00 70%,#794300 75%,#4a5b00 80%,#1a7300 85%,#008000 87.58%,#4fa800 95%,#87c300 100%)"></i><i style="top:555px;height:3px;background:linear-gradient(90deg,#1600e9 0%,#1600e9 5%,#1a00e5 10%,#20d 15%,#2e00d1 20%,#3e00c1 25%,#5100ae 30%,#680097 35%,#82007d 40%,#9f0060 45%,#bf0040 50%,#e3001c 55%,#f00 58.74%,#ce1900 65%,#a42e00 70%,#740 75%,#495b00 80%,#008000 87.45%,#1b8d00 90%,#51a800 95%,#88c400 100%)"></i><i style="top:558px;height:3px;background:linear-gradient(90deg,#1800e7 0%,#1800e7 5%,#1c00e3 10%,#2400db 15%,#2f00d0 20%,#3f00c0 25%,#5200ad 30%,#690096 35%,#83007c 40%,#a1005e 45%,#c1003e 50%,#e4001b 55%,#f00 58.55%,#cc1900 65%,#a22e00 70%,#764500 75%,#485c00 80%,#008000 87.31%,#1c8e00 90%,#52a900 95%,#8ac500 100%)"></i><i style="top:561px;height:3px;background:linear-gradient(90deg,#1900e6 0%,#1900e6 5%,#1d00e2 10%,#2500da 15%,#3100ce 20%,#4100be 25%,#5400ab 30%,#6b0094 35%,#85007a 40%,#a2005d 45%,#c2003d 50%,#e60019 55%,#f00 58.37%,#cb1a00 65%,#a12f00 70%,#754500 75%,#465d00 80%,#008000 87.18%,#1e8f00 90%,#53aa00 95%,#8bc500 100%)"></i><i style="top:564px;height:3px;background:linear-gradient(90deg,#1b00e4 0%,#1b00e4 5%,#1f00e0 10%,#2700d8 15%,#3200cd 20%,#4200bd 25%,#50a 30%,#6c0093 35%,#860079 40%,#a3005c 45%,#c4003b 50%,#e70018 55%,#f00 58.18%,#ca1b00 65%,#a03000 70%,#734600 75%,#455d00 80%,#008000 87.05%,#1f8f00 90%,#5a0 95%,#8cc600 100%)"></i><i style="top:567px;height:3px;background:linear-gradient(90deg,#1c00e3 0%,#1c00e3 5%,#2000df 10%,#2800d7 15%,#3400cb 20%,#40b 25%,#5700a8 30%,#6e0091 35%,#807 40%,#a5005a 45%,#c5003a 50%,#e90016 55%,#f00 58%,#c81b00 65%,#9e3100 70%,#724700 75%,#445e00 80%,#008000 86.92%,#209000 90%,#56ab00 95%,#8ec700 100%)"></i><i style="top:570px;height:3px;background:linear-gradient(90deg,#1e00e1 0%,#1e00e1 5%,#20d 10%,#2a00d5 15%,#3600c9 20%,#4500ba 25%,#5800a7 30%,#6f0090 35%,#890076 40%,#a60059 45%,#c70038 50%,#ea0015 55%,#f00 57.81%,#c71c00 65%,#9d3100 70%,#714700 75%,#425f00 80%,#008000 86.78%,#229100 90%,#58ac00 95%,#8fc700 100%)"></i><i style="top:573px;height:3px;background:linear-gradient(90deg,#2000df 0%,#1f00e0 5%,#2300dc 10%,#2b00d4 15%,#3700c8 20%,#4700b8 25%,#5a00a5 30%,#71008e 35%,#8b0074 40%,#a80057 45%,#c80037 50%,#eb0014 55%,#f00 57.62%,#c61d00 65%,#9c3200 70%,#6f4800 75%,#415f00 80%,#008000 86.65%,#239100 90%,#59ac00 95%,#90c800 100%)"></i><i style="top:576px;height:3px;background:linear-gradient(90deg,#2100de 0%,#2100de 5%,#2500da 10%,#2d00d2 15%,#3900c6 20%,#4800b7 25%,#5b00a4 30%,#72008d 35%,#8c0073 40%,#a90056 45%,#ca0035 50%,#f00 57.44%,#ec0a00 60%,#c41e00 65%,#9a3300 70%,#6e4900 75%,#406000 80%,#008000 86.52%,#249200 90%,#5aad00 95%,#92c900 100%)"></i><i style="top:579px;height:3px;background:linear-gradient(90deg,#2300dc 0%,#20d 5%,#2600d9 10%,#2e00d1 15%,#3a00c5 20%,#4a00b5 25%,#5d00a2 30%,#74008b 35%,#8e0071 40%,#ab0054 45%,#cb0034 50%,#f00 57.25%,#ea0a00 60%,#c31e00 65%,#930 70%,#6d4900 75%,#3e6100 80%,#008000 86.38%,#269300 90%,#5cae00 95%,#93c900 100%)"></i><i style="top:582px;height:3px;background:linear-gradient(90deg,#2400db 0%,#2400db 5%,#2800d7 10%,#3000cf 15%,#3c00c3 20%,#4b00b4 25%,#5e00a1 30%,#75008a 35%,#8f0070 40%,#ac0053 45%,#c03 50%,#f00 57.06%,#e90b00 60%,#c11f00 65%,#973400 70%,#6b4a00 75%,#3d6100 80%,#008000 86.25%,#279400 90%,#5dae00 95%,#95ca00 100%)"></i><i style="top:585px;height:3px;background:linear-gradient(90deg,#2600d9 0%,#2500da 5%,#2900d6 10%,#3100ce 15%,#3d00c2 20%,#4d00b2 25%,#60009f 30%,#760089 35%,#90006f 40%,#ae0051 45%,#ce0031 50%,#f00 56.87%,#e80c00 60%,#c02000 65%,#963500 70%,#6a4b00 75%,#3b6200 80%,#008000 86.11%,#299400 90%,#5eaf00 95%,#96cb00 100%)"></i><i style="top:588px;height:3px;background:linear-gradient(90deg,#2700d8 0%,#2700d8 5%,#2b00d4 10%,#30c 15%,#3f00c0 20%,#4e00b1 25%,#61009e 30%,#780087 35%,#92006d 40%,#af0050 45%,#cf0030 50%,#f00 56.68%,#e60c00 60%,#bf2000 65%,#953500 70%,#694c00 75%,#3a6300 80%,#008000 85.98%,#2a9500 90%,#60b000 95%,#97cb00 100%)"></i><i style="top:591px;height:3px;background:linear-gradient(90deg,#2900d6 0%,#2900d6 5%,#2c00d3 10%,#3400cb 15%,#4000bf 20%,#5000af 25%,#63009c 30%,#790086 35%,#93006c 40%,#b1004e 45%,#d1002e 50%,#f00 56.49%,#e50d00 60%,#bd2100 65%,#933600 70%,#674c00 75%,#396400 80%,#008000 85.84%,#2b9600 90%,#61b000 95%,#9c0 100%)"></i><i style="top:594px;height:3px;background:linear-gradient(90deg,#2a00d5 0%,#2a00d5 5%,#2e00d1 10%,#3600c9 15%,#4200bd 20%,#5100ae 25%,#64009b 30%,#7b0084 35%,#95006a 40%,#b2004d 45%,#d2002d 50%,#f00 56.29%,#e30e00 60%,#bc2200 65%,#923700 70%,#664d00 75%,#376400 80%,#008000 85.71%,#2d9600 90%,#63b100 95%,#9acd00 100%)"></i><i style="top:597px;height:3px;background:linear-gradient(90deg,#2c00d3 0%,#2c00d3 5%,#2f00d0 10%,#3700c8 15%,#4300bc 20%,#5300ac 25%,#609 30%,#7c0083 35%,#960069 40%,#b3004c 45%,#d4002b 50%,#f00 56.1%,#e20f00 60%,#b20 65%,#913700 70%,#644e00 75%,#366500 80%,#008000 85.57%,#2e9700 90%,#64b200 95%,#9bcd00 100%)"></i><i style="top:600px;height:3px;background:linear-gradient(90deg,#2d00d2 0%,#2d00d2 5%,#3100ce 10%,#3900c6 15%,#4500ba 20%,#5400ab 25%,#670098 30%,#7e0081 35%,#980067 40%,#b5004a 45%,#d5002a 50%,#f00 55.91%,#e10f00 60%,#b92300 65%,#8f3800 70%,#634e00 75%,#356600 80%,#008000 85.44%,#2f9800 90%,#65b200 95%,#9dce00 100%)"></i><i style="top:603px;height:3px;background:linear-gradient(90deg,#2f00d0 0%,#2f00d0 5%,#3200cd 10%,#3a00c5 15%,#4600b9 20%,#5600a9 25%,#690096 30%,#7f0080 35%,#906 40%,#b60049 45%,#d70028 50%,#f00 55.71%,#df1000 60%,#b82400 65%,#8e3900 70%,#624f00 75%,#360 80%,#008000 85.3%,#319800 90%,#67b300 95%,#9ecf00 100%)"></i><i style="top:606px;height:3px;background:linear-gradient(90deg,#3100ce 0%,#3000cf 5%,#3400cb 10%,#3c00c3 15%,#4800b7 20%,#5700a8 25%,#6a0095 30%,#81007e 35%,#9b0064 40%,#b80047 45%,#d80027 50%,#f00 55.52%,#de1100 60%,#b62400 65%,#8d3900 70%,#605000 75%,#326700 80%,#008000 85.17%,#329900 90%,#68b400 95%,#9fcf00 100%)"></i><i style="top:609px;height:3px;background:linear-gradient(90deg,#3200cd 0%,#3200cd 5%,#3600c9 10%,#3d00c2 15%,#4900b6 20%,#5900a6 25%,#6c0093 30%,#82007d 35%,#9c0063 40%,#b90046 45%,#da0025 50%,#f00 55.32%,#dc1100 60%,#b52500 65%,#8b3a00 70%,#5f5000 75%,#316800 80%,#008000 85.03%,#349a00 90%,#69b400 95%,#a1d000 100%)"></i><i style="top:612px;height:3px;background:linear-gradient(90deg,#3400cb 0%,#30c 5%,#3700c8 10%,#3f00c0 15%,#4b00b4 20%,#5a00a5 25%,#6d0092 30%,#84007b 35%,#9e0061 40%,#b04 45%,#db0024 50%,#f00 55.13%,#db1200 60%,#b42600 65%,#8a3b00 70%,#5e5100 75%,#2f6800 80%,#008000 84.89%,#359a00 90%,#6bb500 95%,#a2d100 100%)"></i><i style="top:615px;height:3px;background:linear-gradient(90deg,#3500ca 0%,#3500ca 5%,#3900c6 10%,#4000bf 15%,#4c00b3 20%,#5c00a3 25%,#6f0090 30%,#85007a 35%,#9f0060 40%,#bc0043 45%,#dc0023 50%,#f00 54.93%,#da1300 60%,#b22700 65%,#883c00 70%,#5c5200 75%,#2e6900 80%,#008000 84.76%,#369b00 90%,#6cb600 95%,#a4d100 100%)"></i><i style="top:618px;height:3px;background:linear-gradient(90deg,#3700c8 0%,#3600c9 5%,#3a00c5 10%,#4200bd 15%,#4e00b1 20%,#5d00a2 25%,#70008f 30%,#870078 35%,#a1005e 40%,#be0041 45%,#de0021 50%,#f00 54.73%,#d81300 60%,#b12700 65%,#873c00 70%,#5b5200 75%,#2d6a00 80%,#008000 84.62%,#389c00 90%,#6db700 95%,#a5d200 100%)"></i><i style="top:621px;height:3px;background:linear-gradient(90deg,#3800c7 0%,#3800c7 5%,#3c00c3 10%,#4300bc 15%,#4f00b0 20%,#5f00a0 25%,#72008d 30%,#807 35%,#a2005d 40%,#bf0040 45%,#df0020 50%,#f00 54.54%,#d71400 60%,#b02800 65%,#863d00 70%,#5a5300 75%,#2b6a00 80%,#008000 84.48%,#399c00 90%,#6fb700 95%,#a6d300 100%)"></i><i style="top:624px;height:3px;background:linear-gradient(90deg,#3a00c5 0%,#3900c6 5%,#3d00c2 10%,#4500ba 15%,#5100ae 20%,#60009f 25%,#73008c 30%,#8a0075 35%,#a4005b 40%,#c1003e 45%,#e1001e 50%,#f00 54.34%,#d61500 60%,#ae2900 65%,#843e00 70%,#585400 75%,#2a6b00 80%,#008000 84.34%,#3b9d00 90%,#70b800 95%,#a8d300 100%)"></i><i style="top:627px;height:3px;background:linear-gradient(90deg,#3b00c4 0%,#3b00c4 5%,#3f00c0 10%,#4600b9 15%,#5200ad 20%,#62009d 25%,#75008a 30%,#8b0074 35%,#a5005a 40%,#c2003d 45%,#e2001d 50%,#f00 54.14%,#d41600 60%,#ad2900 65%,#833e00 70%,#575400 75%,#296c00 80%,#008000 84.21%,#3c9e00 90%,#72b900 95%,#a9d400 100%)"></i><i style="top:630px;height:3px;background:linear-gradient(90deg,#3d00c2 0%,#3c00c3 5%,#4000bf 10%,#4800b7 15%,#5400ab 20%,#63009c 25%,#760089 30%,#8d0072 35%,#a60059 40%,#c4003b 45%,#e4001b 50%,#f00 53.94%,#d31600 60%,#ab2a00 65%,#823f00 70%,#550 75%,#276c00 80%,#008000 84.07%,#3d9f00 90%,#73b900 95%,#aad500 100%)"></i><i style="top:633px;height:3px;background:linear-gradient(90deg,#3e00c1 0%,#3e00c1 5%,#4200bd 10%,#4900b6 15%,#50a 20%,#64009b 25%,#780087 30%,#8e0071 35%,#a80057 40%,#c5003a 45%,#e5001a 50%,#f00 53.74%,#d11700 60%,#aa2b00 65%,#804000 70%,#545600 75%,#266d00 80%,#008000 83.93%,#3f9f00 90%,#74ba00 95%,#acd600 100%)"></i><i style="top:636px;height:3px;background:linear-gradient(90deg,#4000bf 0%,#3f00c0 5%,#4300bc 10%,#4b00b4 15%,#5700a8 20%,#609 25%,#790086 30%,#90006f 35%,#a90056 40%,#c60039 45%,#e70018 50%,#f00 53.53%,#d01800 60%,#a92b00 65%,#7f4000 70%,#535600 75%,#246e00 80%,#008000 83.79%,#40a000 90%,#76bb00 95%,#add600 100%)"></i><i style="top:639px;height:3px;background:linear-gradient(90deg,#4200bd 0%,#4100be 5%,#4500ba 10%,#4c00b3 15%,#5800a7 20%,#670098 25%,#7a0085 30%,#91006e 35%,#ab0054 40%,#c80037 45%,#e80017 50%,#f00 53.33%,#cf1800 60%,#a72c00 65%,#7d4100 70%,#515700 75%,#236e00 80%,#008000 83.65%,#41a100 90%,#7b0 95%,#aed700 100%)"></i><i style="top:642px;height:3px;background:linear-gradient(90deg,#4300bc 0%,#4300bc 5%,#4600b9 10%,#4e00b1 15%,#5a00a5 20%,#690096 25%,#7c0083 30%,#92006d 35%,#ac0053 40%,#c90036 45%,#e90016 50%,#f00 53.13%,#cd1900 60%,#a62d00 65%,#7c4200 70%,#505800 75%,#226f00 80%,#008000 83.51%,#43a100 90%,#79bc00 95%,#b0d800 100%)"></i><i style="top:645px;height:3px;background:linear-gradient(90deg,#4500ba 0%,#40b 5%,#4800b7 10%,#4f00b0 15%,#5b00a4 20%,#6a0095 25%,#7d0082 30%,#94006b 35%,#ae0051 40%,#cb0034 45%,#eb0014 50%,#f00 52.92%,#cc1a00 60%,#a42d00 65%,#7b4200 70%,#4f5900 75%,#207000 80%,#008000 83.37%,#44a200 90%,#7abd00 95%,#b1d800 100%)"></i><i style="top:648px;height:3px;background:linear-gradient(90deg,#4600b9 0%,#4600b9 5%,#4900b6 10%,#5100ae 15%,#5d00a2 20%,#6c0093 25%,#7f0080 30%,#95006a 35%,#af0050 40%,#c03 45%,#ec0013 50%,#f00 52.72%,#ca1a00 60%,#a32e00 65%,#794300 70%,#4d5900 75%,#1f7000 80%,#008000 83.23%,#46a300 90%,#7bbd00 95%,#b3d900 100%)"></i><i style="top:651px;height:3px;background:linear-gradient(90deg,#4800b7 0%,#4700b8 5%,#4b00b4 10%,#5200ad 15%,#5e00a1 20%,#6d0092 25%,#80007f 30%,#970068 35%,#b1004e 40%,#ce0031 45%,#e01 50%,#f00 52.51%,#c91b00 60%,#a22f00 65%,#784400 70%,#4c5a00 75%,#1e7100 80%,#008000 83.09%,#47a300 90%,#7dbe00 95%,#b4da00 100%)"></i><i style="top:654px;height:3px;background:linear-gradient(90deg,#4900b6 0%,#4900b6 5%,#4c00b3 10%,#5400ab 15%,#60009f 20%,#6f0090 25%,#82007d 30%,#980067 35%,#b2004d 40%,#cf0030 45%,#f00 52.31%,#ec0900 55%,#c81c00 60%,#a03000 65%,#740 70%,#4a5b00 75%,#1c7200 80%,#008000 82.95%,#48a400 90%,#7ebf00 95%,#b5da00 100%)"></i><i style="top:657px;height:3px;background:linear-gradient(90deg,#4b00b4 0%,#4a00b5 5%,#4e00b1 10%,#5600a9 15%,#61009e 20%,#70008f 25%,#83007c 30%,#9a0065 35%,#b4004b 40%,#d1002e 45%,#f00 52.1%,#eb0a00 55%,#c61d00 60%,#9f3000 65%,#754500 70%,#495b00 75%,#1b7200 80%,#008000 82.81%,#4aa500 90%,#7fbf00 95%,#b7db00 100%)"></i><i style="top:660px;height:3px;background:linear-gradient(90deg,#4c00b3 0%,#4c00b3 5%,#4f00b0 10%,#5700a8 15%,#63009c 20%,#72008d 25%,#85007a 30%,#9b0064 35%,#b5004a 40%,#d2002d 45%,#f00 51.89%,#ea0b00 55%,#c51d00 60%,#9e3100 65%,#744600 70%,#485c00 75%,#1a7300 80%,#008000 82.67%,#4ba500 90%,#81c000 95%,#b8dc00 100%)"></i><i style="top:663px;height:3px;background:linear-gradient(90deg,#4e00b1 0%,#4d00b2 5%,#5100ae 10%,#5900a6 15%,#64009b 20%,#73008c 25%,#860079 30%,#9d0062 35%,#b70048 40%,#d4002b 45%,#f00 51.68%,#e80b00 55%,#c31e00 60%,#9c3200 65%,#724700 70%,#465d00 75%,#187400 80%,#008000 82.53%,#4da600 90%,#82c100 95%,#badc00 100%)"></i><i style="top:666px;height:3px;background:linear-gradient(90deg,#4f00b0 0%,#4f00b0 5%,#5200ad 10%,#5a00a5 15%,#609 20%,#75008a 25%,#807 30%,#9e0061 35%,#b80047 40%,#d5002a 45%,#f00 51.47%,#e70c00 55%,#c21f00 60%,#9b3200 65%,#714700 70%,#455d00 75%,#008000 82.39%,#1a8d00 85%,#4ea700 90%,#84c200 95%,#bd0 100%)"></i><i style="top:669px;height:3px;background:linear-gradient(90deg,#5100ae 0%,#5000af 5%,#5400ab 10%,#5c00a3 15%,#670098 20%,#760089 25%,#890076 30%,#a0005f 35%,#b90046 40%,#d60029 45%,#f00 51.26%,#e50d00 55%,#c11f00 60%,#930 65%,#704800 70%,#445e00 75%,#008000 82.25%,#1c8e00 85%,#4fa800 90%,#85c200 95%,#bcde00 100%)"></i><i style="top:672px;height:3px;background:linear-gradient(90deg,#5200ad 0%,#5200ad 5%,#50a 10%,#5d00a2 15%,#690096 20%,#780087 25%,#8b0074 30%,#a1005e 35%,#b04 40%,#d80027 45%,#f00 51.05%,#e40e00 55%,#bf2000 60%,#983400 65%,#6e4900 70%,#425f00 75%,#008000 82.11%,#1d8e00 85%,#51a800 90%,#86c300 95%,#bede00 100%)"></i><i style="top:675px;height:3px;background:linear-gradient(90deg,#5400ab 0%,#5300ac 5%,#5700a8 10%,#5f00a0 15%,#6a0095 20%,#790086 25%,#8c0073 30%,#a3005c 35%,#bc0043 40%,#d90026 45%,#f00 50.83%,#e30e00 55%,#be2100 60%,#973400 65%,#6d4900 70%,#415f00 75%,#008000 81.97%,#1e8f00 85%,#52a900 90%,#88c400 95%,#bfdf00 100%)"></i><i style="top:678px;height:3px;background:linear-gradient(90deg,#50a 0%,#50a 5%,#5800a7 10%,#60009f 15%,#6c0093 20%,#7b0084 25%,#8e0071 30%,#a4005b 35%,#be0041 40%,#db0024 45%,#f00 50.62%,#e10f00 55%,#bc2100 60%,#953500 65%,#6c4a00 70%,#406000 75%,#008000 81.82%,#209000 85%,#54aa00 90%,#89c400 95%,#c0e000 100%)"></i><i style="top:681px;height:3px;background:linear-gradient(90deg,#5700a8 0%,#5600a9 5%,#5a00a5 10%,#62009d 15%,#6d0092 20%,#7c0083 25%,#8f0070 30%,#a60059 35%,#bf0040 40%,#dc0023 45%,#f00 50.41%,#e01000 55%,#b20 60%,#943600 65%,#6a4b00 70%,#3e6100 75%,#008000 81.68%,#219100 85%,#5a0 90%,#8bc500 95%,#c2e100 100%)"></i><i style="top:684px;height:3px;background:linear-gradient(90deg,#5900a6 0%,#5800a7 5%,#5b00a4 10%,#63009c 15%,#6f0090 20%,#7e0081 25%,#91006e 30%,#a70058 35%,#c1003e 40%,#de0021 45%,#f00 50.19%,#de1000 55%,#ba2300 60%,#923700 65%,#694b00 70%,#3d6100 75%,#008000 81.54%,#239100 85%,#56ab00 90%,#8cc600 95%,#c3e100 100%)"></i><i style="top:687px;height:3px;background:linear-gradient(90deg,#5a00a5 0%,#5900a6 5%,#5d00a2 10%,#65009a 15%,#70008f 20%,#7f0080 25%,#92006d 30%,#a90056 35%,#c2003d 40%,#df0020 45%,#f00 49.97%,#d10 55%,#b82400 60%,#913700 65%,#674c00 70%,#3b6200 75%,#008000 81.4%,#249200 85%,#58ac00 90%,#8dc600 95%,#c5e200 100%)"></i><i style="top:690px;height:3px;background:linear-gradient(90deg,#5c00a3 0%,#5b00a4 5%,#5f00a0 10%,#609 15%,#72008d 20%,#81007e 25%,#94006b 30%,#a05 35%,#c4003b 40%,#e1001e 45%,#f00 49.76%,#db1200 55%,#b72400 60%,#903800 65%,#664d00 70%,#3a6300 75%,#008000 81.25%,#259300 85%,#59ac00 90%,#8fc700 95%,#c6e300 100%)"></i><i style="top:693px;height:3px;background:linear-gradient(90deg,#5d00a2 0%,#5d00a2 5%,#60009f 10%,#680097 15%,#73008c 20%,#82007d 25%,#95006a 30%,#ac0053 35%,#c5003a 40%,#e2001d 45%,#f00 49.54%,#da1300 55%,#b52500 60%,#8e3900 65%,#654e00 70%,#396400 75%,#008000 81.11%,#279300 85%,#5bad00 90%,#90c800 95%,#c7e300 100%)"></i><i style="top:696px;height:3px;background:linear-gradient(90deg,#5f00a0 0%,#5e00a1 5%,#62009d 10%,#690096 15%,#75008a 20%,#84007b 25%,#970068 30%,#ad0052 35%,#c70038 40%,#e4001b 45%,#f00 49.32%,#d91300 55%,#b42600 60%,#8d3900 65%,#634e00 70%,#376400 75%,#008000 80.97%,#289400 85%,#5cae00 90%,#92c800 95%,#c9e400 100%)"></i><i style="top:699px;height:3px;background:linear-gradient(90deg,#60009f 0%,#60009f 5%,#63009c 10%,#6b0094 15%,#760089 20%,#85007a 25%,#980067 30%,#ae0051 35%,#c80037 40%,#e5001a 45%,#f00 49.1%,#d71400 55%,#b32600 60%,#8b3a00 65%,#624f00 70%,#366500 75%,#008000 80.82%,#2a9500 85%,#5daf00 90%,#93c900 95%,#cae500 100%)"></i><i style="top:702px;height:3px;background:linear-gradient(90deg,#62009d 0%,#61009e 5%,#65009a 10%,#6c0093 15%,#780087 20%,#870078 25%,#9a0065 30%,#b0004f 35%,#ca0035 40%,#e70018 45%,#f00 48.88%,#d61500 55%,#b12700 60%,#8a3b00 65%,#605000 70%,#356600 75%,#008000 80.68%,#2b9500 85%,#5faf00 90%,#94ca00 95%,#cce500 100%)"></i><i style="top:705px;height:3px;background:linear-gradient(90deg,#63009c 0%,#63009c 5%,#609 10%,#6e0091 15%,#790086 20%,#807 25%,#9b0064 30%,#b1004e 35%,#cb0034 40%,#e80017 45%,#f00 48.65%,#d41500 55%,#b02800 60%,#893b00 65%,#5f5000 70%,#360 75%,#008000 80.53%,#2d9600 85%,#60b000 90%,#96cb00 95%,#cde600 100%)"></i><i style="top:708px;height:3px;background:linear-gradient(90deg,#65009a 0%,#64009b 5%,#680097 10%,#6f0090 15%,#7b0084 20%,#8a0075 25%,#9d0062 30%,#b3004c 35%,#cd0032 40%,#e90016 45%,#f00 48.43%,#d31600 55%,#ae2800 60%,#873c00 65%,#5e5100 70%,#326700 75%,#008000 80.39%,#2e9700 85%,#62b100 90%,#97cb00 95%,#cee700 100%)"></i><i style="top:711px;height:3px;background:linear-gradient(90deg,#609 0%,#609 5%,#690096 10%,#71008e 15%,#7c0083 20%,#8b0074 25%,#9e0061 30%,#b4004b 35%,#ce0031 40%,#eb0014 45%,#f00 48.2%,#d21700 55%,#ad2900 60%,#863d00 65%,#5c5200 70%,#306800 75%,#008000 80.24%,#2f9800 85%,#63b100 90%,#9c0 95%,#d0e700 100%)"></i><i style="top:714px;height:3px;background:linear-gradient(90deg,#680097 0%,#670098 5%,#6b0094 10%,#72008d 15%,#7e0081 20%,#8d0072 25%,#a0005f 30%,#b60049 35%,#d0002f 40%,#ec0013 45%,#f00 47.98%,#d01700 55%,#ac2a00 60%,#843d00 65%,#5b5200 70%,#2f6800 75%,#008000 80.1%,#319800 85%,#64b200 90%,#9acd00 95%,#d1e800 100%)"></i><i style="top:717px;height:3px;background:linear-gradient(90deg,#690096 0%,#690096 5%,#6c0093 10%,#74008b 15%,#7f0080 20%,#8e0071 25%,#a1005e 30%,#b70048 35%,#d1002e 40%,#e01 45%,#f00 47.75%,#cf1800 55%,#aa2b00 60%,#833e00 65%,#5a5300 70%,#2e6900 75%,#008000 79.95%,#329900 85%,#66b300 90%,#9bcd00 95%,#d2e900 100%)"></i><i style="top:720px;height:3px;background:linear-gradient(90deg,#6b0094 0%,#6a0095 5%,#6e0091 10%,#75008a 15%,#81007e 20%,#90006f 25%,#a3005c 30%,#b90046 35%,#d2002d 40%,#ef0010 45%,#f00 47.52%,#cd1900 55%,#a92b00 60%,#823f00 65%,#585400 70%,#2c6a00 75%,#008000 79.8%,#349a00 85%,#67b300 90%,#9dce00 95%,#d4ea00 100%)"></i><i style="top:723px;height:3px;background:linear-gradient(90deg,#6c0093 0%,#6c0093 5%,#6f0090 10%,#708 15%,#82007d 20%,#91006e 25%,#a4005b 30%,#ba0045 35%,#d4002b 40%,#f00 47.29%,#ee0900 50%,#cc1a00 55%,#a72c00 60%,#804000 65%,#575400 70%,#2b6a00 75%,#008000 79.66%,#359a00 85%,#69b400 90%,#9ecf00 95%,#d5ea00 100%)"></i><i style="top:726px;height:3px;background:linear-gradient(90deg,#6e0091 0%,#6d0092 5%,#71008e 10%,#780087 15%,#84007b 20%,#93006c 25%,#a60059 30%,#bc0043 35%,#d5002a 40%,#f00 47.06%,#ec0900 50%,#cb1a00 55%,#a62d00 60%,#7f4000 65%,#550 70%,#296b00 75%,#008000 79.51%,#369b00 85%,#6ab500 90%,#a0cf00 95%,#d7eb00 100%)"></i><i style="top:729px;height:3px;background:linear-gradient(90deg,#70008f 0%,#6f0090 5%,#72008d 10%,#7a0085 15%,#85007a 20%,#94006b 25%,#a70058 30%,#bd0042 35%,#d70028 40%,#f00 46.83%,#eb0a00 50%,#c91b00 55%,#a52d00 60%,#7e4100 65%,#545600 70%,#286c00 75%,#008000 79.36%,#389c00 85%,#6bb600 90%,#a1d000 95%,#d8ec00 100%)"></i><i style="top:732px;height:3px;background:linear-gradient(90deg,#71008e 0%,#70008f 5%,#74008b 10%,#7b0084 15%,#870078 20%,#960069 25%,#a80057 30%,#bf0040 35%,#d80027 40%,#f00 46.6%,#ea0b00 50%,#c81c00 55%,#a32e00 60%,#7c4200 65%,#535700 70%,#276d00 75%,#008000 79.22%,#399d00 85%,#6db600 90%,#a2d100 95%,#d9ec00 100%)"></i><i style="top:735px;height:3px;background:linear-gradient(90deg,#73008c 0%,#72008d 5%,#75008a 10%,#7d0082 15%,#807 20%,#970068 25%,#a05 30%,#c0003f 35%,#da0025 40%,#f00 46.37%,#e80b00 50%,#c61c00 55%,#a22f00 60%,#7b4200 65%,#515700 70%,#256d00 75%,#008000 79.07%,#3b9d00 85%,#6eb700 90%,#a4d200 95%,#dbed00 100%)"></i><i style="top:738px;height:3px;background:linear-gradient(90deg,#74008b 0%,#73008c 5%,#708 10%,#7e0081 15%,#8a0075 20%,#906 25%,#ab0054 30%,#c2003d 35%,#db0024 40%,#f00 46.13%,#e70c00 50%,#c51d00 55%,#a02f00 60%,#794300 65%,#505800 70%,#246e00 75%,#008000 78.92%,#3c9e00 85%,#70b800 90%,#a5d200 95%,#dcee00 100%)"></i><i style="top:741px;height:3px;background:linear-gradient(90deg,#760089 0%,#75008a 5%,#780087 10%,#80007f 15%,#8b0074 20%,#9a0065 25%,#ad0052 30%,#c3003c 35%,#d02 40%,#f00 45.9%,#e50d00 50%,#c41e00 55%,#9f3000 60%,#784400 65%,#4e5900 70%,#236f00 75%,#008000 78.77%,#3e9f00 85%,#71b800 90%,#a7d300 95%,#deee00 100%)"></i><i style="top:744px;height:3px;background:linear-gradient(90deg,#708 0%,#760089 5%,#7a0085 10%,#81007e 15%,#8d0072 20%,#9c0063 25%,#ae0051 30%,#c5003a 35%,#de0021 40%,#f00 45.66%,#e40e00 50%,#c21f00 55%,#9e3100 60%,#774500 65%,#4d5900 70%,#216f00 75%,#008000 78.62%,#3f9f00 85%,#73b900 90%,#a8d400 95%,#dfef00 100%)"></i><i style="top:747px;height:3px;background:linear-gradient(90deg,#790086 0%,#780087 5%,#7b0084 10%,#83007c 15%,#8e0071 20%,#9d0062 25%,#b0004f 30%,#c60039 35%,#e0001f 40%,#f00 45.42%,#e30e00 50%,#c11f00 55%,#9c3200 60%,#754500 65%,#4c5a00 70%,#207000 75%,#008000 78.48%,#40a000 85%,#74ba00 90%,#a9d400 95%,#e0f000 100%)"></i><i style="top:750px;height:3px;background:linear-gradient(90deg,#7a0085 0%,#790086 5%,#7d0082 10%,#84007b 15%,#90006f 20%,#9f0060 25%,#b1004e 30%,#c80037 35%,#e1001e 40%,#f00 45.18%,#e10f00 50%,#bf2000 55%,#9b3200 60%,#744600 65%,#4a5b00 70%,#1e7100 75%,#008000 78.33%,#42a100 85%,#75ba00 90%,#abd500 95%,#e2f000 100%)"></i><i style="top:753px;height:3px;background:linear-gradient(90deg,#7c0083 0%,#7b0084 5%,#7e0081 10%,#860079 15%,#91006e 20%,#a0005f 25%,#b3004c 30%,#c90036 35%,#e3001c 40%,#f00 44.94%,#e01000 50%,#be2100 55%,#930 60%,#724700 65%,#495b00 70%,#1d7100 75%,#008000 78.18%,#43a100 85%,#7b0 90%,#acd600 95%,#e3f100 100%)"></i><i style="top:756px;height:3px;background:linear-gradient(90deg,#7d0082 0%,#7c0083 5%,#80007f 10%,#870078 15%,#93006c 20%,#a2005d 25%,#b4004b 30%,#cb0034 35%,#e4001b 40%,#f00 44.7%,#de1000 50%,#bc2100 55%,#983400 60%,#714700 65%,#475c00 70%,#1c7200 75%,#008000 78.03%,#45a200 85%,#78bc00 90%,#aed600 95%,#e5f200 100%)"></i><i style="top:759px;height:3px;background:linear-gradient(90deg,#7f0080 0%,#7e0081 5%,#81007e 10%,#890076 15%,#94006b 20%,#a3005c 25%,#b60049 30%,#c03 35%,#e60019 40%,#f00 44.45%,#d10 50%,#b20 55%,#973400 60%,#704800 65%,#465d00 70%,#1a7300 75%,#008000 77.88%,#46a300 85%,#7abd00 90%,#afd700 95%,#e6f300 100%)"></i><i style="top:762px;height:3px;background:linear-gradient(90deg,#80007f 0%,#80007f 5%,#83007c 10%,#8a0075 15%,#960069 20%,#a5005a 25%,#b70048 30%,#ce0031 35%,#e70018 40%,#f00 44.21%,#db1200 50%,#ba2300 55%,#953500 60%,#6e4900 65%,#455e00 70%,#197400 75%,#008000 77.73%,#47a400 85%,#7bbd00 90%,#b0d800 95%,#e7f300 100%)"></i><i style="top:765px;height:3px;background:linear-gradient(90deg,#82007d 0%,#81007e 5%,#84007b 10%,#8c0073 15%,#970068 20%,#a60059 25%,#b90046 30%,#cf0030 35%,#e90016 40%,#f00 43.96%,#da1300 50%,#b82400 55%,#943600 60%,#6d4900 65%,#435e00 70%,#177400 75%,#008000 77.58%,#49a400 85%,#7cbe00 90%,#b2d900 95%,#e9f400 100%)"></i><i style="top:768px;height:3px;background:linear-gradient(90deg,#83007c 0%,#83007c 5%,#860079 10%,#8d0072 15%,#906 20%,#a80057 25%,#ba0045 30%,#d0002f 35%,#ea0015 40%,#f00 43.71%,#d91300 50%,#b72400 55%,#923700 60%,#6b4a00 65%,#425f00 70%,#008000 77.42%,#198c00 80%,#4aa500 85%,#7ebf00 90%,#b3d900 95%,#eaf500 100%)"></i><i style="top:771px;height:3px;background:linear-gradient(90deg,#85007a 0%,#84007b 5%,#870078 10%,#8f0070 15%,#9a0065 20%,#a90056 25%,#bc0043 30%,#d2002d 35%,#eb0014 40%,#f00 43.46%,#d71400 50%,#b52500 55%,#913700 60%,#6a4b00 65%,#406000 70%,#008000 77.27%,#1a8d00 80%,#4ca600 85%,#7fbf00 90%,#b5da00 95%,#ecf500 100%)"></i><i style="top:774px;height:3px;background:linear-gradient(90deg,#860079 0%,#860079 5%,#890076 10%,#90006f 15%,#9c0063 20%,#ab0054 25%,#bd0042 30%,#d3002c 35%,#ed0012 40%,#f00 43.21%,#d61500 50%,#b42600 55%,#903800 60%,#694c00 65%,#3f6000 70%,#008000 77.12%,#1c8e00 80%,#4da600 85%,#81c000 90%,#b6db00 95%,#edf600 100%)"></i><i style="top:777px;height:3px;background:linear-gradient(90deg,#807 0%,#870078 5%,#8a0075 10%,#92006d 15%,#9d0062 20%,#ac0053 25%,#bf0040 30%,#d5002a 35%,#e01 40%,#f00 42.96%,#d41500 50%,#b32600 55%,#8e3900 60%,#674c00 65%,#3e6100 70%,#008000 76.97%,#1d8e00 80%,#4fa700 85%,#82c100 90%,#b8db00 95%,#eff700 100%)"></i><i style="top:780px;height:3px;background:linear-gradient(90deg,#8a0075 0%,#890076 5%,#8c0073 10%,#93006c 15%,#9f0060 20%,#ae0051 25%,#c0003f 30%,#d60029 35%,#f0000f 40%,#f00 42.7%,#d31600 50%,#b12700 55%,#8d3900 60%,#664d00 65%,#3c6200 70%,#008000 76.82%,#1e8f00 80%,#50a800 85%,#84c200 90%,#b9dc00 95%,#f0f800 100%)"></i><i style="top:783px;height:3px;background:linear-gradient(90deg,#8b0074 0%,#8a0075 5%,#8d0072 10%,#95006a 15%,#a0005f 20%,#af0050 25%,#c2003d 30%,#d80027 35%,#f00 42.45%,#f00700 45%,#d11700 50%,#b02800 55%,#8b3a00 60%,#644e00 65%,#3b6200 70%,#008000 76.67%,#209000 80%,#51a900 85%,#85c200 90%,#badd00 95%,#f1f800 100%)"></i><i style="top:786px;height:3px;background:linear-gradient(90deg,#8d0072 0%,#8c0073 5%,#8f0070 10%,#960069 15%,#a2005d 20%,#b1004e 25%,#c3003c 30%,#d90026 35%,#f00 42.19%,#ef0800 45%,#d01800 50%,#ae2800 55%,#8a3b00 60%,#634e00 65%,#396300 70%,#008000 76.51%,#219100 80%,#53a900 85%,#86c300 90%,#bcde00 95%,#f3f900 100%)"></i><i style="top:789px;height:3px;background:linear-gradient(90deg,#8e0071 0%,#8d0072 5%,#90006f 10%,#980067 15%,#a3005c 20%,#b2004d 25%,#c5003a 30%,#db0024 35%,#f00 41.93%,#ee0900 45%,#cf1800 50%,#ad2900 55%,#883b00 60%,#614f00 65%,#386400 70%,#008000 76.36%,#239100 80%,#54aa00 85%,#88c400 90%,#bdde00 95%,#f4fa00 100%)"></i><i style="top:792px;height:3px;background:linear-gradient(90deg,#90006f 0%,#8f0070 5%,#92006d 10%,#906 15%,#a5005a 20%,#b4004b 25%,#c60039 30%,#dc0023 35%,#f00 41.67%,#ec0900 45%,#cd1900 50%,#ac2a00 55%,#873c00 60%,#605000 65%,#376500 70%,#008000 76.21%,#249200 80%,#56ab00 85%,#89c400 90%,#bfdf00 95%,#f6fa00 100%)"></i><i style="top:795px;height:3px;background:linear-gradient(90deg,#91006e 0%,#90006f 5%,#94006b 10%,#9b0064 15%,#a60059 20%,#b5004a 25%,#c80037 30%,#de0021 35%,#f00 41.41%,#eb0a00 45%,#cc1a00 50%,#aa2b00 55%,#863d00 60%,#5f5000 65%,#356500 70%,#008000 76.05%,#269300 80%,#57ab00 85%,#8bc500 90%,#c0e000 95%,#f7fb00 100%)"></i><i style="top:798px;height:3px;background:linear-gradient(90deg,#93006c 0%,#92006d 5%,#95006a 10%,#9c0063 15%,#a80057 20%,#b70048 25%,#c90036 30%,#df0020 35%,#f00 41.14%,#e90b00 45%,#ca1a00 50%,#a92b00 55%,#843e00 60%,#5d5100 65%,#346600 70%,#008000 75.9%,#279300 80%,#59ac00 85%,#8cc600 90%,#c1e000 95%,#f8fc00 100%)"></i><i style="top:801px;height:3px;background:linear-gradient(90deg,#94006b 0%,#93006c 5%,#970068 10%,#9e0061 15%,#a90056 20%,#b80047 25%,#cb0034 30%,#e1001e 35%,#f00 40.88%,#e80c00 45%,#c91b00 50%,#a72c00 55%,#833e00 60%,#5c5200 65%,#326700 70%,#008000 75.74%,#299400 80%,#5aad00 85%,#8ec700 90%,#c3e100 95%,#fafc00 100%)"></i><i style="top:804px;height:3px;background:linear-gradient(90deg,#960069 0%,#95006a 5%,#980067 10%,#9f0060 15%,#ab0054 20%,#ba0045 25%,#c03 30%,#e2001d 35%,#f00 40.61%,#e60c00 45%,#c81c00 50%,#a62d00 55%,#813f00 60%,#5a5300 65%,#316700 70%,#008000 75.59%,#2a9500 80%,#5bae00 85%,#8fc700 90%,#c4e200 95%,#fbfd00 100%)"></i><i style="top:807px;height:3px;background:linear-gradient(90deg,#970068 0%,#960069 5%,#9a0065 10%,#a1005e 15%,#ac0053 20%,#b04 25%,#ce0031 30%,#e4001b 35%,#f00 40.34%,#e50d00 45%,#c61d00 50%,#a42d00 55%,#804000 60%,#595300 65%,#306800 70%,#008000 75.43%,#2b9600 80%,#5dae00 85%,#90c800 90%,#c6e200 95%,#fdfe00 100%)"></i><i style="top:810px;height:3px;background:linear-gradient(90deg,#906 0%,#980067 5%,#9b0064 10%,#a2005d 15%,#ae0051 20%,#bd0042 25%,#cf0030 30%,#e5001a 35%,#f00 40.07%,#e40e00 45%,#c51d00 50%,#a32e00 55%,#7f4000 60%,#585400 65%,#2e6900 70%,#008000 75.28%,#2d9600 80%,#5eaf00 85%,#92c900 90%,#c7e300 95%,#feff00 100%)"></i><i style="top:813px;height:3px;background:linear-gradient(90deg,#9a0065 0%,#906 5%,#9d0062 10%,#a4005b 15%,#af0050 20%,#be0041 25%,#d1002e 30%,#e70018 35%,#f00 39.79%,#e20f00 45%,#c31e00 50%,#a22f00 55%,#7d4100 60%,#565500 65%,#2d6a00 70%,#008000 75.12%,#2e9700 80%,#60b000 85%,#93c900 90%,#c9e400 95%,#ff0 100%)"></i><i style="top:816px;height:3px;background:linear-gradient(90deg,#9c0063 0%,#9b0064 5%,#9e0061 10%,#a5005a 15%,#b1004e 20%,#c0003f 25%,#d2002d 30%,#e80017 35%,#f00 39.52%,#e10f00 45%,#c21f00 50%,#a03000 55%,#7c4200 60%,#550 65%,#2b6a00 70%,#008000 74.96%,#309800 80%,#61b000 85%,#95ca00 90%,#cae500 95%,#ff0 100%)"></i><i style="top:819px;height:3px;background:linear-gradient(90deg,#9d0062 0%,#9c0063 5%,#a0005f 10%,#a70058 15%,#b2004d 20%,#c1003e 25%,#d4002b 30%,#ea0015 35%,#f00 39.24%,#df1000 45%,#c01f00 50%,#9f3000 55%,#7a4300 60%,#535600 65%,#2a6b00 70%,#008000 74.81%,#319800 80%,#63b100 85%,#96cb00 90%,#cbe500 95%,#ff0 100%)"></i></div>
<svg width="1987" height="1092" viewBox="0 0 1987 1092">
<rect x="114.5" y="68.5" width="791" height="845.2" rx="2.5" fill="none" stroke="#1c1c20" stroke-width="2.7"/>
<rect x="1169.5" y="43.5" width="808.4" height="834.2" rx="2.5" fill="none" stroke="#1c1c20" stroke-width="2.7"/>
<path d="M126.0 915.4v7" stroke="#c2c2c2" stroke-width="2"/><path d="M202.4 915.4v3" stroke="#dcdcdc" stroke-width="2"/><path d="M278.8 915.4v7" stroke="#c2c2c2" stroke-width="2"/><path d="M355.8 915.4v3" stroke="#dcdcdc" stroke-width="2"/><path d="M432.7 915.4v7" stroke="#c2c2c2" stroke-width="2"/><path d="M509.6 915.4v3" stroke="#dcdcdc" stroke-width="2"/><path d="M586.6 915.4v7" stroke="#c2c2c2" stroke-width="2"/><path d="M663.0 915.4v3" stroke="#dcdcdc" stroke-width="2"/><path d="M739.3 915.4v7" stroke="#c2c2c2" stroke-width="2"/><path d="M816.1 915.4v3" stroke="#dcdcdc" stroke-width="2"/><path d="M893.0 915.4v7" stroke="#c2c2c2" stroke-width="2"/><path d="M105.8 898.1h7" stroke="#c2c2c2" stroke-width="2"/><path d="M109.8 817.5h3" stroke="#dcdcdc" stroke-width="2"/><path d="M105.8 736.9h7" stroke="#c2c2c2" stroke-width="2"/><path d="M109.8 654.3h3" stroke="#dcdcdc" stroke-width="2"/><path d="M105.8 571.8h7" stroke="#c2c2c2" stroke-width="2"/><path d="M109.8 491.0h3" stroke="#dcdcdc" stroke-width="2"/><path d="M105.8 410.2h7" stroke="#c2c2c2" stroke-width="2"/><path d="M109.8 327.9h3" stroke="#dcdcdc" stroke-width="2"/><path d="M105.8 245.6h7" stroke="#c2c2c2" stroke-width="2"/><path d="M109.8 163.3h3" stroke="#dcdcdc" stroke-width="2"/><path d="M105.8 81.1h7" stroke="#c2c2c2" stroke-width="2"/>
<path d="M1181.9 879.4v7" stroke="#c2c2c2" stroke-width="2"/><path d="M1260.3 879.4v3" stroke="#dcdcdc" stroke-width="2"/><path d="M1338.8 879.4v7" stroke="#c2c2c2" stroke-width="2"/><path d="M1416.9 879.4v3" stroke="#dcdcdc" stroke-width="2"/><path d="M1495.0 879.4v7" stroke="#c2c2c2" stroke-width="2"/><path d="M1573.5 879.4v3" stroke="#dcdcdc" stroke-width="2"/><path d="M1652.0 879.4v7" stroke="#c2c2c2" stroke-width="2"/><path d="M1730.3 879.4v3" stroke="#dcdcdc" stroke-width="2"/><path d="M1808.7 879.4v7" stroke="#c2c2c2" stroke-width="2"/><path d="M1887.2 879.4v3" stroke="#dcdcdc" stroke-width="2"/><path d="M1965.6 879.4v7" stroke="#c2c2c2" stroke-width="2"/><path d="M1160.8 862.3h7" stroke="#c2c2c2" stroke-width="2"/><path d="M1164.8 782.2h3" stroke="#dcdcdc" stroke-width="2"/><path d="M1160.8 702.1h7" stroke="#c2c2c2" stroke-width="2"/><path d="M1164.8 621.0h3" stroke="#dcdcdc" stroke-width="2"/><path d="M1160.8 540.0h7" stroke="#c2c2c2" stroke-width="2"/><path d="M1164.8 460.1h3" stroke="#dcdcdc" stroke-width="2"/><path d="M1160.8 380.3h7" stroke="#c2c2c2" stroke-width="2"/><path d="M1164.8 299.1h3" stroke="#dcdcdc" stroke-width="2"/><path d="M1160.8 218.0h7" stroke="#c2c2c2" stroke-width="2"/><path d="M1164.8 137.0h3" stroke="#dcdcdc" stroke-width="2"/><path d="M1160.8 56.0h7" stroke="#c2c2c2" stroke-width="2"/>
<path d="M126.4 192.3L140.6 191.8L154.8 190.9L169.0 189.7L183.2 188.3M227.1 181.9L239.1 179.6L251.1 177.2L263.0 174.5L274.8 171.7L286.6 168.6L298.4 165.4L310.1 161.9L321.7 158.3L333.3 154.5L344.8 150.5L356.3 146.3L367.7 142.0L379.0 137.4L390.3 132.7L401.4 127.8L412.5 122.7L423.6 117.5L434.5 112.1L445.4 106.5L456.1 100.8L466.8 94.9L477.4 88.9L487.9 82.7M125.7 382.0L138.5 381.9L151.2 381.5L163.8 380.8L176.4 379.9L188.9 378.8L201.3 377.4L213.8 375.8L226.1 374.0L238.4 371.9L250.6 369.6L262.8 367.1L274.9 364.4L287.0 361.4L299.0 358.3L310.9 354.9L322.8 351.4L334.6 347.6L346.3 343.7L358.0 339.5L369.6 335.2L381.2 330.7L392.6 326.0L404.0 321.2L415.4 316.1L426.7 311.0L437.9 305.6M472.4 287.8L483.1 281.9L493.7 275.9L504.2 269.8L514.6 263.5L525.0 257.2L535.3 250.6L545.5 244.0L555.6 237.2L565.7 230.4L575.7 223.4L585.6 216.3L595.5 209.1L605.2 201.8L614.9 194.3L624.5 186.8L634.1 179.3L643.5 171.6L652.9 163.8L662.2 156.0L671.4 148.0L680.5 140.0L689.6 132.0L698.6 123.8L707.4 115.6L716.2 107.3L724.9 99.0L733.6 90.6L742.1 82.2M125.3 572.1L138.1 572.0L150.9 571.7L163.6 571.1L176.2 570.3L188.7 569.3L201.3 568.0M251.8 560.6L263.6 558.3L275.4 555.8L287.2 553.1L298.9 550.2L310.5 547.2L322.1 543.9L333.6 540.5L345.1 536.9L356.5 533.2L367.8 529.2L379.1 525.1L390.3 520.8L401.5 516.4L412.6 511.8L423.6 507.0L434.6 502.1L445.5 497.1L456.3 491.8L467.1 486.5L477.8 481.0L488.5 475.4L499.0 469.6L509.6 463.7L520.0 457.7L530.4 451.5L540.7 445.3L551.0 438.9L561.2 432.3L571.3 425.7L581.3 419.0L591.3 412.1L601.2 405.2L611.1 398.1L620.9 391.0M653.8 365.8L663.5 358.2L673.0 350.4L682.5 342.6L692.0 334.7L701.4 326.8L710.7 318.7L719.9 310.6L729.1 302.4L738.2 294.2L747.3 285.9L756.3 277.5L765.3 269.1L774.1 260.6L783.0 252.1L791.7 243.6L800.4 235.0L809.1 226.4L817.7 217.7L826.2 209.0L834.7 200.3L843.1 191.5L851.5 182.7L859.8 173.9L868.0 165.1L876.2 156.3L884.4 147.5L892.5 138.7M126.1 762.5L138.3 762.3L150.4 761.9L162.5 761.3L174.6 760.6L186.6 759.6L198.6 758.4L210.6 757.0L222.6 755.5L234.5 753.7L246.4 751.8L258.3 749.7L270.1 747.4L281.9 744.9L293.6 742.3L305.3 739.4M345.5 728.3L357.0 724.8L368.4 721.0L379.8 717.1L391.2 713.1L402.5 708.8L413.7 704.5L424.9 700.0L436.1 695.3L447.1 690.5L458.1 685.6L469.1 680.5L479.9 675.3L490.8 669.9L501.5 664.4L512.2 658.8L522.8 653.0L533.3 647.1L543.7 641.1L554.1 635.0L564.4 628.8L574.6 622.4L584.8 616.0L594.9 609.4L604.9 602.7L614.8 595.9L624.7 589.0L634.5 582.0L644.2 574.9L653.9 567.7L663.5 560.4L673.0 553.1L682.5 545.6L691.9 538.1M722.1 513.0L731.5 505.1L740.7 497.0L749.9 488.9L759.1 480.7L768.2 472.5L777.3 464.2L786.3 455.8L795.3 447.5L804.2 439.1L813.1 430.6L822.0 422.2L830.8 413.7L839.6 405.2L848.3 396.7L857.0 388.2L865.7 379.7L874.3 371.2L882.9 362.7L891.5 354.2M416.6 897.9L427.9 893.6M465.8 878.0L476.8 873.1L487.7 868.1L498.6 863.0L509.4 857.8L520.2 852.4L530.8 847.0L541.5 841.4L552.0 835.8L562.5 830.0L572.9 824.1L583.3 818.1L593.6 812.0L603.9 805.8L614.1 799.5L624.2 793.1L634.2 786.6L644.3 780.0L654.2 773.3L664.1 766.5L673.9 759.6L683.7 752.7L693.4 745.6L703.0 738.5L712.6 731.3L722.1 724.0L731.6 716.6L741.0 709.2L750.4 701.7L759.7 694.1L768.9 686.4L778.1 678.7L787.2 670.8L796.3 663.0L805.3 655.0L814.2 647.0L823.1 639.0L832.0 630.8L840.8 622.6L849.5 614.4L858.2 606.1L866.8 597.7L875.4 589.3L883.9 580.9L892.3 572.4M764.5 897.6L775.9 890.5L786.8 882.7L797.3 874.5L807.4 866.0L817.3 857.1M845.7 830.5L854.7 822.2L863.8 814.1L873.2 806.2L882.9 798.6L893.0 791.4" fill="none" stroke="#000" stroke-width="3.1" stroke-linecap="round" stroke-linejoin="round"/>
<path d="M1181.7 494.3L1194.5 493.0L1207.1 491.2L1219.3 488.9L1231.4 486.1L1243.2 482.8L1254.7 479.0L1266.1 474.8L1277.2 470.1L1288.1 465.1L1298.7 459.6L1309.2 453.8L1319.4 447.6L1329.5 441.1L1339.3 434.3L1349.0 427.2L1358.4 419.7L1367.7 412.0L1376.8 404.1L1385.7 395.9L1394.4 387.6L1403.0 379.0L1411.4 370.2L1419.7 361.3L1427.8 352.3L1435.7 343.0L1443.5 333.7L1451.2 324.2L1458.7 314.6L1466.1 304.9L1473.4 295.1L1480.5 285.2L1487.5 275.2L1494.4 265.1L1501.2 254.9L1507.9 244.6L1514.5 234.3L1521.0 223.9M1541.2 190.4L1547.6 179.4L1554.0 168.3L1560.2 157.2L1566.4 146.1L1572.6 135.0L1578.7 123.9L1584.7 112.9L1590.7 101.8L1596.6 90.8L1602.5 79.9L1608.4 69.0L1614.2 58.1M1374.8 861.9L1384.9 852.1M1412.1 824.1L1420.4 815.2L1428.5 806.2L1436.5 797.1L1444.4 788.0L1452.2 778.8L1459.8 769.5L1467.4 760.1L1474.8 750.6L1482.2 741.1L1489.4 731.5L1496.5 721.8L1503.6 712.0L1510.5 702.2L1517.3 692.4L1524.1 682.4L1530.7 672.4L1537.3 662.4L1543.8 652.2L1550.2 642.0L1556.4 631.8L1562.7 621.5L1568.8 611.2L1574.8 600.8L1580.8 590.3L1586.7 579.8L1592.5 569.3L1598.3 558.7L1604.0 548.1L1609.6 537.4L1615.1 526.7L1620.6 515.9L1626.0 505.1L1631.4 494.3L1636.7 483.5M1651.7 451.8L1656.8 440.7L1661.9 429.6L1666.9 418.4L1671.9 407.2L1676.8 396.1L1681.7 384.8L1686.6 373.6L1691.4 362.4L1696.1 351.1L1700.9 339.8L1705.6 328.5L1710.3 317.2L1714.9 305.9L1719.5 294.6L1724.1 283.2L1728.6 271.9L1733.2 260.5L1737.7 249.2L1742.2 237.9L1746.7 226.5L1751.1 215.2L1755.6 203.8L1760.0 192.5L1764.4 181.2L1768.9 169.9L1773.3 158.5L1777.7 147.3L1782.1 136.0L1786.5 124.7L1790.9 113.5L1795.3 102.2L1799.8 91.0L1804.2 79.8L1808.6 68.7L1813.1 57.5M1683.0 861.8L1688.2 850.3L1693.4 838.7L1698.6 827.1L1703.7 815.5L1708.8 803.9L1713.9 792.3L1718.9 780.6L1724.0 769.0L1729.0 757.4L1733.9 745.7L1738.9 734.0L1743.8 722.3L1748.7 710.6L1753.5 698.9L1758.4 687.2M1774.3 647.9L1778.8 636.8L1783.2 625.6L1787.6 614.4L1792.0 603.2L1796.4 592.0L1800.8 580.8L1805.1 569.5L1809.4 558.3L1813.6 547.1L1817.9 535.8L1822.1 524.5L1826.3 513.3L1830.5 502.0L1834.7 490.7L1838.8 479.4L1842.9 468.1L1847.0 456.8L1851.0 445.5L1855.1 434.1L1859.1 422.8L1863.1 411.4L1867.0 400.1L1871.0 388.7L1874.9 377.4L1878.8 366.0L1882.6 354.6L1886.5 343.2L1890.3 331.8L1894.1 320.4L1897.9 309.0L1901.6 297.5M1913.2 261.8L1916.9 250.4L1920.5 238.9L1924.1 227.4L1927.7 215.9L1931.3 204.5L1934.8 193.0L1938.4 181.4L1941.9 169.9L1945.4 158.4L1948.8 146.9L1952.3 135.3L1955.7 123.8L1959.1 112.3L1962.4 100.7L1965.8 89.1M1880.0 862.0L1883.7 849.7L1887.4 837.4L1891.3 825.2L1895.3 812.9L1899.3 800.8L1903.5 788.6L1907.7 776.5L1911.9 764.4L1916.2 752.3L1920.6 740.2L1924.9 728.1L1929.2 716.0M1945.2 670.5L1949.5 658.0L1953.7 645.5L1957.8 632.9L1961.8 620.3L1965.6 607.6" fill="none" stroke="#000" stroke-width="3.1" stroke-linecap="round" stroke-linejoin="round"/>
<text class="t" transform="translate(273.37 54.40) scale(0.9862 0.9923)">Skin friction coefficeint</text><text class="t" transform="translate(1332.34 29.30) scale(1.006 0.9923)">Skin friction coefficeint</text><text class="n" transform="translate(116.03 957.66) scale(0.8678 1.085)">0</text><text class="n" transform="translate(257.87 957.66) scale(0.8785 1.085)">0.2</text><text class="n" transform="translate(411.78 957.66) scale(0.8675 1.085)">0.4</text><text class="n" transform="translate(565.67 957.66) scale(0.8785 1.085)">0.6</text><text class="n" transform="translate(718.37 957.66) scale(0.8785 1.085)">0.8</text><text class="n" transform="translate(884.47 957.92) scale(0.6667 1.124)">1</text><text class="n" transform="translate(80.73 909.67) scale(0.8678 1.067)">0</text><text class="n" transform="translate(57.22 748.47) scale(0.8785 1.067)">0.2</text><text class="n" transform="translate(57.23 583.37) scale(0.8675 1.067)">0.4</text><text class="n" transform="translate(57.22 421.77) scale(0.8785 1.067)">0.6</text><text class="n" transform="translate(57.22 257.17) scale(0.8785 1.067)">0.8</text><text class="n" transform="translate(81.87 92.92) scale(0.6667 1.105)">1</text><text class="n" transform="translate(1171.29 920.48) scale(0.9085 1.039)">0</text><text class="n" transform="translate(1317.26 920.48) scale(0.8937 1.039)">0.2</text><text class="n" transform="translate(1473.47 920.48) scale(0.8825 1.039)">0.4</text><text class="n" transform="translate(1630.46 920.48) scale(0.8937 1.039)">0.6</text><text class="n" transform="translate(1787.16 920.48) scale(0.8937 1.039)">0.8</text><text class="n" transform="translate(1956.77 920.73) scale(0.6667 1.076)">1</text><text class="n" transform="translate(1135.09 873.58) scale(0.9085 1.039)">0</text><text class="n" transform="translate(1111.61 713.38) scale(0.8937 1.039)">0.2</text><text class="n" transform="translate(1111.62 551.28) scale(0.8825 1.039)">0.4</text><text class="n" transform="translate(1111.61 391.58) scale(0.8937 1.039)">0.6</text><text class="n" transform="translate(1111.61 229.28) scale(0.8937 1.039)">0.8</text><text class="n" transform="translate(1136.87 67.53) scale(0.6667 1.076)">1</text><text class="c" transform="translate(187.84 196.46) scale(0.9041 1.056)">1.8</text><text class="c" transform="translate(435.17 305.96) scale(0.8919 1.056)">1.7</text><text class="c" transform="translate(208.46 573.96) scale(0.898 1.056)">1.6</text><text class="c" transform="translate(619.76 386.36) scale(0.898 1.056)">1.6</text><text class="c" transform="translate(302.94 745.46) scale(0.9041 1.056)">1.5</text><text class="c" transform="translate(687.74 538.76) scale(0.9041 1.056)">1.5</text><text class="c" transform="translate(427.09 897.26) scale(0.8859 1.056)">1.4</text><text class="c" transform="translate(813.14 854.36) scale(0.9041 1.056)">1.3</text><text class="c" transform="translate(1510.94 217.26) scale(0.9041 1.056)">1.8</text><text class="c" transform="translate(1623.77 474.16) scale(0.8919 1.056)">1.7</text><text class="c" transform="translate(1374.27 849.06) scale(0.8919 1.056)">1.7</text><text class="c" transform="translate(1744.06 679.06) scale(0.898 1.056)">1.6</text><text class="c" transform="translate(1886.36 288.96) scale(0.898 1.056)">1.6</text><text class="c" transform="translate(1915.34 706.76) scale(0.9041 1.056)">1.5</text><text class="l" transform="translate(1.56 505.04) scale(1.167 1.283)">We</text><text class="l" transform="translate(1054.39 473.08) scale(1.203 1.229)">We</text><text class="l" transform="translate(491.54 995.98) scale(1.15 1.297)">m</text><text class="l" transform="translate(1556.14 958.30) scale(1.15 1.193)">m</text><text class="p" transform="translate(449.47 1072.50) scale(1.012 0.9703)">(a)</text><text class="p" transform="translate(1500.99 1072.45) scale(1.005 0.9663)">(b)</text>
</svg></body></html>
